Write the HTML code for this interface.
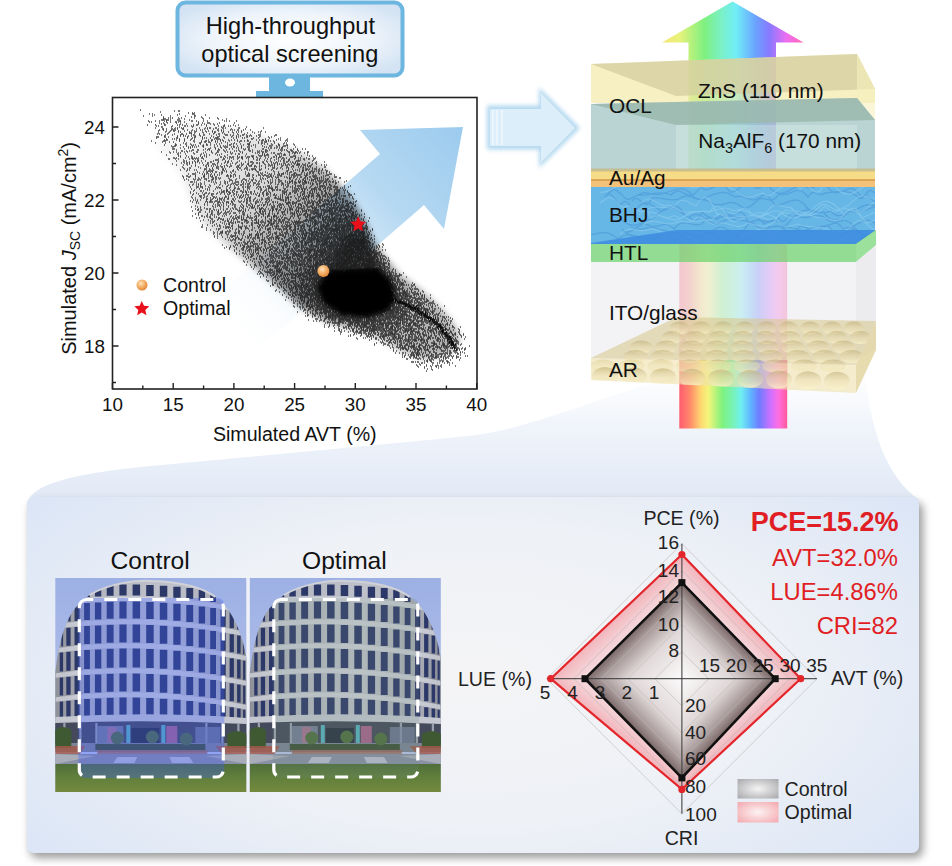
<!DOCTYPE html>
<html><head><meta charset="utf-8"><style>
html,body{margin:0;padding:0;background:#fff;width:952px;height:866px;overflow:hidden}
svg{position:absolute;left:0;top:0;font-family:"Liberation Sans",sans-serif}
</style></head><body>
<svg width="952" height="866" viewBox="0 0 952 866">

<defs>
 <linearGradient id="spot" gradientUnits="userSpaceOnUse" x1="0" y1="380" x2="0" y2="500">
  <stop offset="0" stop-color="#f6f8fc" stop-opacity="0.3"/>
  <stop offset="0.35" stop-color="#f1f5fb"/>
  <stop offset="1" stop-color="#e1e9f6"/>
 </linearGradient>
 <radialGradient id="panelg" cx="0.5" cy="0.5" r="0.62" gradientTransform="translate(0.5 0.5) scale(1 1.25) translate(-0.5 -0.5)">
  <stop offset="0" stop-color="#f4f4f6"/>
  <stop offset="0.55" stop-color="#eef1f6"/>
  <stop offset="1" stop-color="#dce6f6"/>
 </radialGradient>
 <filter id="pshadow" x="-5%" y="-5%" width="110%" height="115%">
  <feGaussianBlur stdDeviation="4"/>
 </filter>
</defs>

<path d="M27 503C33 484 70 474 150 466C260 456 400 443 476 435C520 430 590 402 640 387C680 376 715 368 740 362L864 362C870 430 885 475 919 500Z" fill="url(#spot)"/>
<rect x="30" y="502" width="893" height="356" rx="8" fill="#7a7a7a" opacity="0.75" filter="url(#pshadow)"/>
<rect x="27" y="497" width="892" height="356" rx="7" fill="url(#panelg)"/>
<defs>
 <radialGradient id="monfill" cx="50%" cy="50%" r="60%">
  <stop offset="0" stop-color="#ffffff"/>
  <stop offset="0.6" stop-color="#eef4fb"/>
  <stop offset="1" stop-color="#d3e3f3"/>
 </radialGradient>
</defs>
<rect x="177.5" y="2.5" width="225" height="73" rx="8" ry="8" fill="url(#monfill)" stroke="#6cb6e0" stroke-width="4"/>
<rect x="269" y="76" width="41" height="16" fill="#6cb6e0"/>
<rect x="256" y="91" width="67" height="6" fill="#6cb6e0"/>
<ellipse cx="290" cy="82.5" rx="5" ry="4" fill="#ffffff"/>
<text x="290.4" y="33.6" font-size="23.6" text-anchor="middle" fill="#111">High-throughput</text>
<text x="289.8" y="62" font-size="23.6" text-anchor="middle" fill="#111">optical screening</text>

<rect x="112.5" y="97.5" width="364.5" height="291.5" fill="none" stroke="#222" stroke-width="1.6"/>
<text x="112.5" y="411" font-size="18.8" text-anchor="middle" fill="#111">10</text>
<text x="173.2" y="411" font-size="18.8" text-anchor="middle" fill="#111">15</text>
<text x="233.9" y="411" font-size="18.8" text-anchor="middle" fill="#111">20</text>
<text x="294.6" y="411" font-size="18.8" text-anchor="middle" fill="#111">25</text>
<text x="355.3" y="411" font-size="18.8" text-anchor="middle" fill="#111">30</text>
<text x="416.0" y="411" font-size="18.8" text-anchor="middle" fill="#111">35</text>
<text x="476.7" y="411" font-size="18.8" text-anchor="middle" fill="#111">40</text>
<text x="105" y="352.6" font-size="18.8" text-anchor="end" fill="#111">18</text>
<text x="105" y="279.6" font-size="18.8" text-anchor="end" fill="#111">20</text>
<text x="105" y="206.6" font-size="18.8" text-anchor="end" fill="#111">22</text>
<text x="105" y="133.6" font-size="18.8" text-anchor="end" fill="#111">24</text>
<path d="M112.5 389v-6 M173.2 389v-6 M233.9 389v-6 M294.6 389v-6 M355.3 389v-6 M416.0 389v-6 M476.7 389v-6 M142.8 389v-3.5 M203.6 389v-3.5 M264.2 389v-3.5 M325.0 389v-3.5 M385.7 389v-3.5 M446.4 389v-3.5 M112.5 346.0h6 M112.5 273.0h6 M112.5 200.0h6 M112.5 127.0h6 M112.5 382.5h3.5 M112.5 309.5h3.5 M112.5 236.5h3.5 M112.5 163.5h3.5" stroke="#222" stroke-width="1.4" fill="none"/>
<text x="294.8" y="441" font-size="19.6" text-anchor="middle" fill="#111">Simulated AVT (%)</text>
<text transform="translate(75.6 248.4) rotate(-90)" font-size="20" text-anchor="middle" fill="#111">Simulated <tspan font-style="italic">J</tspan><tspan font-size="14" dy="4.5">SC</tspan><tspan dy="-4.5"> (mA/cm</tspan><tspan font-size="14" dy="-8">2</tspan><tspan dy="8">)</tspan></text>
<defs>
 <linearGradient id="barrow" gradientUnits="userSpaceOnUse" x1="463" y1="127" x2="175" y2="378">
  <stop offset="0" stop-color="#9ccbee"/>
  <stop offset="0.28" stop-color="#b6d9f2"/>
  <stop offset="0.5" stop-color="#e8f1fa"/>
  <stop offset="0.85" stop-color="#ffffff" stop-opacity="0"/>
 </linearGradient>
 <clipPath id="plotclip"><rect x="113" y="98" width="363" height="290"/></clipPath>
</defs>
<g clip-path="url(#plotclip)">
<path d="M463 127 L444 229 L424 205 L197 402 L153 351 L380 154 L360 130 Z" fill="url(#barrow)"/>
</g>
<defs><filter id="blurcore" x="-50%" y="-50%" width="200%" height="200%"><feGaussianBlur stdDeviation="2.6"/></filter><filter id="blurbase" x="-20%" y="-20%" width="140%" height="140%"><feGaussianBlur stdDeviation="3"/></filter><linearGradient id="cloudg" gradientUnits="userSpaceOnUse" x1="150" y1="115" x2="400" y2="320"><stop offset="0" stop-color="#000" stop-opacity="0"/><stop offset="0.4" stop-color="#000" stop-opacity="0.15"/><stop offset="0.72" stop-color="#000" stop-opacity="0.55"/><stop offset="1" stop-color="#000" stop-opacity="0.3"/></linearGradient></defs>
<polygon points="147.6,121.3 193.2,119.5 234.0,128.7 272.0,139.7 300.5,152.6 325.2,169.2 343.2,187.6 356.6,206.0 367.0,225.3 374.6,242.8 387.9,260.2 400.2,275.0 420.2,288.8 441.1,308.1 454.4,324.6 460.1,337.5 457.2,347.6 444.9,355.9 423.1,359.6 403.1,352.2 377.4,337.5 349.9,328.3 327.1,321.9 300.5,307.2 286.2,294.3 260.6,272.2 241.6,257.5 219.8,239.1 204.6,225.3 192.2,203.2 182.7,175.6 158.0,148.0" fill="url(#cloudg)" filter="url(#blurbase)"/>
<path d="M140 110h1m33 1h1m3 0h1m0 0h1m-20 1h1m27 1h1m3 0h1m1 0h1m-46 1h1m2 0h1m26 0h1m12 0h1m0 0h1m-40 1h1m6 0h1m15 0h1m16 0h1m10 0h1m-63 1h1m8 0h1m17 0h1m14 0h1m8 0h1m0 0h1m-33 1h1m27 0h1m9 0h1m-39 1h1m4 0h1m1 0h1m1 0h1m5 0h1m2 0h1m12 0h1m7 0h1m6 0h1m7 0h1m-55 1h1m0 0h1m0 0h1m13 0h1m4 0h1m18 0h1m14 0h1m7 0h1m-66 1h1m0 0h1m0 0h1m2 0h1m0 0h1m0 0h1m1 0h1m6 0h1m0 0h1m10 0h1m32 0h1m-75 1h1m6 0h1m3 0h1m4 0h1m1 0h1m12 0h1m0 0h1m10 0h1m0 0h1m3 0h1m6 0h1m3 0h1m16 0h1m1 0h1m2 0h1m6 0h1m-88 1h1m1 0h1m14 0h1m3 0h1m4 0h1m0 0h1m1 0h1m1 0h1m3 0h1m13 0h1m-40 1h1m3 0h1m3 0h1m8 0h1m21 0h1m3 0h1m4 0h1m0 0h1m0 0h1m9 0h1m14 0h1m-74 1h1m2 0h1m15 0h1m5 0h1m11 0h1m5 0h1m5 0h1m2 0h1m3 0h1m-71 1h1m7 0h1m8 0h1m0 0h1m11 0h1m1 0h1m2 0h1m10 0h1m2 0h1m0 0h1m3 0h1m4 0h1m7 0h1m9 0h1m8 0h1m4 0h1m-83 1h1m1 0h1m13 0h1m11 0h1m0 0h1m1 0h1m3 0h1m1 0h1m12 0h1m11 0h1m4 0h1m0 0h1m3 0h1m1 0h1m4 0h1m-75 1h1m0 0h1m8 0h1m7 0h1m12 0h1m28 0h1m1 0h1m22 0h1m-92 1h1m19 0h1m1 0h1m3 0h1m1 0h1m15 0h1m5 0h1m1 0h1m1 0h1m0 0h1m4 0h1m0 0h1m5 0h1m2 0h1m12 0h1m0 0h1m23 0h1m-102 1h1m0 0h1m2 0h1m4 0h1m0 0h1m1 0h1m2 0h1m4 0h1m0 0h1m12 0h1m7 0h1m2 0h1m5 0h1m4 0h1m4 0h1m7 0h1m13 0h1m-87 1h1m3 0h1m7 0h1m1 0h1m1 0h1m11 0h1m4 0h1m7 0h1m1 0h1m14 0h1m3 0h1m8 0h1m1 0h1m1 0h1m2 0h1m0 0h1m4 0h1m6 0h1m-93 1h1m7 0h1m3 0h1m2 0h1m0 0h1m3 0h1m5 0h1m6 0h1m2 0h1m1 0h1m8 0h1m2 0h1m3 0h1m5 0h1m2 0h1m1 0h1m17 0h1m19 0h1m-97 1h1m3 0h1m8 0h1m1 0h1m8 0h1m5 0h1m6 0h1m3 0h1m5 0h1m1 0h1m0 0h1m7 0h1m4 0h1m3 0h1m3 0h1m1 0h1m2 0h1m10 0h1m5 0h1m1 0h1m4 0h1m-108 1h1m9 0h1m20 0h1m0 0h1m0 0h1m2 0h1m8 0h1m10 0h1m7 0h1m10 0h1m13 0h1m6 0h1m-98 1h1m1 0h1m7 0h1m6 0h1m6 0h1m0 0h1m3 0h1m4 0h1m7 0h1m9 0h1m3 0h1m4 0h1m0 0h1m4 0h1m12 0h1m6 0h1m15 0h1m-100 1h1m3 0h1m6 0h1m7 0h1m2 0h1m9 0h1m0 0h1m4 0h1m3 0h1m0 0h1m11 0h1m8 0h1m0 0h1m0 0h1m2 0h1m2 0h1m4 0h1m3 0h1m0 0h1m2 0h1m3 0h1m7 0h1m0 0h1m15 0h1m0 0h1m-113 1h1m12 0h1m2 0h1m2 0h1m1 0h1m2 0h1m2 0h1m3 0h1m4 0h1m10 0h1m7 0h1m12 0h1m3 0h1m3 0h1m6 0h1m1 0h1m1 0h1m4 0h1m3 0h1m13 0h1m-119 1h1m0 0h1m0 0h1m5 0h1m0 0h1m2 0h1m8 0h1m9 0h1m6 0h1m0 0h1m6 0h1m10 0h1m3 0h1m0 0h1m4 0h1m7 0h1m4 0h1m1 0h1m7 0h1m0 0h1m11 0h1m8 0h1m2 0h1m-116 1h1m19 0h1m0 0h1m9 0h1m4 0h1m1 0h1m7 0h1m1 0h1m1 0h1m3 0h1m4 0h1m0 0h1m0 0h1m6 0h1m8 0h1m2 0h1m5 0h1m1 0h1m8 0h1m4 0h1m10 0h1m10 0h1m-115 1h1m5 0h1m1 0h1m4 0h1m4 0h1m6 0h1m10 0h1m11 0h1m1 0h1m1 0h1m0 0h1m31 0h1m0 0h1m12 0h1m12 0h1m8 0h1m-124 1h1m1 0h1m0 0h1m8 0h1m2 0h1m4 0h1m5 0h1m3 0h1m13 0h1m2 0h1m0 0h1m4 0h1m2 0h1m1 0h1m5 0h1m2 0h1m2 0h1m2 0h1m9 0h1m8 0h1m2 0h1m2 0h1m0 0h1m1 0h1m2 0h1m7 0h1m3 0h1m5 0h1m-136 1h1m11 0h1m0 0h1m0 0h1m13 0h1m4 0h1m8 0h1m7 0h1m3 0h1m0 0h1m4 0h1m3 0h1m4 0h1m2 0h1m5 0h1m7 0h1m2 0h1m0 0h1m2 0h1m2 0h1m0 0h1m12 0h1m0 0h1m3 0h1m1 0h1m1 0h1m2 0h1m11 0h1m1 0h1m-126 1h1m6 0h1m3 0h1m20 0h1m6 0h1m2 0h1m0 0h1m2 0h1m0 0h1m5 0h1m1 0h1m7 0h1m13 0h1m10 0h1m7 0h1m5 0h1m0 0h1m0 0h1m7 0h1m-120 1h1m9 0h1m17 0h1m2 0h1m12 0h1m0 0h1m9 0h1m10 0h1m5 0h1m6 0h1m14 0h1m8 0h1m2 0h1m0 0h1m11 0h1m9 0h1m1 0h1m-112 1h1m9 0h1m4 0h1m9 0h1m5 0h1m9 0h1m2 0h1m11 0h1m1 0h1m2 0h1m3 0h1m6 0h1m0 0h1m0 0h1m11 0h1m2 0h1m2 0h1m3 0h1m6 0h1m4 0h1m9 0h1m-130 1h1m10 0h1m0 0h1m3 0h1m5 0h1m4 0h1m1 0h1m1 0h1m7 0h1m2 0h1m0 0h1m2 0h1m3 0h1m12 0h1m1 0h1m0 0h1m12 0h1m4 0h1m0 0h1m3 0h1m1 0h1m16 0h1m5 0h1m0 0h1m6 0h1m0 0h1m6 0h1m-124 1h1m2 0h1m0 0h1m10 0h1m5 0h1m5 0h1m3 0h1m0 0h1m13 0h1m2 0h1m2 0h1m1 0h1m7 0h1m3 0h1m3 0h1m9 0h1m10 0h1m6 0h1m0 0h1m0 0h1m4 0h1m2 0h1m3 0h1m0 0h1m0 0h1m1 0h1m-116 1h1m0 0h1m9 0h1m4 0h1m1 0h1m1 0h1m1 0h1m1 0h1m6 0h1m10 0h1m5 0h1m3 0h1m1 0h1m0 0h1m3 0h1m1 0h1m0 0h1m6 0h1m5 0h1m0 0h1m0 0h1m5 0h1m8 0h1m1 0h1m10 0h1m4 0h1m12 0h1m-116 1h1m7 0h1m1 0h1m19 0h1m4 0h1m5 0h1m3 0h1m10 0h1m1 0h1m2 0h1m26 0h1m1 0h1m0 0h1m2 0h1m1 0h1m2 0h1m1 0h1m0 0h1m4 0h1m-116 1h1m0 0h1m0 0h1m9 0h1m20 0h1m2 0h1m0 0h1m5 0h1m2 0h1m10 0h1m2 0h1m10 0h1m1 0h1m2 0h1m0 0h1m12 0h1m0 0h1m17 0h1m11 0h1m3 0h1m4 0h1m2 0h1m-130 1h1m15 0h1m0 0h1m3 0h1m0 0h1m4 0h1m3 0h1m1 0h1m8 0h1m0 0h1m3 0h1m2 0h1m11 0h1m5 0h1m3 0h1m3 0h1m12 0h1m0 0h1m2 0h1m8 0h1m1 0h1m1 0h1m1 0h1m1 0h1m3 0h1m0 0h1m5 0h1m-117 1h1m0 0h1m3 0h1m2 0h1m1 0h1m19 0h1m5 0h1m6 0h1m9 0h1m1 0h1m2 0h1m9 0h1m0 0h1m6 0h1m1 0h1m1 0h1m3 0h1m1 0h1m13 0h1m5 0h1m3 0h1m0 0h1m5 0h1m-138 1h1m7 0h1m3 0h1m2 0h1m7 0h1m2 0h1m8 0h1m0 0h1m7 0h1m5 0h1m5 0h1m0 0h1m6 0h1m1 0h1m2 0h1m9 0h1m1 0h1m9 0h1m5 0h1m3 0h1m0 0h1m1 0h1m0 0h1m21 0h1m0 0h1m3 0h1m1 0h1m0 0h1m3 0h1m6 0h1m0 0h1m-139 1h1m7 0h1m1 0h1m12 0h1m9 0h1m8 0h1m3 0h1m13 0h1m1 0h1m9 0h1m12 0h1m1 0h1m1 0h1m2 0h1m8 0h1m1 0h1m0 0h1m5 0h1m8 0h1m2 0h1m1 0h1m0 0h1m1 0h1m1 0h1m4 0h1m2 0h1m-131 1h1m7 0h1m8 0h1m6 0h1m4 0h1m8 0h1m5 0h1m9 0h1m3 0h1m2 0h1m0 0h1m6 0h1m15 0h1m1 0h1m2 0h1m9 0h1m0 0h1m0 0h1m1 0h1m2 0h1m9 0h1m-129 1h1m11 0h1m21 0h1m3 0h1m4 0h1m7 0h1m1 0h1m7 0h1m30 0h1m3 0h1m1 0h1m1 0h1m0 0h1m0 0h1m6 0h1m7 0h1m0 0h1m0 0h1m3 0h1m17 0h1m-130 1h1m1 0h1m5 0h1m4 0h1m8 0h1m3 0h1m1 0h1m17 0h1m12 0h1m7 0h1m5 0h1m0 0h1m0 0h1m5 0h1m0 0h1m0 0h1m2 0h1m0 0h1m10 0h1m2 0h1m1 0h1m11 0h1m0 0h1m0 0h1m5 0h1m7 0h1m2 0h1m-133 1h1m7 0h1m3 0h1m9 0h1m3 0h1m13 0h1m0 0h1m3 0h1m3 0h1m0 0h1m1 0h1m0 0h1m3 0h1m1 0h1m1 0h1m0 0h1m4 0h1m0 0h1m0 0h1m2 0h1m3 0h1m11 0h1m4 0h1m0 0h1m1 0h1m2 0h1m0 0h1m9 0h1m0 0h1m0 0h1m2 0h1m-123 1h1m0 0h1m1 0h1m8 0h1m5 0h1m0 0h1m1 0h1m1 0h1m1 0h1m2 0h1m0 0h1m20 0h1m3 0h1m3 0h1m6 0h1m2 0h1m0 0h1m3 0h1m6 0h1m3 0h1m2 0h1m4 0h1m5 0h1m6 0h1m3 0h1m0 0h1m2 0h1m8 0h1m2 0h1m1 0h1m5 0h1m6 0h1m1 0h1m-148 1h1m0 0h1m5 0h1m2 0h1m10 0h1m2 0h1m0 0h1m1 0h1m1 0h1m5 0h1m14 0h1m4 0h1m0 0h1m4 0h1m3 0h1m3 0h1m4 0h1m5 0h1m4 0h1m5 0h1m7 0h1m2 0h1m5 0h1m1 0h1m2 0h1m2 0h1m4 0h1m4 0h1m8 0h1m0 0h1m3 0h1m0 0h1m4 0h1m-132 1h1m14 0h1m16 0h1m0 0h1m0 0h1m4 0h1m33 0h1m0 0h1m1 0h1m4 0h1m9 0h1m8 0h1m4 0h1m0 0h1m8 0h1m1 0h1m3 0h1m8 0h1m-138 1h1m7 0h1m1 0h1m7 0h1m2 0h1m0 0h1m2 0h1m3 0h1m7 0h1m4 0h1m6 0h1m2 0h1m2 0h1m7 0h1m8 0h1m17 0h1m3 0h1m7 0h1m1 0h1m2 0h1m0 0h1m3 0h1m7 0h1m0 0h1m0 0h1m0 0h1m12 0h1m-130 1h1m2 0h1m2 0h1m2 0h1m2 0h1m1 0h1m12 0h1m0 0h1m6 0h1m6 0h1m1 0h1m0 0h1m8 0h1m7 0h1m4 0h1m0 0h1m0 0h1m9 0h1m0 0h1m3 0h1m3 0h1m4 0h1m9 0h1m0 0h1m2 0h1m1 0h1m2 0h1m20 0h1m7 0h1m-144 1h1m2 0h1m2 0h1m1 0h1m2 0h1m2 0h1m3 0h1m2 0h1m4 0h1m0 0h1m8 0h1m6 0h1m2 0h1m4 0h1m3 0h1m4 0h1m6 0h1m4 0h1m2 0h1m0 0h1m1 0h1m3 0h1m7 0h1m1 0h1m1 0h1m1 0h1m5 0h1m0 0h1m8 0h1m1 0h1m1 0h1m10 0h1m0 0h1m5 0h1m-144 1h1m13 0h1m2 0h1m17 0h1m4 0h1m0 0h1m0 0h1m2 0h1m3 0h1m8 0h1m4 0h1m5 0h1m1 0h1m3 0h1m0 0h1m3 0h1m6 0h1m4 0h1m3 0h1m5 0h1m2 0h1m1 0h1m1 0h1m3 0h1m2 0h1m2 0h1m2 0h1m2 0h1m0 0h1m0 0h1m2 0h1m2 0h1m6 0h1m3 0h1m-141 1h1m6 0h1m3 0h1m7 0h1m7 0h1m2 0h1m1 0h1m6 0h1m10 0h1m12 0h1m2 0h1m5 0h1m2 0h1m13 0h1m3 0h1m1 0h1m0 0h1m1 0h1m2 0h1m3 0h1m1 0h1m1 0h1m1 0h1m1 0h1m6 0h1m0 0h1m0 0h1m0 0h1m3 0h1m0 0h1m2 0h1m3 0h1m9 0h1m2 0h1m1 0h1m-136 1h1m3 0h1m9 0h1m2 0h1m2 0h1m1 0h1m3 0h1m2 0h1m3 0h1m2 0h1m2 0h1m0 0h1m5 0h1m0 0h1m2 0h1m4 0h1m2 0h1m0 0h1m0 0h1m2 0h1m0 0h1m3 0h1m1 0h1m6 0h1m1 0h1m3 0h1m7 0h1m3 0h1m5 0h1m0 0h1m7 0h1m3 0h1m1 0h1m1 0h1m0 0h1m-129 1h1m15 0h1m7 0h1m9 0h1m1 0h1m2 0h1m0 0h1m1 0h1m4 0h1m6 0h1m1 0h1m7 0h1m7 0h1m1 0h1m2 0h1m5 0h1m6 0h1m1 0h1m6 0h1m5 0h1m3 0h1m1 0h1m4 0h1m1 0h1m2 0h1m4 0h1m1 0h1m5 0h1m7 0h1m0 0h1m-143 1h1m5 0h1m0 0h1m9 0h1m5 0h1m5 0h1m3 0h1m0 0h1m19 0h1m1 0h1m0 0h1m4 0h1m1 0h1m17 0h1m7 0h1m0 0h1m2 0h1m2 0h1m5 0h1m1 0h1m13 0h1m0 0h1m1 0h1m6 0h1m-129 1h1m2 0h1m16 0h1m0 0h1m3 0h1m2 0h1m5 0h1m3 0h1m0 0h1m1 0h1m11 0h1m6 0h1m1 0h1m4 0h1m0 0h1m0 0h1m0 0h1m0 0h1m3 0h1m1 0h1m6 0h1m3 0h1m3 0h1m5 0h1m5 0h1m3 0h1m6 0h1m6 0h1m0 0h1m1 0h1m2 0h1m1 0h1m0 0h1m0 0h1m2 0h1m2 0h1m-143 1h1m6 0h1m1 0h1m4 0h1m1 0h1m7 0h1m1 0h1m3 0h1m2 0h1m8 0h1m0 0h1m9 0h1m4 0h1m2 0h1m5 0h1m1 0h1m2 0h1m2 0h1m3 0h1m0 0h1m10 0h1m16 0h1m6 0h1m1 0h1m4 0h1m0 0h1m1 0h1m0 0h1m1 0h1m9 0h1m3 0h1m2 0h1m-140 1h1m21 0h1m0 0h1m1 0h1m0 0h1m11 0h1m1 0h1m5 0h1m0 0h1m22 0h1m16 0h1m12 0h1m0 0h1m5 0h1m5 0h1m2 0h1m0 0h1m7 0h1m0 0h1m1 0h1m1 0h1m2 0h1m1 0h1m4 0h1m0 0h1m-131 1h1m5 0h1m2 0h1m0 0h1m2 0h1m1 0h1m2 0h1m0 0h1m4 0h1m0 0h1m3 0h1m3 0h1m4 0h1m9 0h1m11 0h1m0 0h1m6 0h1m8 0h1m3 0h1m8 0h1m2 0h1m0 0h1m10 0h1m6 0h1m0 0h1m2 0h1m4 0h1m7 0h1m2 0h1m-135 1h1m3 0h1m7 0h1m11 0h1m2 0h1m8 0h1m16 0h1m11 0h1m1 0h1m4 0h1m10 0h1m4 0h1m1 0h1m3 0h1m4 0h1m0 0h1m5 0h1m2 0h1m2 0h1m2 0h1m1 0h1m0 0h1m4 0h1m2 0h1m1 0h1m2 0h1m-139 1h1m3 0h1m0 0h1m0 0h1m7 0h1m1 0h1m1 0h1m1 0h1m2 0h1m2 0h1m6 0h1m12 0h1m10 0h1m2 0h1m0 0h1m8 0h1m2 0h1m7 0h1m1 0h1m2 0h1m4 0h1m1 0h1m0 0h1m0 0h1m3 0h1m5 0h1m0 0h1m1 0h1m4 0h1m4 0h1m2 0h1m9 0h1m9 0h1m0 0h1m0 0h1m-137 1h1m8 0h1m5 0h1m3 0h1m2 0h1m1 0h1m7 0h1m2 0h1m2 0h1m1 0h1m11 0h1m1 0h1m2 0h1m0 0h1m4 0h1m0 0h1m2 0h1m1 0h1m0 0h1m2 0h1m1 0h1m6 0h1m0 0h1m0 0h1m1 0h1m7 0h1m1 0h1m0 0h1m1 0h1m1 0h1m0 0h1m0 0h1m0 0h1m0 0h1m3 0h1m1 0h1m0 0h1m5 0h1m1 0h1m10 0h1m0 0h1m0 0h1m5 0h1m-153 1h1m3 0h1m0 0h1m2 0h1m4 0h1m7 0h1m0 0h1m3 0h1m1 0h1m1 0h1m13 0h1m0 0h1m0 0h1m1 0h1m0 0h1m3 0h1m3 0h1m6 0h1m0 0h1m0 0h1m0 0h1m6 0h1m3 0h1m2 0h1m2 0h1m0 0h1m2 0h1m0 0h1m1 0h1m6 0h1m0 0h1m11 0h1m1 0h1m9 0h1m0 0h1m5 0h1m1 0h1m1 0h1m6 0h1m1 0h1m-143 1h1m4 0h1m0 0h1m5 0h1m7 0h1m0 0h1m6 0h1m0 0h1m2 0h1m0 0h1m13 0h1m2 0h1m18 0h1m15 0h1m0 0h1m1 0h1m3 0h1m1 0h1m0 0h1m5 0h1m1 0h1m2 0h1m1 0h1m2 0h1m2 0h1m2 0h1m0 0h1m3 0h1m3 0h1m0 0h1m2 0h1m0 0h1m0 0h1m5 0h1m7 0h1m4 0h1m0 0h1m0 0h1m-154 1h1m14 0h1m2 0h1m6 0h1m4 0h1m1 0h1m2 0h1m1 0h1m7 0h1m10 0h1m13 0h1m6 0h1m1 0h1m4 0h1m4 0h1m3 0h1m10 0h1m1 0h1m0 0h1m2 0h1m10 0h1m0 0h1m1 0h1m8 0h1m0 0h1m1 0h1m1 0h1m1 0h1m15 0h1m0 0h1m-155 1h1m6 0h1m1 0h1m3 0h1m4 0h1m0 0h1m0 0h1m5 0h1m0 0h1m2 0h1m2 0h1m9 0h1m6 0h1m6 0h1m0 0h1m4 0h1m3 0h1m6 0h1m2 0h1m1 0h1m12 0h1m10 0h1m0 0h1m5 0h1m2 0h1m3 0h1m3 0h1m3 0h1m2 0h1m0 0h1m1 0h1m1 0h1m5 0h1m1 0h1m0 0h1m3 0h1m-149 1h1m3 0h1m5 0h1m2 0h1m0 0h1m1 0h1m5 0h1m4 0h1m0 0h1m2 0h1m14 0h1m0 0h1m3 0h1m6 0h1m2 0h1m0 0h1m4 0h1m0 0h1m2 0h1m5 0h1m8 0h1m1 0h1m2 0h1m2 0h1m0 0h1m12 0h1m2 0h1m6 0h1m0 0h1m1 0h1m3 0h1m1 0h1m0 0h1m0 0h1m1 0h1m1 0h1m3 0h1m1 0h1m2 0h1m0 0h1m-120 1h1m0 0h1m14 0h1m4 0h1m2 0h1m8 0h1m6 0h1m3 0h1m3 0h1m2 0h1m7 0h1m12 0h1m0 0h1m3 0h1m3 0h1m1 0h1m0 0h1m5 0h1m1 0h1m3 0h1m0 0h1m5 0h1m1 0h1m4 0h1m0 0h1m0 0h1m1 0h1m2 0h1m3 0h1m3 0h1m1 0h1m10 0h1m-157 1h1m0 0h1m0 0h1m1 0h1m1 0h1m7 0h1m6 0h1m1 0h1m1 0h1m4 0h1m4 0h1m1 0h1m7 0h1m0 0h1m0 0h1m0 0h1m2 0h1m1 0h1m2 0h1m3 0h1m7 0h1m2 0h1m6 0h1m1 0h1m1 0h1m2 0h1m2 0h1m0 0h1m5 0h1m1 0h1m1 0h1m0 0h1m1 0h1m1 0h1m0 0h1m2 0h1m0 0h1m0 0h1m1 0h1m1 0h1m0 0h1m0 0h1m1 0h1m6 0h1m0 0h1m4 0h1m2 0h1m0 0h1m0 0h1m1 0h1m1 0h1m1 0h1m0 0h1m4 0h1m5 0h1m-145 1h1m15 0h1m7 0h1m2 0h1m4 0h1m1 0h1m8 0h1m5 0h1m3 0h1m0 0h1m0 0h1m8 0h1m3 0h1m2 0h1m9 0h1m0 0h1m4 0h1m1 0h1m2 0h1m2 0h1m0 0h1m2 0h1m3 0h1m1 0h1m0 0h1m1 0h1m1 0h1m1 0h1m6 0h1m0 0h1m2 0h1m11 0h1m0 0h1m-144 1h1m2 0h1m1 0h1m2 0h1m2 0h1m9 0h1m5 0h1m4 0h1m5 0h1m1 0h1m1 0h1m2 0h1m3 0h1m2 0h1m1 0h1m0 0h1m0 0h1m7 0h1m0 0h1m0 0h1m10 0h1m4 0h1m2 0h1m3 0h1m0 0h1m4 0h1m5 0h1m7 0h1m1 0h1m5 0h1m1 0h1m0 0h1m2 0h1m0 0h1m1 0h1m3 0h1m2 0h1m2 0h1m5 0h1m-147 1h1m2 0h1m5 0h1m1 0h1m8 0h1m9 0h1m8 0h1m1 0h1m5 0h1m0 0h1m2 0h1m0 0h1m1 0h1m9 0h1m2 0h1m20 0h1m3 0h1m3 0h1m1 0h1m7 0h1m4 0h1m2 0h1m8 0h1m4 0h1m8 0h1m2 0h1m0 0h1m-135 1h1m3 0h1m4 0h1m4 0h1m11 0h1m4 0h1m6 0h1m12 0h1m0 0h1m1 0h1m7 0h1m8 0h1m0 0h1m0 0h1m1 0h1m11 0h1m4 0h1m3 0h1m2 0h1m1 0h1m0 0h1m0 0h1m1 0h1m9 0h1m7 0h1m0 0h1m0 0h1m0 0h1m0 0h1m0 0h1m6 0h1m2 0h1m9 0h1m5 0h1m-161 1h1m6 0h1m0 0h1m1 0h1m0 0h1m0 0h1m5 0h1m7 0h1m1 0h1m7 0h1m3 0h1m7 0h1m3 0h1m0 0h1m1 0h1m1 0h1m1 0h1m7 0h1m1 0h1m0 0h1m2 0h1m1 0h1m3 0h1m5 0h1m0 0h1m0 0h1m8 0h1m0 0h1m2 0h1m1 0h1m2 0h1m4 0h1m2 0h1m2 0h1m3 0h1m4 0h1m1 0h1m2 0h1m1 0h1m2 0h1m2 0h1m1 0h1m2 0h1m0 0h1m0 0h1m0 0h1m0 0h1m10 0h1m-153 1h1m5 0h1m6 0h1m7 0h1m1 0h1m0 0h1m8 0h1m4 0h1m0 0h1m11 0h1m0 0h1m7 0h1m3 0h1m7 0h1m0 0h1m0 0h1m0 0h1m0 0h1m2 0h1m7 0h1m8 0h1m1 0h1m3 0h1m2 0h1m1 0h1m2 0h1m2 0h1m4 0h1m1 0h1m2 0h1m4 0h1m0 0h1m1 0h1m1 0h1m7 0h1m2 0h1m1 0h1m1 0h1m-154 1h1m7 0h1m5 0h1m1 0h1m7 0h1m10 0h1m7 0h1m2 0h1m0 0h1m0 0h1m3 0h1m5 0h1m8 0h1m2 0h1m4 0h1m1 0h1m2 0h1m0 0h1m4 0h1m6 0h1m0 0h1m9 0h1m0 0h1m0 0h1m1 0h1m1 0h1m0 0h1m1 0h1m0 0h1m5 0h1m0 0h1m0 0h1m0 0h1m0 0h1m2 0h1m1 0h1m2 0h1m3 0h1m2 0h1m0 0h1m3 0h1m0 0h1m-143 1h1m12 0h1m1 0h1m11 0h1m4 0h1m0 0h1m2 0h1m2 0h1m9 0h1m3 0h1m12 0h1m0 0h1m3 0h1m6 0h1m0 0h1m0 0h1m1 0h1m0 0h1m1 0h1m0 0h1m3 0h1m2 0h1m4 0h1m1 0h1m2 0h1m4 0h1m1 0h1m2 0h1m3 0h1m2 0h1m1 0h1m2 0h1m0 0h1m4 0h1m3 0h1m4 0h1m2 0h1m0 0h1m0 0h1m3 0h1m1 0h1m-153 1h1m6 0h1m0 0h1m1 0h1m9 0h1m9 0h1m0 0h1m1 0h1m0 0h1m4 0h1m1 0h1m5 0h1m0 0h1m3 0h1m8 0h1m9 0h1m1 0h1m1 0h1m3 0h1m9 0h1m0 0h1m2 0h1m6 0h1m1 0h1m0 0h1m1 0h1m3 0h1m1 0h1m5 0h1m1 0h1m1 0h1m1 0h1m4 0h1m2 0h1m0 0h1m3 0h1m4 0h1m1 0h1m0 0h1m1 0h1m4 0h1m2 0h1m-158 1h1m28 0h1m1 0h1m0 0h1m0 0h1m2 0h1m1 0h1m0 0h1m2 0h1m3 0h1m0 0h1m4 0h1m0 0h1m1 0h1m0 0h1m1 0h1m1 0h1m0 0h1m2 0h1m5 0h1m2 0h1m5 0h1m12 0h1m1 0h1m0 0h1m0 0h1m5 0h1m1 0h1m1 0h1m4 0h1m1 0h1m0 0h1m4 0h1m2 0h1m1 0h1m6 0h1m0 0h1m2 0h1m12 0h1m8 0h1m-158 1h1m5 0h1m5 0h1m2 0h1m0 0h1m2 0h1m7 0h1m3 0h1m2 0h1m4 0h1m0 0h1m2 0h1m8 0h1m3 0h1m3 0h1m6 0h1m4 0h1m0 0h1m2 0h1m0 0h1m2 0h1m12 0h1m0 0h1m4 0h1m0 0h1m3 0h1m0 0h1m4 0h1m3 0h1m2 0h1m1 0h1m0 0h1m1 0h1m3 0h1m1 0h1m6 0h1m0 0h1m1 0h1m5 0h1m0 0h1m0 0h1m0 0h1m1 0h1m4 0h1m3 0h1m-156 1h1m4 0h1m5 0h1m3 0h1m2 0h1m0 0h1m0 0h1m2 0h1m3 0h1m3 0h1m2 0h1m1 0h1m4 0h1m1 0h1m9 0h1m4 0h1m1 0h1m1 0h1m3 0h1m2 0h1m3 0h1m1 0h1m1 0h1m3 0h1m7 0h1m1 0h1m1 0h1m2 0h1m0 0h1m6 0h1m4 0h1m0 0h1m0 0h1m6 0h1m1 0h1m3 0h1m3 0h1m0 0h1m2 0h1m0 0h1m2 0h1m0 0h1m5 0h1m12 0h1m4 0h1m-163 1h1m10 0h1m0 0h1m6 0h1m16 0h1m4 0h1m2 0h1m1 0h1m2 0h1m1 0h1m1 0h1m1 0h1m0 0h1m7 0h1m2 0h1m3 0h1m2 0h1m0 0h1m5 0h1m0 0h1m1 0h1m3 0h1m1 0h1m3 0h1m1 0h1m8 0h1m2 0h1m1 0h1m5 0h1m0 0h1m2 0h1m4 0h1m0 0h1m0 0h1m4 0h1m2 0h1m1 0h1m1 0h1m2 0h1m0 0h1m0 0h1m0 0h1m1 0h1m8 0h1m0 0h1m0 0h1m0 0h1m-153 1h1m0 0h1m0 0h1m5 0h1m4 0h1m12 0h1m5 0h1m8 0h1m2 0h1m14 0h1m0 0h1m3 0h1m6 0h1m4 0h1m6 0h1m11 0h1m5 0h1m3 0h1m1 0h1m1 0h1m0 0h1m1 0h1m0 0h1m0 0h1m2 0h1m1 0h1m0 0h1m2 0h1m0 0h1m0 0h1m0 0h1m1 0h1m2 0h1m2 0h1m0 0h1m6 0h1m1 0h1m0 0h1m0 0h1m-155 1h1m8 0h1m3 0h1m1 0h1m6 0h1m0 0h1m1 0h1m8 0h1m0 0h1m1 0h1m5 0h1m2 0h1m1 0h1m0 0h1m1 0h1m2 0h1m2 0h1m1 0h1m17 0h1m6 0h1m2 0h1m1 0h1m1 0h1m2 0h1m1 0h1m0 0h1m1 0h1m0 0h1m6 0h1m0 0h1m3 0h1m1 0h1m1 0h1m0 0h1m2 0h1m5 0h1m1 0h1m0 0h1m4 0h1m2 0h1m2 0h1m0 0h1m3 0h1m2 0h1m9 0h1m2 0h1m-161 1h1m2 0h1m5 0h1m1 0h1m6 0h1m2 0h1m1 0h1m3 0h1m2 0h1m1 0h1m3 0h1m10 0h1m1 0h1m5 0h1m1 0h1m0 0h1m4 0h1m5 0h1m5 0h1m1 0h1m4 0h1m0 0h1m0 0h1m3 0h1m1 0h1m3 0h1m0 0h1m0 0h1m6 0h1m5 0h1m1 0h1m1 0h1m2 0h1m4 0h1m6 0h1m1 0h1m4 0h1m1 0h1m1 0h1m6 0h1m13 0h1m-147 1h1m0 0h1m4 0h1m4 0h1m1 0h1m0 0h1m0 0h1m2 0h1m2 0h1m0 0h1m3 0h1m0 0h1m1 0h1m8 0h1m1 0h1m2 0h1m4 0h1m7 0h1m2 0h1m0 0h1m1 0h1m8 0h1m0 0h1m0 0h1m0 0h1m4 0h1m2 0h1m7 0h1m1 0h1m3 0h1m0 0h1m0 0h1m1 0h1m9 0h1m2 0h1m2 0h1m12 0h1m0 0h1m2 0h1m0 0h1m1 0h1m0 0h1m9 0h1m-161 1h1m1 0h1m1 0h1m2 0h1m5 0h1m3 0h1m0 0h1m5 0h1m3 0h1m1 0h1m9 0h1m12 0h1m0 0h1m2 0h1m2 0h1m3 0h1m1 0h1m1 0h1m5 0h1m1 0h1m1 0h1m8 0h1m0 0h1m0 0h1m0 0h1m1 0h1m0 0h1m1 0h1m1 0h1m9 0h1m5 0h1m1 0h1m2 0h1m7 0h1m0 0h1m0 0h1m2 0h1m0 0h1m0 0h1m0 0h1m0 0h1m2 0h1m0 0h1m2 0h1m0 0h1m5 0h1m-153 1h1m6 0h1m8 0h1m3 0h1m4 0h1m0 0h1m2 0h1m4 0h1m6 0h1m2 0h1m3 0h1m2 0h1m2 0h1m2 0h1m1 0h1m0 0h1m2 0h1m2 0h1m9 0h1m2 0h1m13 0h1m1 0h1m11 0h1m0 0h1m0 0h1m4 0h1m4 0h1m2 0h1m1 0h1m3 0h1m0 0h1m2 0h1m1 0h1m2 0h1m0 0h1m1 0h1m1 0h1m0 0h1m1 0h1m0 0h1m0 0h1m5 0h1m1 0h1m0 0h1m0 0h1m8 0h1m-165 1h1m3 0h1m8 0h1m1 0h1m1 0h1m0 0h1m0 0h1m0 0h1m1 0h1m2 0h1m0 0h1m0 0h1m2 0h1m3 0h1m0 0h1m0 0h1m2 0h1m0 0h1m6 0h1m0 0h1m2 0h1m2 0h1m8 0h1m1 0h1m0 0h1m1 0h1m4 0h1m0 0h1m1 0h1m3 0h1m0 0h1m1 0h1m1 0h1m7 0h1m2 0h1m0 0h1m2 0h1m0 0h1m2 0h1m8 0h1m1 0h1m0 0h1m2 0h1m1 0h1m1 0h1m1 0h1m1 0h1m0 0h1m2 0h1m1 0h1m2 0h1m0 0h1m2 0h1m2 0h1m4 0h1m1 0h1m0 0h1m1 0h1m4 0h1m2 0h1m1 0h1m-160 1h1m1 0h1m8 0h1m10 0h1m1 0h1m2 0h1m2 0h1m1 0h1m3 0h1m13 0h1m0 0h1m2 0h1m4 0h1m0 0h1m5 0h1m4 0h1m5 0h1m3 0h1m8 0h1m0 0h1m0 0h1m0 0h1m0 0h1m1 0h1m1 0h1m0 0h1m0 0h1m5 0h1m1 0h1m3 0h1m0 0h1m0 0h1m1 0h1m0 0h1m2 0h1m0 0h1m1 0h1m0 0h1m8 0h1m1 0h1m3 0h1m0 0h1m0 0h1m0 0h1m3 0h1m4 0h1m1 0h1m0 0h1m0 0h1m-148 1h1m8 0h1m3 0h1m5 0h1m6 0h1m2 0h1m7 0h1m4 0h1m4 0h1m3 0h1m9 0h1m1 0h1m2 0h1m8 0h1m0 0h1m1 0h1m3 0h1m0 0h1m4 0h1m0 0h1m4 0h1m0 0h1m0 0h1m4 0h1m1 0h1m4 0h1m0 0h1m4 0h1m4 0h1m0 0h1m0 0h1m0 0h1m0 0h1m0 0h1m2 0h1m1 0h1m0 0h1m1 0h1m2 0h1m2 0h1m3 0h1m1 0h1m3 0h1m0 0h1m-150 1h1m2 0h1m7 0h1m2 0h1m0 0h1m1 0h1m4 0h1m5 0h1m1 0h1m0 0h1m6 0h1m5 0h1m0 0h1m2 0h1m6 0h1m1 0h1m1 0h1m0 0h1m2 0h1m1 0h1m3 0h1m4 0h1m1 0h1m0 0h1m1 0h1m4 0h1m1 0h1m4 0h1m2 0h1m1 0h1m0 0h1m4 0h1m0 0h1m4 0h1m0 0h1m2 0h1m0 0h1m0 0h1m3 0h1m0 0h1m0 0h1m1 0h1m0 0h1m1 0h1m0 0h1m0 0h1m1 0h1m0 0h1m1 0h1m2 0h1m1 0h1m1 0h1m2 0h1m0 0h1m0 0h1m6 0h1m-161 1h1m16 0h1m4 0h1m1 0h1m3 0h1m4 0h1m11 0h1m2 0h1m2 0h1m3 0h1m1 0h1m1 0h1m2 0h1m0 0h1m4 0h1m7 0h1m2 0h1m2 0h1m1 0h1m8 0h1m2 0h1m3 0h1m2 0h1m2 0h1m1 0h1m2 0h1m3 0h1m0 0h1m7 0h1m0 0h1m0 0h1m0 0h1m0 0h1m0 0h1m6 0h1m2 0h1m0 0h1m2 0h1m1 0h1m1 0h1m2 0h1m0 0h1m0 0h1m3 0h1m2 0h1m0 0h1m-165 1h1m5 0h1m2 0h1m12 0h1m1 0h1m4 0h1m2 0h1m4 0h1m5 0h1m0 0h1m5 0h1m1 0h1m3 0h1m3 0h1m0 0h1m1 0h1m11 0h1m5 0h1m0 0h1m0 0h1m2 0h1m1 0h1m1 0h1m2 0h1m4 0h1m1 0h1m1 0h1m3 0h1m3 0h1m2 0h1m2 0h1m0 0h1m0 0h1m1 0h1m0 0h1m1 0h1m1 0h1m1 0h1m1 0h1m3 0h1m2 0h1m0 0h1m2 0h1m1 0h1m3 0h1m0 0h1m2 0h1m0 0h1m0 0h1m0 0h1m2 0h1m0 0h1m0 0h1m2 0h1m-153 1h1m3 0h1m27 0h1m6 0h1m2 0h1m6 0h1m1 0h1m0 0h1m0 0h1m3 0h1m1 0h1m1 0h1m0 0h1m8 0h1m0 0h1m7 0h1m0 0h1m7 0h1m0 0h1m5 0h1m1 0h1m0 0h1m0 0h1m2 0h1m8 0h1m0 0h1m1 0h1m0 0h1m3 0h1m5 0h1m2 0h1m0 0h1m1 0h1m0 0h1m0 0h1m0 0h1m0 0h1m0 0h1m1 0h1m0 0h1m0 0h1m0 0h1m1 0h1m6 0h1m0 0h1m-158 1h1m2 0h1m7 0h1m0 0h1m1 0h1m0 0h1m2 0h1m6 0h1m2 0h1m2 0h1m0 0h1m2 0h1m2 0h1m1 0h1m0 0h1m6 0h1m1 0h1m9 0h1m3 0h1m0 0h1m0 0h1m1 0h1m1 0h1m2 0h1m3 0h1m0 0h1m1 0h1m0 0h1m0 0h1m5 0h1m1 0h1m1 0h1m2 0h1m0 0h1m0 0h1m3 0h1m1 0h1m2 0h1m0 0h1m1 0h1m2 0h1m4 0h1m1 0h1m0 0h1m4 0h1m2 0h1m3 0h1m1 0h1m0 0h1m0 0h1m0 0h1m1 0h1m1 0h1m2 0h1m0 0h1m4 0h1m0 0h1m0 0h1m0 0h1m1 0h1m0 0h1m1 0h1m-157 1h1m0 0h1m1 0h1m0 0h1m12 0h1m1 0h1m1 0h1m4 0h1m13 0h1m1 0h1m1 0h1m3 0h1m2 0h1m6 0h1m4 0h1m3 0h1m5 0h1m1 0h1m0 0h1m2 0h1m2 0h1m0 0h1m4 0h1m3 0h1m0 0h1m1 0h1m2 0h1m2 0h1m3 0h1m3 0h1m1 0h1m0 0h1m0 0h1m3 0h1m0 0h1m0 0h1m0 0h1m0 0h1m2 0h1m0 0h1m0 0h1m0 0h1m0 0h1m0 0h1m1 0h1m0 0h1m1 0h1m3 0h1m0 0h1m0 0h1m1 0h1m0 0h1m0 0h1m3 0h1m0 0h1m0 0h1m0 0h1m1 0h1m10 0h1m-170 1h1m16 0h1m1 0h1m0 0h1m5 0h1m6 0h1m3 0h1m1 0h1m6 0h1m0 0h1m0 0h1m2 0h1m1 0h1m13 0h1m0 0h1m1 0h1m1 0h1m0 0h1m3 0h1m2 0h1m3 0h1m1 0h1m5 0h1m2 0h1m8 0h1m0 0h1m0 0h1m3 0h1m0 0h1m0 0h1m0 0h1m0 0h1m1 0h1m2 0h1m0 0h1m0 0h1m0 0h1m2 0h1m3 0h1m1 0h1m1 0h1m1 0h1m0 0h1m0 0h1m0 0h1m0 0h1m0 0h1m1 0h1m0 0h1m2 0h1m0 0h1m1 0h1m0 0h1m0 0h1m0 0h1m0 0h1m0 0h1m0 0h1m1 0h1m0 0h1m0 0h1m4 0h1m4 0h1m-163 1h1m0 0h1m4 0h1m3 0h1m7 0h1m0 0h1m2 0h1m3 0h1m1 0h1m0 0h1m13 0h1m0 0h1m12 0h1m2 0h1m0 0h1m1 0h1m0 0h1m5 0h1m2 0h1m8 0h1m0 0h1m0 0h1m0 0h1m2 0h1m2 0h1m3 0h1m1 0h1m1 0h1m1 0h1m1 0h1m3 0h1m3 0h1m2 0h1m1 0h1m0 0h1m1 0h1m2 0h1m2 0h1m0 0h1m0 0h1m0 0h1m1 0h1m0 0h1m1 0h1m1 0h1m0 0h1m4 0h1m0 0h1m0 0h1m1 0h1m1 0h1m1 0h1m0 0h1m2 0h1m0 0h1m1 0h1m-158 1h1m12 0h1m0 0h1m5 0h1m1 0h1m3 0h1m1 0h1m3 0h1m2 0h1m0 0h1m0 0h1m3 0h1m4 0h1m5 0h1m4 0h1m1 0h1m2 0h1m4 0h1m3 0h1m7 0h1m0 0h1m3 0h1m4 0h1m3 0h1m0 0h1m1 0h1m1 0h1m8 0h1m0 0h1m4 0h1m0 0h1m1 0h1m0 0h1m0 0h1m0 0h1m3 0h1m1 0h1m0 0h1m4 0h1m1 0h1m0 0h1m0 0h1m2 0h1m0 0h1m0 0h1m5 0h1m2 0h1m2 0h1m1 0h1m0 0h1m-159 1h1m2 0h1m8 0h1m3 0h1m5 0h1m1 0h1m3 0h1m1 0h1m3 0h1m12 0h1m0 0h1m10 0h1m3 0h1m2 0h1m0 0h1m0 0h1m1 0h1m2 0h1m0 0h1m2 0h1m1 0h1m2 0h1m4 0h1m1 0h1m5 0h1m1 0h1m0 0h1m0 0h1m2 0h1m1 0h1m1 0h1m2 0h1m0 0h1m1 0h1m2 0h1m2 0h1m0 0h1m1 0h1m0 0h1m0 0h1m0 0h1m0 0h1m0 0h1m2 0h1m4 0h1m0 0h1m0 0h1m0 0h1m0 0h1m0 0h1m0 0h1m4 0h1m1 0h1m1 0h1m0 0h1m5 0h1m0 0h1m0 0h1m1 0h1m1 0h1m6 0h1m-167 1h1m8 0h1m2 0h1m1 0h1m1 0h1m3 0h1m7 0h1m9 0h1m6 0h1m0 0h1m2 0h1m11 0h1m3 0h1m4 0h1m5 0h1m8 0h1m1 0h1m8 0h1m2 0h1m1 0h1m0 0h1m2 0h1m0 0h1m2 0h1m0 0h1m0 0h1m0 0h1m7 0h1m1 0h1m0 0h1m1 0h1m3 0h1m3 0h1m0 0h1m3 0h1m0 0h1m0 0h1m0 0h1m0 0h1m1 0h1m0 0h1m0 0h1m0 0h1m2 0h1m2 0h1m0 0h1m0 0h1m2 0h1m2 0h1m1 0h1m-170 1h1m8 0h1m0 0h1m3 0h1m15 0h1m1 0h1m6 0h1m3 0h1m3 0h1m1 0h1m5 0h1m2 0h1m4 0h1m0 0h1m1 0h1m4 0h1m3 0h1m0 0h1m0 0h1m3 0h1m0 0h1m0 0h1m0 0h1m3 0h1m10 0h1m0 0h1m1 0h1m2 0h1m0 0h1m6 0h1m1 0h1m7 0h1m0 0h1m0 0h1m0 0h1m0 0h1m0 0h1m1 0h1m3 0h1m2 0h1m1 0h1m0 0h1m2 0h1m0 0h1m1 0h1m1 0h1m0 0h1m1 0h1m1 0h1m0 0h1m1 0h1m0 0h1m1 0h1m0 0h1m0 0h1m0 0h1m0 0h1m0 0h1m2 0h1m-156 1h1m2 0h1m1 0h1m0 0h1m3 0h1m1 0h1m13 0h1m2 0h1m3 0h1m0 0h1m2 0h1m1 0h1m3 0h1m0 0h1m5 0h1m1 0h1m4 0h1m3 0h1m1 0h1m3 0h1m1 0h1m0 0h1m1 0h1m1 0h1m3 0h1m7 0h1m7 0h1m6 0h1m0 0h1m0 0h1m1 0h1m0 0h1m1 0h1m0 0h1m0 0h1m0 0h1m2 0h1m0 0h1m0 0h1m1 0h1m1 0h1m0 0h1m0 0h1m0 0h1m0 0h1m0 0h1m4 0h1m2 0h1m2 0h1m0 0h1m3 0h1m0 0h1m0 0h1m1 0h1m0 0h1m0 0h1m3 0h1m8 0h1m-169 1h1m2 0h1m10 0h1m7 0h1m0 0h1m12 0h1m2 0h1m0 0h1m1 0h1m0 0h1m1 0h1m1 0h1m2 0h1m2 0h1m0 0h1m0 0h1m0 0h1m3 0h1m8 0h1m5 0h1m5 0h1m3 0h1m2 0h1m0 0h1m0 0h1m3 0h1m2 0h1m4 0h1m1 0h1m9 0h1m0 0h1m0 0h1m0 0h1m0 0h1m2 0h1m2 0h1m1 0h1m0 0h1m2 0h1m1 0h1m0 0h1m1 0h1m0 0h1m0 0h1m0 0h1m0 0h1m0 0h1m2 0h1m0 0h1m3 0h1m0 0h1m0 0h1m1 0h1m2 0h1m0 0h1m0 0h1m0 0h1m1 0h1m0 0h1m0 0h1m10 0h1m-159 1h1m0 0h1m5 0h1m1 0h1m0 0h1m1 0h1m3 0h1m1 0h1m3 0h1m0 0h1m1 0h1m4 0h1m1 0h1m11 0h1m0 0h1m8 0h1m3 0h1m1 0h1m1 0h1m2 0h1m2 0h1m4 0h1m2 0h1m1 0h1m9 0h1m6 0h1m2 0h1m1 0h1m0 0h1m0 0h1m4 0h1m3 0h1m0 0h1m1 0h1m0 0h1m3 0h1m1 0h1m0 0h1m0 0h1m2 0h1m0 0h1m0 0h1m0 0h1m0 0h1m0 0h1m0 0h1m0 0h1m0 0h1m0 0h1m0 0h1m2 0h1m0 0h1m1 0h1m0 0h1m3 0h1m2 0h1m1 0h1m-161 1h1m4 0h1m8 0h1m4 0h1m0 0h1m3 0h1m3 0h1m5 0h1m3 0h1m0 0h1m1 0h1m0 0h1m0 0h1m4 0h1m2 0h1m0 0h1m2 0h1m3 0h1m7 0h1m0 0h1m2 0h1m3 0h1m0 0h1m0 0h1m1 0h1m0 0h1m0 0h1m3 0h1m0 0h1m9 0h1m5 0h1m0 0h1m0 0h1m1 0h1m0 0h1m3 0h1m0 0h1m6 0h1m0 0h1m0 0h1m0 0h1m1 0h1m0 0h1m0 0h1m0 0h1m0 0h1m0 0h1m0 0h1m0 0h1m0 0h1m0 0h1m2 0h1m0 0h1m1 0h1m3 0h1m0 0h1m1 0h1m1 0h1m2 0h1m8 0h1m-164 1h1m9 0h1m1 0h1m1 0h1m10 0h1m1 0h1m0 0h1m2 0h1m1 0h1m11 0h1m0 0h1m0 0h1m4 0h1m3 0h1m1 0h1m2 0h1m3 0h1m1 0h1m0 0h1m1 0h1m0 0h1m2 0h1m0 0h1m0 0h1m2 0h1m2 0h1m8 0h1m2 0h1m1 0h1m1 0h1m4 0h1m0 0h1m0 0h1m0 0h1m1 0h1m1 0h1m0 0h1m0 0h1m1 0h1m0 0h1m0 0h1m1 0h1m4 0h1m3 0h1m1 0h1m1 0h1m0 0h1m1 0h1m0 0h1m2 0h1m0 0h1m0 0h1m0 0h1m0 0h1m1 0h1m0 0h1m1 0h1m0 0h1m0 0h1m1 0h1m0 0h1m3 0h1m1 0h1m9 0h1m-156 1h1m6 0h1m3 0h1m3 0h1m1 0h1m4 0h1m1 0h1m0 0h1m0 0h1m4 0h1m3 0h1m7 0h1m1 0h1m1 0h1m1 0h1m0 0h1m4 0h1m0 0h1m3 0h1m4 0h1m1 0h1m0 0h1m1 0h1m1 0h1m0 0h1m0 0h1m0 0h1m3 0h1m1 0h1m0 0h1m0 0h1m0 0h1m0 0h1m0 0h1m0 0h1m0 0h1m0 0h1m5 0h1m4 0h1m1 0h1m1 0h1m1 0h1m0 0h1m0 0h1m1 0h1m0 0h1m0 0h1m2 0h1m1 0h1m0 0h1m0 0h1m0 0h1m2 0h1m0 0h1m0 0h1m0 0h1m0 0h1m1 0h1m1 0h1m1 0h1m1 0h1m1 0h1m1 0h1m0 0h1m0 0h1m0 0h1m0 0h1m2 0h1m4 0h1m-155 1h1m1 0h1m9 0h1m6 0h1m1 0h1m0 0h1m0 0h1m1 0h1m5 0h1m0 0h1m3 0h1m0 0h1m3 0h1m0 0h1m1 0h1m0 0h1m0 0h1m0 0h1m0 0h1m2 0h1m2 0h1m0 0h1m3 0h1m0 0h1m0 0h1m1 0h1m0 0h1m1 0h1m1 0h1m2 0h1m1 0h1m5 0h1m3 0h1m1 0h1m1 0h1m0 0h1m0 0h1m0 0h1m2 0h1m6 0h1m1 0h1m1 0h1m0 0h1m0 0h1m1 0h1m6 0h1m0 0h1m0 0h1m0 0h1m1 0h1m4 0h1m0 0h1m1 0h1m0 0h1m1 0h1m1 0h1m0 0h1m1 0h1m0 0h1m0 0h1m0 0h1m0 0h1m0 0h1m1 0h1m0 0h1m0 0h1m0 0h1m2 0h1m6 0h1m-151 1h1m7 0h1m1 0h1m1 0h1m0 0h1m12 0h1m8 0h1m6 0h1m9 0h1m2 0h1m0 0h1m0 0h1m3 0h1m7 0h1m1 0h1m3 0h1m1 0h1m1 0h1m0 0h1m0 0h1m6 0h1m1 0h1m5 0h1m1 0h1m0 0h1m0 0h1m0 0h1m2 0h1m0 0h1m1 0h1m3 0h1m0 0h1m1 0h1m1 0h1m0 0h1m1 0h1m0 0h1m1 0h1m2 0h1m4 0h1m0 0h1m0 0h1m0 0h1m1 0h1m0 0h1m1 0h1m0 0h1m1 0h1m0 0h1m0 0h1m2 0h1m0 0h1m-162 1h1m4 0h1m6 0h1m4 0h1m9 0h1m2 0h1m5 0h1m12 0h1m0 0h1m6 0h1m0 0h1m1 0h1m1 0h1m2 0h1m0 0h1m1 0h1m0 0h1m4 0h1m5 0h1m3 0h1m2 0h1m0 0h1m3 0h1m3 0h1m0 0h1m2 0h1m0 0h1m3 0h1m2 0h1m3 0h1m0 0h1m1 0h1m4 0h1m0 0h1m0 0h1m1 0h1m0 0h1m0 0h1m0 0h1m4 0h1m0 0h1m0 0h1m0 0h1m1 0h1m0 0h1m0 0h1m0 0h1m0 0h1m0 0h1m0 0h1m1 0h1m0 0h1m0 0h1m0 0h1m1 0h1m0 0h1m0 0h1m0 0h1m0 0h1m1 0h1m3 0h1m3 0h1m-155 1h1m4 0h1m1 0h1m0 0h1m4 0h1m5 0h1m0 0h1m5 0h1m3 0h1m1 0h1m1 0h1m2 0h1m2 0h1m4 0h1m1 0h1m3 0h1m2 0h1m0 0h1m4 0h1m1 0h1m1 0h1m0 0h1m0 0h1m2 0h1m2 0h1m1 0h1m0 0h1m0 0h1m0 0h1m4 0h1m0 0h1m1 0h1m0 0h1m1 0h1m0 0h1m0 0h1m1 0h1m2 0h1m0 0h1m0 0h1m0 0h1m2 0h1m0 0h1m5 0h1m0 0h1m0 0h1m0 0h1m1 0h1m0 0h1m0 0h1m0 0h1m0 0h1m1 0h1m0 0h1m0 0h1m0 0h1m0 0h1m0 0h1m0 0h1m0 0h1m0 0h1m2 0h1m0 0h1m0 0h1m0 0h1m0 0h1m0 0h1m0 0h1m0 0h1m0 0h1m0 0h1m0 0h1m0 0h1m0 0h1m0 0h1m0 0h1m0 0h1m0 0h1m0 0h1m1 0h1m3 0h1m0 0h1m-166 1h1m0 0h1m20 0h1m2 0h1m0 0h1m0 0h1m0 0h1m8 0h1m0 0h1m0 0h1m0 0h1m3 0h1m12 0h1m0 0h1m1 0h1m3 0h1m6 0h1m2 0h1m0 0h1m1 0h1m3 0h1m0 0h1m1 0h1m1 0h1m2 0h1m0 0h1m2 0h1m0 0h1m5 0h1m1 0h1m0 0h1m4 0h1m2 0h1m5 0h1m1 0h1m0 0h1m1 0h1m0 0h1m0 0h1m0 0h1m0 0h1m7 0h1m0 0h1m1 0h1m0 0h1m0 0h1m0 0h1m0 0h1m0 0h1m0 0h1m0 0h1m1 0h1m0 0h1m1 0h1m1 0h1m1 0h1m1 0h1m2 0h1m0 0h1m1 0h1m4 0h1m-162 1h1m13 0h1m4 0h1m0 0h1m1 0h1m1 0h1m1 0h1m7 0h1m0 0h1m3 0h1m0 0h1m0 0h1m4 0h1m1 0h1m3 0h1m3 0h1m2 0h1m3 0h1m0 0h1m5 0h1m9 0h1m2 0h1m0 0h1m4 0h1m2 0h1m1 0h1m0 0h1m1 0h1m5 0h1m1 0h1m2 0h1m0 0h1m0 0h1m1 0h1m2 0h1m0 0h1m1 0h1m0 0h1m0 0h1m1 0h1m0 0h1m0 0h1m0 0h1m0 0h1m2 0h1m0 0h1m0 0h1m0 0h1m0 0h1m1 0h1m0 0h1m0 0h1m0 0h1m1 0h1m0 0h1m1 0h1m0 0h1m2 0h1m2 0h1m0 0h1m0 0h1m0 0h1m2 0h1m0 0h1m0 0h1m0 0h1m0 0h1m-151 1h1m1 0h1m0 0h1m12 0h1m3 0h1m1 0h1m2 0h1m3 0h1m2 0h1m11 0h1m4 0h1m1 0h1m0 0h1m0 0h1m3 0h1m1 0h1m1 0h1m0 0h1m0 0h1m0 0h1m2 0h1m0 0h1m0 0h1m0 0h1m2 0h1m0 0h1m3 0h1m0 0h1m1 0h1m0 0h1m3 0h1m1 0h1m4 0h1m0 0h1m3 0h1m0 0h1m1 0h1m0 0h1m1 0h1m0 0h1m0 0h1m2 0h1m0 0h1m0 0h1m1 0h1m0 0h1m0 0h1m0 0h1m0 0h1m0 0h1m0 0h1m0 0h1m0 0h1m0 0h1m0 0h1m1 0h1m0 0h1m0 0h1m0 0h1m1 0h1m0 0h1m0 0h1m0 0h1m0 0h1m1 0h1m0 0h1m0 0h1m0 0h1m0 0h1m0 0h1m0 0h1m0 0h1m0 0h1m0 0h1m0 0h1m1 0h1m1 0h1m0 0h1m4 0h1m-167 1h1m3 0h1m7 0h1m10 0h1m5 0h1m15 0h1m0 0h1m6 0h1m0 0h1m6 0h1m0 0h1m1 0h1m8 0h1m1 0h1m1 0h1m3 0h1m3 0h1m1 0h1m0 0h1m0 0h1m4 0h1m0 0h1m0 0h1m1 0h1m0 0h1m2 0h1m0 0h1m1 0h1m2 0h1m2 0h1m0 0h1m0 0h1m0 0h1m0 0h1m1 0h1m1 0h1m0 0h1m0 0h1m0 0h1m0 0h1m1 0h1m0 0h1m0 0h1m0 0h1m0 0h1m0 0h1m0 0h1m0 0h1m0 0h1m1 0h1m0 0h1m0 0h1m0 0h1m0 0h1m0 0h1m1 0h1m0 0h1m0 0h1m1 0h1m0 0h1m1 0h1m0 0h1m0 0h1m0 0h1m2 0h1m0 0h1m0 0h1m2 0h1m5 0h1m-151 1h1m4 0h1m2 0h1m7 0h1m0 0h1m4 0h1m4 0h1m5 0h1m30 0h1m3 0h1m1 0h1m2 0h1m3 0h1m0 0h1m2 0h1m1 0h1m3 0h1m0 0h1m0 0h1m2 0h1m1 0h1m2 0h1m2 0h1m0 0h1m2 0h1m1 0h1m1 0h1m0 0h1m0 0h1m0 0h1m0 0h1m0 0h1m0 0h1m0 0h1m1 0h1m0 0h1m1 0h1m0 0h1m0 0h1m1 0h1m0 0h1m0 0h1m4 0h1m1 0h1m0 0h1m0 0h1m0 0h1m0 0h1m2 0h1m0 0h1m6 0h1m-158 1h1m3 0h1m2 0h1m0 0h1m0 0h1m2 0h1m0 0h1m1 0h1m0 0h1m5 0h1m2 0h1m0 0h1m3 0h1m13 0h1m1 0h1m3 0h1m0 0h1m3 0h1m0 0h1m0 0h1m5 0h1m4 0h1m0 0h1m3 0h1m0 0h1m4 0h1m1 0h1m2 0h1m3 0h1m0 0h1m0 0h1m2 0h1m4 0h1m0 0h1m0 0h1m0 0h1m0 0h1m0 0h1m0 0h1m1 0h1m1 0h1m0 0h1m0 0h1m0 0h1m0 0h1m1 0h1m2 0h1m0 0h1m1 0h1m0 0h1m1 0h1m0 0h1m1 0h1m0 0h1m0 0h1m1 0h1m0 0h1m0 0h1m0 0h1m1 0h1m1 0h1m0 0h1m0 0h1m1 0h1m0 0h1m0 0h1m0 0h1m0 0h1m1 0h1m0 0h1m0 0h1m1 0h1m1 0h1m1 0h1m-155 1h1m5 0h1m0 0h1m0 0h1m2 0h1m8 0h1m1 0h1m1 0h1m5 0h1m12 0h1m4 0h1m5 0h1m5 0h1m0 0h1m0 0h1m2 0h1m4 0h1m0 0h1m1 0h1m5 0h1m0 0h1m0 0h1m7 0h1m1 0h1m0 0h1m0 0h1m0 0h1m0 0h1m1 0h1m0 0h1m0 0h1m2 0h1m0 0h1m0 0h1m1 0h1m0 0h1m0 0h1m2 0h1m0 0h1m0 0h1m1 0h1m0 0h1m0 0h1m2 0h1m1 0h1m0 0h1m0 0h1m0 0h1m1 0h1m0 0h1m0 0h1m0 0h1m2 0h1m2 0h1m0 0h1m0 0h1m1 0h1m1 0h1m2 0h1m0 0h1m0 0h1m0 0h1m0 0h1m0 0h1m4 0h1m-157 1h1m3 0h1m1 0h1m6 0h1m1 0h1m6 0h1m3 0h1m1 0h1m1 0h1m5 0h1m1 0h1m4 0h1m1 0h1m1 0h1m0 0h1m0 0h1m3 0h1m3 0h1m1 0h1m2 0h1m4 0h1m1 0h1m2 0h1m0 0h1m1 0h1m3 0h1m0 0h1m1 0h1m2 0h1m0 0h1m1 0h1m0 0h1m0 0h1m0 0h1m1 0h1m2 0h1m0 0h1m0 0h1m0 0h1m1 0h1m0 0h1m0 0h1m1 0h1m0 0h1m0 0h1m0 0h1m0 0h1m1 0h1m3 0h1m1 0h1m1 0h1m0 0h1m0 0h1m0 0h1m1 0h1m1 0h1m0 0h1m1 0h1m1 0h1m0 0h1m0 0h1m1 0h1m0 0h1m0 0h1m0 0h1m0 0h1m1 0h1m0 0h1m2 0h1m0 0h1m1 0h1m0 0h1m0 0h1m3 0h1m1 0h1m-149 1h1m5 0h1m3 0h1m3 0h1m7 0h1m5 0h1m0 0h1m0 0h1m3 0h1m0 0h1m0 0h1m0 0h1m1 0h1m8 0h1m2 0h1m3 0h1m2 0h1m0 0h1m0 0h1m1 0h1m6 0h1m2 0h1m0 0h1m1 0h1m5 0h1m1 0h1m0 0h1m0 0h1m2 0h1m1 0h1m0 0h1m0 0h1m1 0h1m0 0h1m0 0h1m3 0h1m0 0h1m0 0h1m0 0h1m0 0h1m0 0h1m0 0h1m0 0h1m0 0h1m1 0h1m2 0h1m0 0h1m0 0h1m1 0h1m0 0h1m0 0h1m0 0h1m0 0h1m0 0h1m0 0h1m1 0h1m1 0h1m0 0h1m0 0h1m0 0h1m0 0h1m0 0h1m0 0h1m0 0h1m0 0h1m1 0h1m0 0h1m0 0h1m1 0h1m0 0h1m0 0h1m3 0h1m2 0h1m-158 1h1m2 0h1m12 0h1m1 0h1m0 0h1m0 0h1m0 0h1m1 0h1m4 0h1m4 0h1m1 0h1m5 0h1m2 0h1m3 0h1m4 0h1m0 0h1m8 0h1m0 0h1m3 0h1m0 0h1m1 0h1m2 0h1m2 0h1m0 0h1m4 0h1m2 0h1m1 0h1m1 0h1m0 0h1m0 0h1m1 0h1m2 0h1m0 0h1m0 0h1m0 0h1m1 0h1m0 0h1m0 0h1m1 0h1m2 0h1m1 0h1m1 0h1m0 0h1m4 0h1m1 0h1m0 0h1m0 0h1m1 0h1m1 0h1m0 0h1m1 0h1m0 0h1m0 0h1m0 0h1m0 0h1m0 0h1m0 0h1m0 0h1m0 0h1m0 0h1m0 0h1m0 0h1m0 0h1m0 0h1m0 0h1m0 0h1m0 0h1m2 0h1m0 0h1m2 0h1m0 0h1m5 0h1m-161 1h1m7 0h1m4 0h1m3 0h1m0 0h1m4 0h1m7 0h1m2 0h1m2 0h1m3 0h1m1 0h1m0 0h1m3 0h1m3 0h1m4 0h1m0 0h1m2 0h1m0 0h1m0 0h1m6 0h1m0 0h1m7 0h1m1 0h1m2 0h1m3 0h1m2 0h1m2 0h1m0 0h1m1 0h1m2 0h1m0 0h1m1 0h1m0 0h1m0 0h1m0 0h1m0 0h1m1 0h1m0 0h1m1 0h1m0 0h1m0 0h1m0 0h1m0 0h1m0 0h1m0 0h1m0 0h1m0 0h1m0 0h1m0 0h1m0 0h1m1 0h1m0 0h1m0 0h1m0 0h1m0 0h1m0 0h1m0 0h1m0 0h1m0 0h1m0 0h1m0 0h1m0 0h1m1 0h1m0 0h1m2 0h1m1 0h1m2 0h1m0 0h1m0 0h1m1 0h1m0 0h1m-150 1h1m11 0h1m5 0h1m0 0h1m1 0h1m3 0h1m4 0h1m0 0h1m1 0h1m2 0h1m0 0h1m2 0h1m0 0h1m0 0h1m4 0h1m2 0h1m1 0h1m0 0h1m2 0h1m2 0h1m0 0h1m0 0h1m0 0h1m4 0h1m4 0h1m0 0h1m0 0h1m1 0h1m0 0h1m0 0h1m0 0h1m2 0h1m1 0h1m0 0h1m0 0h1m0 0h1m0 0h1m1 0h1m1 0h1m0 0h1m0 0h1m0 0h1m0 0h1m0 0h1m0 0h1m1 0h1m2 0h1m0 0h1m0 0h1m0 0h1m1 0h1m0 0h1m0 0h1m0 0h1m0 0h1m0 0h1m0 0h1m1 0h1m2 0h1m0 0h1m0 0h1m0 0h1m0 0h1m0 0h1m0 0h1m1 0h1m0 0h1m0 0h1m0 0h1m1 0h1m0 0h1m0 0h1m1 0h1m1 0h1m0 0h1m1 0h1m4 0h1m0 0h1m2 0h1m0 0h1m2 0h1m-147 1h1m7 0h1m1 0h1m2 0h1m0 0h1m1 0h1m10 0h1m2 0h1m6 0h1m1 0h1m3 0h1m2 0h1m1 0h1m1 0h1m2 0h1m2 0h1m0 0h1m5 0h1m2 0h1m1 0h1m2 0h1m0 0h1m5 0h1m0 0h1m0 0h1m2 0h1m0 0h1m1 0h1m0 0h1m0 0h1m0 0h1m0 0h1m0 0h1m0 0h1m0 0h1m0 0h1m2 0h1m0 0h1m0 0h1m0 0h1m0 0h1m0 0h1m0 0h1m1 0h1m1 0h1m1 0h1m0 0h1m1 0h1m0 0h1m0 0h1m0 0h1m0 0h1m0 0h1m0 0h1m0 0h1m0 0h1m0 0h1m0 0h1m0 0h1m0 0h1m0 0h1m1 0h1m0 0h1m0 0h1m0 0h1m0 0h1m0 0h1m0 0h1m1 0h1m0 0h1m0 0h1m0 0h1m0 0h1m0 0h1m4 0h1m3 0h1m-147 1h1m1 0h1m1 0h1m1 0h1m0 0h1m4 0h1m0 0h1m2 0h1m4 0h1m3 0h1m5 0h1m1 0h1m0 0h1m0 0h1m4 0h1m0 0h1m6 0h1m1 0h1m7 0h1m0 0h1m1 0h1m1 0h1m2 0h1m0 0h1m3 0h1m2 0h1m0 0h1m3 0h1m0 0h1m0 0h1m0 0h1m0 0h1m1 0h1m0 0h1m1 0h1m0 0h1m0 0h1m1 0h1m0 0h1m0 0h1m1 0h1m0 0h1m0 0h1m0 0h1m1 0h1m3 0h1m0 0h1m2 0h1m0 0h1m0 0h1m0 0h1m0 0h1m0 0h1m0 0h1m0 0h1m0 0h1m1 0h1m0 0h1m0 0h1m0 0h1m0 0h1m0 0h1m0 0h1m0 0h1m0 0h1m0 0h1m0 0h1m0 0h1m0 0h1m0 0h1m0 0h1m0 0h1m0 0h1m0 0h1m0 0h1m0 0h1m5 0h1m-142 1h1m17 0h1m3 0h1m5 0h1m4 0h1m0 0h1m13 0h1m2 0h1m0 0h1m4 0h1m0 0h1m0 0h1m1 0h1m3 0h1m2 0h1m1 0h1m0 0h1m1 0h1m1 0h1m3 0h1m0 0h1m0 0h1m3 0h1m0 0h1m0 0h1m0 0h1m1 0h1m0 0h1m0 0h1m0 0h1m0 0h1m0 0h1m2 0h1m1 0h1m1 0h1m0 0h1m0 0h1m3 0h1m0 0h1m0 0h1m0 0h1m0 0h1m2 0h1m0 0h1m1 0h1m2 0h1m0 0h1m0 0h1m2 0h1m0 0h1m0 0h1m0 0h1m0 0h1m0 0h1m0 0h1m0 0h1m1 0h1m0 0h1m0 0h1m-134 1h1m7 0h1m0 0h1m2 0h1m0 0h1m2 0h1m0 0h1m1 0h1m7 0h1m1 0h1m0 0h1m3 0h1m0 0h1m1 0h1m2 0h1m1 0h1m2 0h1m2 0h1m0 0h1m0 0h1m0 0h1m2 0h1m4 0h1m0 0h1m4 0h1m0 0h1m0 0h1m2 0h1m1 0h1m0 0h1m0 0h1m0 0h1m0 0h1m2 0h1m1 0h1m0 0h1m0 0h1m0 0h1m0 0h1m1 0h1m1 0h1m0 0h1m0 0h1m0 0h1m0 0h1m0 0h1m1 0h1m0 0h1m1 0h1m0 0h1m0 0h1m0 0h1m0 0h1m2 0h1m0 0h1m0 0h1m1 0h1m1 0h1m0 0h1m0 0h1m0 0h1m0 0h1m0 0h1m0 0h1m0 0h1m0 0h1m0 0h1m1 0h1m0 0h1m0 0h1m0 0h1m0 0h1m0 0h1m0 0h1m0 0h1m0 0h1m1 0h1m0 0h1m4 0h1m-141 1h1m3 0h1m0 0h1m1 0h1m3 0h1m1 0h1m2 0h1m1 0h1m8 0h1m0 0h1m3 0h1m1 0h1m7 0h1m2 0h1m0 0h1m0 0h1m0 0h1m1 0h1m10 0h1m0 0h1m0 0h1m0 0h1m2 0h1m0 0h1m1 0h1m0 0h1m0 0h1m0 0h1m0 0h1m3 0h1m4 0h1m4 0h1m0 0h1m0 0h1m0 0h1m0 0h1m0 0h1m1 0h1m0 0h1m0 0h1m0 0h1m0 0h1m1 0h1m0 0h1m0 0h1m0 0h1m1 0h1m0 0h1m0 0h1m2 0h1m0 0h1m1 0h1m0 0h1m0 0h1m0 0h1m0 0h1m0 0h1m0 0h1m0 0h1m0 0h1m0 0h1m0 0h1m0 0h1m0 0h1m0 0h1m0 0h1m0 0h1m0 0h1m0 0h1m0 0h1m0 0h1m1 0h1m0 0h1m-135 1h1m7 0h1m0 0h1m0 0h1m0 0h1m2 0h1m2 0h1m0 0h1m0 0h1m0 0h1m0 0h1m1 0h1m1 0h1m2 0h1m3 0h1m5 0h1m0 0h1m2 0h1m0 0h1m4 0h1m1 0h1m0 0h1m2 0h1m2 0h1m0 0h1m2 0h1m0 0h1m2 0h1m3 0h1m0 0h1m4 0h1m0 0h1m3 0h1m1 0h1m0 0h1m1 0h1m0 0h1m0 0h1m0 0h1m0 0h1m0 0h1m0 0h1m2 0h1m0 0h1m0 0h1m1 0h1m0 0h1m1 0h1m0 0h1m0 0h1m0 0h1m1 0h1m0 0h1m0 0h1m0 0h1m0 0h1m1 0h1m0 0h1m0 0h1m0 0h1m1 0h1m0 0h1m0 0h1m0 0h1m2 0h1m0 0h1m0 0h1m0 0h1m0 0h1m0 0h1m2 0h1m4 0h1m0 0h1m8 0h1m-161 1h1m12 0h1m1 0h1m2 0h1m1 0h1m10 0h1m11 0h1m3 0h1m1 0h1m0 0h1m3 0h1m2 0h1m4 0h1m0 0h1m0 0h1m5 0h1m3 0h1m2 0h1m1 0h1m0 0h1m1 0h1m0 0h1m0 0h1m1 0h1m1 0h1m0 0h1m0 0h1m3 0h1m0 0h1m0 0h1m1 0h1m0 0h1m0 0h1m0 0h1m0 0h1m0 0h1m0 0h1m1 0h1m0 0h1m0 0h1m0 0h1m0 0h1m0 0h1m0 0h1m0 0h1m0 0h1m0 0h1m0 0h1m1 0h1m0 0h1m0 0h1m0 0h1m0 0h1m1 0h1m1 0h1m0 0h1m0 0h1m0 0h1m0 0h1m0 0h1m3 0h1m0 0h1m0 0h1m0 0h1m0 0h1m0 0h1m0 0h1m2 0h1m2 0h1m8 0h1m4 0h1m-154 1h1m2 0h1m6 0h1m2 0h1m0 0h1m2 0h1m0 0h1m1 0h1m0 0h1m0 0h1m2 0h1m1 0h1m0 0h1m5 0h1m6 0h1m9 0h1m1 0h1m1 0h1m1 0h1m1 0h1m3 0h1m1 0h1m0 0h1m0 0h1m0 0h1m2 0h1m0 0h1m0 0h1m5 0h1m1 0h1m1 0h1m0 0h1m0 0h1m0 0h1m3 0h1m1 0h1m0 0h1m2 0h1m0 0h1m0 0h1m0 0h1m0 0h1m0 0h1m0 0h1m0 0h1m0 0h1m0 0h1m0 0h1m0 0h1m0 0h1m0 0h1m0 0h1m0 0h1m1 0h1m0 0h1m0 0h1m0 0h1m0 0h1m0 0h1m0 0h1m1 0h1m0 0h1m0 0h1m0 0h1m0 0h1m0 0h1m0 0h1m0 0h1m1 0h1m1 0h1m0 0h1m0 0h1m0 0h1m0 0h1m0 0h1m0 0h1m1 0h1m1 0h1m3 0h1m2 0h1m-154 1h1m3 0h1m3 0h1m8 0h1m0 0h1m1 0h1m1 0h1m0 0h1m0 0h1m2 0h1m1 0h1m2 0h1m2 0h1m3 0h1m3 0h1m0 0h1m1 0h1m0 0h1m3 0h1m4 0h1m0 0h1m1 0h1m0 0h1m6 0h1m2 0h1m1 0h1m0 0h1m1 0h1m1 0h1m1 0h1m3 0h1m0 0h1m0 0h1m0 0h1m0 0h1m1 0h1m0 0h1m0 0h1m0 0h1m1 0h1m0 0h1m0 0h1m1 0h1m1 0h1m0 0h1m0 0h1m0 0h1m0 0h1m0 0h1m0 0h1m0 0h1m2 0h1m0 0h1m1 0h1m1 0h1m0 0h1m1 0h1m0 0h1m0 0h1m0 0h1m0 0h1m0 0h1m0 0h1m2 0h1m0 0h1m0 0h1m0 0h1m0 0h1m0 0h1m0 0h1m1 0h1m0 0h1m0 0h1m0 0h1m7 0h1m1 0h1m2 0h1m1 0h1m2 0h1m-159 1h1m4 0h1m6 0h1m5 0h1m0 0h1m3 0h1m8 0h1m0 0h1m1 0h1m0 0h1m4 0h1m1 0h1m0 0h1m5 0h1m0 0h1m2 0h1m3 0h1m0 0h1m5 0h1m4 0h1m0 0h1m1 0h1m3 0h1m0 0h1m1 0h1m1 0h1m0 0h1m10 0h1m1 0h1m3 0h1m0 0h1m1 0h1m1 0h1m0 0h1m0 0h1m1 0h1m0 0h1m0 0h1m0 0h1m0 0h1m1 0h1m0 0h1m1 0h1m0 0h1m0 0h1m1 0h1m0 0h1m2 0h1m0 0h1m1 0h1m1 0h1m0 0h1m0 0h1m0 0h1m0 0h1m1 0h1m0 0h1m0 0h1m0 0h1m0 0h1m0 0h1m0 0h1m0 0h1m0 0h1m1 0h1m4 0h1m-148 1h1m6 0h1m4 0h1m1 0h1m2 0h1m2 0h1m0 0h1m4 0h1m1 0h1m0 0h1m1 0h1m2 0h1m2 0h1m3 0h1m0 0h1m0 0h1m3 0h1m0 0h1m5 0h1m3 0h1m0 0h1m0 0h1m1 0h1m0 0h1m1 0h1m1 0h1m4 0h1m2 0h1m1 0h1m0 0h1m0 0h1m0 0h1m0 0h1m0 0h1m0 0h1m0 0h1m0 0h1m0 0h1m1 0h1m0 0h1m1 0h1m0 0h1m0 0h1m0 0h1m0 0h1m0 0h1m1 0h1m0 0h1m0 0h1m0 0h1m0 0h1m0 0h1m0 0h1m1 0h1m0 0h1m0 0h1m0 0h1m0 0h1m0 0h1m0 0h1m1 0h1m0 0h1m0 0h1m0 0h1m2 0h1m0 0h1m0 0h1m0 0h1m0 0h1m1 0h1m0 0h1m0 0h1m0 0h1m0 0h1m0 0h1m0 0h1m0 0h1m1 0h1m0 0h1m1 0h1m1 0h1m0 0h1m3 0h1m3 0h1m-145 1h1m7 0h1m0 0h1m4 0h1m0 0h1m1 0h1m1 0h1m1 0h1m0 0h1m0 0h1m2 0h1m2 0h1m0 0h1m1 0h1m2 0h1m0 0h1m4 0h1m0 0h1m2 0h1m1 0h1m1 0h1m4 0h1m3 0h1m2 0h1m2 0h1m0 0h1m2 0h1m2 0h1m0 0h1m2 0h1m0 0h1m0 0h1m0 0h1m1 0h1m2 0h1m1 0h1m0 0h1m1 0h1m0 0h1m0 0h1m0 0h1m2 0h1m0 0h1m0 0h1m0 0h1m1 0h1m0 0h1m0 0h1m0 0h1m0 0h1m1 0h1m0 0h1m0 0h1m0 0h1m1 0h1m0 0h1m0 0h1m0 0h1m0 0h1m0 0h1m0 0h1m0 0h1m0 0h1m0 0h1m1 0h1m0 0h1m0 0h1m0 0h1m0 0h1m0 0h1m0 0h1m0 0h1m1 0h1m1 0h1m0 0h1m1 0h1m0 0h1m2 0h1m0 0h1m7 0h1m2 0h1m-152 1h1m4 0h1m5 0h1m1 0h1m1 0h1m5 0h1m2 0h1m2 0h1m4 0h1m2 0h1m3 0h1m0 0h1m0 0h1m0 0h1m2 0h1m2 0h1m3 0h1m0 0h1m0 0h1m1 0h1m0 0h1m0 0h1m0 0h1m2 0h1m0 0h1m0 0h1m0 0h1m0 0h1m0 0h1m0 0h1m0 0h1m0 0h1m0 0h1m1 0h1m0 0h1m0 0h1m0 0h1m0 0h1m1 0h1m0 0h1m0 0h1m0 0h1m0 0h1m0 0h1m0 0h1m0 0h1m0 0h1m0 0h1m1 0h1m0 0h1m0 0h1m0 0h1m2 0h1m0 0h1m1 0h1m0 0h1m0 0h1m0 0h1m0 0h1m0 0h1m0 0h1m0 0h1m1 0h1m0 0h1m0 0h1m1 0h1m0 0h1m0 0h1m0 0h1m0 0h1m0 0h1m0 0h1m0 0h1m0 0h1m2 0h1m0 0h1m0 0h1m0 0h1m0 0h1m0 0h1m0 0h1m1 0h1m0 0h1m2 0h1m0 0h1m0 0h1m1 0h1m1 0h1m0 0h1m-128 1h1m1 0h1m1 0h1m1 0h1m7 0h1m7 0h1m5 0h1m2 0h1m1 0h1m3 0h1m0 0h1m0 0h1m4 0h1m0 0h1m5 0h1m3 0h1m0 0h1m2 0h1m0 0h1m0 0h1m3 0h1m1 0h1m1 0h1m0 0h1m0 0h1m0 0h1m0 0h1m0 0h1m0 0h1m0 0h1m0 0h1m1 0h1m0 0h1m1 0h1m1 0h1m0 0h1m0 0h1m0 0h1m0 0h1m0 0h1m0 0h1m0 0h1m0 0h1m0 0h1m0 0h1m0 0h1m0 0h1m0 0h1m0 0h1m0 0h1m0 0h1m1 0h1m0 0h1m0 0h1m0 0h1m1 0h1m3 0h1m1 0h1m0 0h1m2 0h1m0 0h1m0 0h1m1 0h1m0 0h1m0 0h1m0 0h1m0 0h1m4 0h1m0 0h1m-145 1h1m5 0h1m0 0h1m1 0h1m7 0h1m3 0h1m0 0h1m4 0h1m1 0h1m3 0h1m2 0h1m1 0h1m3 0h1m0 0h1m1 0h1m1 0h1m7 0h1m2 0h1m0 0h1m2 0h1m1 0h1m3 0h1m1 0h1m0 0h1m0 0h1m0 0h1m0 0h1m3 0h1m0 0h1m0 0h1m0 0h1m2 0h1m0 0h1m0 0h1m0 0h1m0 0h1m0 0h1m1 0h1m0 0h1m0 0h1m0 0h1m1 0h1m1 0h1m0 0h1m0 0h1m0 0h1m0 0h1m0 0h1m1 0h1m0 0h1m0 0h1m0 0h1m0 0h1m0 0h1m0 0h1m0 0h1m1 0h1m0 0h1m0 0h1m0 0h1m0 0h1m0 0h1m0 0h1m0 0h1m0 0h1m0 0h1m0 0h1m0 0h1m1 0h1m0 0h1m0 0h1m0 0h1m0 0h1m0 0h1m0 0h1m2 0h1m0 0h1m1 0h1m0 0h1m0 0h1m0 0h1m0 0h1m-144 1h1m2 0h1m4 0h1m5 0h1m1 0h1m3 0h1m1 0h1m10 0h1m1 0h1m1 0h1m1 0h1m0 0h1m6 0h1m2 0h1m0 0h1m2 0h1m1 0h1m0 0h1m0 0h1m0 0h1m0 0h1m1 0h1m0 0h1m1 0h1m1 0h1m1 0h1m3 0h1m3 0h1m0 0h1m1 0h1m0 0h1m2 0h1m0 0h1m0 0h1m0 0h1m1 0h1m0 0h1m0 0h1m1 0h1m0 0h1m0 0h1m0 0h1m0 0h1m0 0h1m0 0h1m0 0h1m0 0h1m0 0h1m0 0h1m0 0h1m0 0h1m1 0h1m0 0h1m0 0h1m0 0h1m0 0h1m1 0h1m0 0h1m0 0h1m0 0h1m0 0h1m1 0h1m2 0h1m0 0h1m0 0h1m0 0h1m0 0h1m0 0h1m0 0h1m1 0h1m0 0h1m0 0h1m0 0h1m0 0h1m0 0h1m2 0h1m0 0h1m0 0h1m0 0h1m1 0h1m1 0h1m-135 1h1m3 0h1m1 0h1m13 0h1m2 0h1m5 0h1m3 0h1m3 0h1m0 0h1m0 0h1m1 0h1m4 0h1m1 0h1m0 0h1m0 0h1m0 0h1m1 0h1m0 0h1m0 0h1m4 0h1m0 0h1m0 0h1m1 0h1m1 0h1m0 0h1m0 0h1m0 0h1m1 0h1m0 0h1m0 0h1m0 0h1m0 0h1m0 0h1m1 0h1m0 0h1m1 0h1m0 0h1m0 0h1m0 0h1m1 0h1m0 0h1m0 0h1m0 0h1m0 0h1m0 0h1m0 0h1m0 0h1m1 0h1m1 0h1m0 0h1m0 0h1m1 0h1m0 0h1m0 0h1m0 0h1m3 0h1m0 0h1m0 0h1m2 0h1m1 0h1m3 0h1m0 0h1m0 0h1m0 0h1m0 0h1m0 0h1m2 0h1m0 0h1m0 0h1m1 0h1m2 0h1m-139 1h1m7 0h1m0 0h1m4 0h1m1 0h1m0 0h1m4 0h1m3 0h1m0 0h1m0 0h1m0 0h1m0 0h1m1 0h1m1 0h1m0 0h1m0 0h1m1 0h1m1 0h1m3 0h1m4 0h1m0 0h1m0 0h1m1 0h1m1 0h1m0 0h1m1 0h1m6 0h1m1 0h1m0 0h1m0 0h1m0 0h1m1 0h1m0 0h1m0 0h1m1 0h1m0 0h1m0 0h1m0 0h1m1 0h1m2 0h1m0 0h1m0 0h1m1 0h1m0 0h1m1 0h1m0 0h1m0 0h1m0 0h1m0 0h1m0 0h1m0 0h1m2 0h1m0 0h1m0 0h1m0 0h1m0 0h1m1 0h1m0 0h1m0 0h1m1 0h1m0 0h1m0 0h1m1 0h1m0 0h1m1 0h1m0 0h1m1 0h1m0 0h1m0 0h1m1 0h1m0 0h1m0 0h1m0 0h1m2 0h1m0 0h1m1 0h1m2 0h1m0 0h1m1 0h1m0 0h1m0 0h1m-140 1h1m2 0h1m1 0h1m0 0h1m7 0h1m1 0h1m0 0h1m10 0h1m2 0h1m4 0h1m4 0h1m0 0h1m1 0h1m0 0h1m1 0h1m4 0h1m1 0h1m0 0h1m0 0h1m0 0h1m2 0h1m0 0h1m0 0h1m1 0h1m0 0h1m1 0h1m2 0h1m0 0h1m0 0h1m1 0h1m1 0h1m0 0h1m0 0h1m0 0h1m1 0h1m0 0h1m0 0h1m0 0h1m0 0h1m0 0h1m1 0h1m0 0h1m0 0h1m0 0h1m0 0h1m0 0h1m0 0h1m1 0h1m0 0h1m3 0h1m0 0h1m0 0h1m0 0h1m0 0h1m0 0h1m0 0h1m0 0h1m0 0h1m0 0h1m0 0h1m0 0h1m0 0h1m0 0h1m0 0h1m0 0h1m0 0h1m0 0h1m2 0h1m2 0h1m0 0h1m0 0h1m0 0h1m0 0h1m0 0h1m0 0h1m0 0h1m0 0h1m2 0h1m4 0h1m-138 1h1m7 0h1m4 0h1m8 0h1m0 0h1m0 0h1m1 0h1m3 0h1m0 0h1m2 0h1m0 0h1m0 0h1m1 0h1m0 0h1m0 0h1m0 0h1m0 0h1m1 0h1m4 0h1m3 0h1m0 0h1m1 0h1m0 0h1m0 0h1m2 0h1m0 0h1m0 0h1m1 0h1m0 0h1m0 0h1m2 0h1m0 0h1m0 0h1m4 0h1m0 0h1m0 0h1m0 0h1m0 0h1m0 0h1m0 0h1m0 0h1m0 0h1m1 0h1m1 0h1m1 0h1m0 0h1m0 0h1m0 0h1m0 0h1m0 0h1m1 0h1m0 0h1m0 0h1m0 0h1m0 0h1m0 0h1m0 0h1m3 0h1m0 0h1m0 0h1m0 0h1m0 0h1m0 0h1m1 0h1m1 0h1m0 0h1m1 0h1m0 0h1m1 0h1m0 0h1m0 0h1m0 0h1m2 0h1m2 0h1m1 0h1m3 0h1m1 0h1m-143 1h1m6 0h1m0 0h1m1 0h1m2 0h1m2 0h1m0 0h1m3 0h1m0 0h1m6 0h1m5 0h1m0 0h1m0 0h1m1 0h1m2 0h1m4 0h1m0 0h1m0 0h1m1 0h1m0 0h1m0 0h1m4 0h1m2 0h1m0 0h1m0 0h1m3 0h1m0 0h1m0 0h1m0 0h1m0 0h1m4 0h1m0 0h1m0 0h1m0 0h1m0 0h1m0 0h1m1 0h1m1 0h1m0 0h1m0 0h1m0 0h1m1 0h1m0 0h1m0 0h1m1 0h1m0 0h1m1 0h1m0 0h1m1 0h1m0 0h1m0 0h1m0 0h1m1 0h1m0 0h1m1 0h1m0 0h1m1 0h1m0 0h1m0 0h1m0 0h1m0 0h1m0 0h1m0 0h1m0 0h1m0 0h1m0 0h1m0 0h1m0 0h1m0 0h1m0 0h1m0 0h1m0 0h1m0 0h1m0 0h1m0 0h1m1 0h1m0 0h1m1 0h1m0 0h1m1 0h1m0 0h1m-135 1h1m9 0h1m5 0h1m3 0h1m1 0h1m0 0h1m13 0h1m1 0h1m0 0h1m7 0h1m0 0h1m1 0h1m0 0h1m0 0h1m0 0h1m2 0h1m0 0h1m0 0h1m0 0h1m0 0h1m2 0h1m3 0h1m0 0h1m0 0h1m1 0h1m0 0h1m0 0h1m0 0h1m0 0h1m0 0h1m0 0h1m0 0h1m0 0h1m0 0h1m0 0h1m0 0h1m0 0h1m0 0h1m0 0h1m0 0h1m0 0h1m0 0h1m1 0h1m0 0h1m0 0h1m0 0h1m0 0h1m0 0h1m1 0h1m0 0h1m0 0h1m0 0h1m0 0h1m2 0h1m1 0h1m0 0h1m0 0h1m0 0h1m0 0h1m0 0h1m0 0h1m0 0h1m1 0h1m0 0h1m0 0h1m0 0h1m0 0h1m0 0h1m0 0h1m0 0h1m2 0h1m0 0h1m2 0h1m2 0h1m1 0h1m2 0h1m-146 1h1m8 0h1m7 0h1m3 0h1m0 0h1m5 0h1m0 0h1m2 0h1m1 0h1m1 0h1m4 0h1m0 0h1m2 0h1m2 0h1m1 0h1m1 0h1m0 0h1m3 0h1m4 0h1m1 0h1m1 0h1m0 0h1m0 0h1m1 0h1m1 0h1m0 0h1m0 0h1m1 0h1m0 0h1m0 0h1m0 0h1m0 0h1m0 0h1m1 0h1m0 0h1m0 0h1m0 0h1m0 0h1m0 0h1m1 0h1m1 0h1m0 0h1m0 0h1m0 0h1m0 0h1m1 0h1m0 0h1m1 0h1m0 0h1m0 0h1m0 0h1m0 0h1m0 0h1m1 0h1m0 0h1m0 0h1m0 0h1m0 0h1m0 0h1m0 0h1m0 0h1m0 0h1m0 0h1m2 0h1m0 0h1m0 0h1m0 0h1m0 0h1m0 0h1m0 0h1m0 0h1m0 0h1m0 0h1m1 0h1m1 0h1m0 0h1m0 0h1m2 0h1m5 0h1m1 0h1m-146 1h1m2 0h1m6 0h1m3 0h1m1 0h1m0 0h1m3 0h1m0 0h1m2 0h1m0 0h1m0 0h1m1 0h1m0 0h1m1 0h1m0 0h1m1 0h1m0 0h1m0 0h1m0 0h1m3 0h1m0 0h1m2 0h1m0 0h1m0 0h1m0 0h1m0 0h1m1 0h1m0 0h1m1 0h1m1 0h1m0 0h1m0 0h1m0 0h1m3 0h1m1 0h1m2 0h1m2 0h1m0 0h1m1 0h1m0 0h1m0 0h1m1 0h1m0 0h1m2 0h1m0 0h1m0 0h1m3 0h1m0 0h1m1 0h1m2 0h1m0 0h1m0 0h1m1 0h1m0 0h1m0 0h1m0 0h1m1 0h1m0 0h1m0 0h1m1 0h1m0 0h1m1 0h1m0 0h1m0 0h1m1 0h1m2 0h1m0 0h1m0 0h1m1 0h1m0 0h1m0 0h1m0 0h1m0 0h1m0 0h1m0 0h1m0 0h1m0 0h1m0 0h1m0 0h1m0 0h1m1 0h1m0 0h1m2 0h1m-125 1h1m6 0h1m0 0h1m2 0h1m1 0h1m0 0h1m4 0h1m0 0h1m2 0h1m1 0h1m2 0h1m2 0h1m0 0h1m3 0h1m3 0h1m6 0h1m0 0h1m1 0h1m3 0h1m1 0h1m0 0h1m0 0h1m0 0h1m1 0h1m1 0h1m1 0h1m0 0h1m0 0h1m0 0h1m0 0h1m2 0h1m0 0h1m0 0h1m1 0h1m0 0h1m0 0h1m0 0h1m0 0h1m0 0h1m1 0h1m0 0h1m0 0h1m0 0h1m0 0h1m0 0h1m0 0h1m0 0h1m0 0h1m0 0h1m2 0h1m0 0h1m0 0h1m3 0h1m1 0h1m0 0h1m0 0h1m1 0h1m1 0h1m0 0h1m0 0h1m0 0h1m0 0h1m0 0h1m0 0h1m1 0h1m1 0h1m0 0h1m0 0h1m0 0h1m1 0h1m0 0h1m0 0h1m0 0h1m1 0h1m-134 1h1m3 0h1m1 0h1m5 0h1m8 0h1m0 0h1m0 0h1m0 0h1m0 0h1m0 0h1m2 0h1m0 0h1m2 0h1m3 0h1m0 0h1m1 0h1m0 0h1m0 0h1m1 0h1m0 0h1m0 0h1m0 0h1m0 0h1m0 0h1m1 0h1m0 0h1m2 0h1m0 0h1m1 0h1m1 0h1m0 0h1m0 0h1m0 0h1m0 0h1m0 0h1m0 0h1m0 0h1m1 0h1m0 0h1m0 0h1m0 0h1m0 0h1m0 0h1m0 0h1m0 0h1m0 0h1m0 0h1m0 0h1m0 0h1m0 0h1m0 0h1m0 0h1m0 0h1m1 0h1m0 0h1m0 0h1m0 0h1m0 0h1m0 0h1m0 0h1m0 0h1m1 0h1m2 0h1m0 0h1m0 0h1m0 0h1m1 0h1m0 0h1m1 0h1m0 0h1m0 0h1m0 0h1m0 0h1m0 0h1m0 0h1m0 0h1m0 0h1m0 0h1m1 0h1m0 0h1m0 0h1m0 0h1m1 0h1m3 0h1m0 0h1m0 0h1m0 0h1m3 0h1m0 0h1m-144 1h1m3 0h1m3 0h1m0 0h1m3 0h1m2 0h1m3 0h1m2 0h1m3 0h1m3 0h1m7 0h1m1 0h1m1 0h1m1 0h1m1 0h1m4 0h1m0 0h1m0 0h1m0 0h1m2 0h1m0 0h1m2 0h1m4 0h1m0 0h1m0 0h1m0 0h1m0 0h1m1 0h1m0 0h1m0 0h1m0 0h1m0 0h1m1 0h1m1 0h1m0 0h1m0 0h1m0 0h1m0 0h1m0 0h1m0 0h1m1 0h1m0 0h1m0 0h1m0 0h1m1 0h1m0 0h1m0 0h1m0 0h1m0 0h1m1 0h1m0 0h1m2 0h1m0 0h1m0 0h1m0 0h1m0 0h1m0 0h1m0 0h1m0 0h1m0 0h1m0 0h1m1 0h1m0 0h1m0 0h1m0 0h1m0 0h1m0 0h1m0 0h1m0 0h1m0 0h1m1 0h1m0 0h1m0 0h1m0 0h1m1 0h1m1 0h1m0 0h1m0 0h1m2 0h1m0 0h1m3 0h1m-133 1h1m3 0h1m2 0h1m4 0h1m1 0h1m1 0h1m0 0h1m0 0h1m0 0h1m0 0h1m0 0h1m0 0h1m1 0h1m2 0h1m0 0h1m0 0h1m5 0h1m0 0h1m1 0h1m0 0h1m0 0h1m3 0h1m1 0h1m1 0h1m0 0h1m1 0h1m0 0h1m0 0h1m0 0h1m0 0h1m0 0h1m1 0h1m0 0h1m0 0h1m1 0h1m1 0h1m0 0h1m0 0h1m2 0h1m2 0h1m1 0h1m0 0h1m1 0h1m0 0h1m0 0h1m0 0h1m0 0h1m0 0h1m0 0h1m0 0h1m1 0h1m2 0h1m1 0h1m0 0h1m1 0h1m0 0h1m0 0h1m0 0h1m0 0h1m0 0h1m0 0h1m1 0h1m2 0h1m0 0h1m1 0h1m0 0h1m0 0h1m0 0h1m0 0h1m0 0h1m0 0h1m0 0h1m0 0h1m0 0h1m1 0h1m1 0h1m1 0h1m0 0h1m1 0h1m0 0h1m0 0h1m4 0h1m-139 1h1m2 0h1m10 0h1m1 0h1m0 0h1m6 0h1m0 0h1m0 0h1m4 0h1m3 0h1m0 0h1m3 0h1m5 0h1m5 0h1m2 0h1m1 0h1m0 0h1m0 0h1m0 0h1m0 0h1m0 0h1m1 0h1m0 0h1m0 0h1m1 0h1m0 0h1m2 0h1m0 0h1m0 0h1m0 0h1m0 0h1m0 0h1m0 0h1m0 0h1m0 0h1m0 0h1m0 0h1m0 0h1m1 0h1m0 0h1m1 0h1m0 0h1m0 0h1m0 0h1m0 0h1m0 0h1m0 0h1m0 0h1m2 0h1m0 0h1m0 0h1m1 0h1m0 0h1m0 0h1m1 0h1m1 0h1m0 0h1m3 0h1m0 0h1m0 0h1m0 0h1m0 0h1m0 0h1m0 0h1m0 0h1m1 0h1m5 0h1m0 0h1m0 0h1m2 0h1m0 0h1m0 0h1m0 0h1m-125 1h1m2 0h1m7 0h1m0 0h1m1 0h1m1 0h1m3 0h1m0 0h1m0 0h1m0 0h1m0 0h1m4 0h1m1 0h1m2 0h1m2 0h1m0 0h1m2 0h1m5 0h1m1 0h1m0 0h1m1 0h1m0 0h1m0 0h1m0 0h1m0 0h1m0 0h1m0 0h1m1 0h1m1 0h1m0 0h1m1 0h1m1 0h1m0 0h1m0 0h1m3 0h1m0 0h1m1 0h1m0 0h1m0 0h1m1 0h1m0 0h1m1 0h1m0 0h1m0 0h1m0 0h1m0 0h1m0 0h1m0 0h1m1 0h1m1 0h1m0 0h1m0 0h1m0 0h1m0 0h1m2 0h1m1 0h1m0 0h1m0 0h1m0 0h1m0 0h1m0 0h1m1 0h1m0 0h1m0 0h1m1 0h1m0 0h1m0 0h1m1 0h1m1 0h1m0 0h1m0 0h1m3 0h1m0 0h1m-137 1h1m6 0h1m9 0h1m5 0h1m1 0h1m0 0h1m1 0h1m3 0h1m3 0h1m6 0h1m0 0h1m1 0h1m0 0h1m2 0h1m1 0h1m0 0h1m2 0h1m0 0h1m1 0h1m0 0h1m1 0h1m0 0h1m1 0h1m2 0h1m0 0h1m0 0h1m0 0h1m0 0h1m0 0h1m1 0h1m0 0h1m0 0h1m1 0h1m0 0h1m0 0h1m0 0h1m0 0h1m0 0h1m0 0h1m0 0h1m0 0h1m1 0h1m0 0h1m0 0h1m0 0h1m0 0h1m0 0h1m0 0h1m0 0h1m0 0h1m0 0h1m0 0h1m1 0h1m0 0h1m0 0h1m2 0h1m0 0h1m0 0h1m0 0h1m0 0h1m0 0h1m0 0h1m0 0h1m0 0h1m1 0h1m2 0h1m0 0h1m1 0h1m0 0h1m0 0h1m1 0h1m0 0h1m0 0h1m2 0h1m0 0h1m1 0h1m5 0h1m-132 1h1m4 0h1m1 0h1m0 0h1m0 0h1m0 0h1m3 0h1m0 0h1m1 0h1m0 0h1m0 0h1m4 0h1m0 0h1m1 0h1m4 0h1m1 0h1m0 0h1m2 0h1m0 0h1m2 0h1m0 0h1m1 0h1m0 0h1m0 0h1m1 0h1m0 0h1m0 0h1m0 0h1m1 0h1m0 0h1m0 0h1m1 0h1m2 0h1m0 0h1m0 0h1m0 0h1m0 0h1m1 0h1m0 0h1m0 0h1m0 0h1m0 0h1m0 0h1m0 0h1m0 0h1m0 0h1m0 0h1m2 0h1m1 0h1m1 0h1m0 0h1m0 0h1m0 0h1m0 0h1m0 0h1m0 0h1m0 0h1m0 0h1m0 0h1m0 0h1m1 0h1m0 0h1m0 0h1m0 0h1m0 0h1m0 0h1m0 0h1m0 0h1m0 0h1m0 0h1m0 0h1m0 0h1m0 0h1m0 0h1m0 0h1m0 0h1m0 0h1m0 0h1m1 0h1m0 0h1m0 0h1m0 0h1m0 0h1m0 0h1m0 0h1m1 0h1m1 0h1m1 0h1m3 0h1m2 0h1m-137 1h1m4 0h1m5 0h1m3 0h1m1 0h1m0 0h1m0 0h1m0 0h1m0 0h1m7 0h1m2 0h1m0 0h1m1 0h1m0 0h1m0 0h1m0 0h1m1 0h1m5 0h1m1 0h1m0 0h1m0 0h1m2 0h1m0 0h1m0 0h1m0 0h1m0 0h1m0 0h1m0 0h1m0 0h1m0 0h1m1 0h1m1 0h1m0 0h1m1 0h1m1 0h1m0 0h1m0 0h1m0 0h1m0 0h1m1 0h1m0 0h1m1 0h1m0 0h1m0 0h1m0 0h1m0 0h1m3 0h1m0 0h1m0 0h1m0 0h1m0 0h1m0 0h1m0 0h1m0 0h1m0 0h1m0 0h1m0 0h1m0 0h1m0 0h1m0 0h1m1 0h1m1 0h1m1 0h1m0 0h1m1 0h1m1 0h1m0 0h1m1 0h1m0 0h1m0 0h1m0 0h1m0 0h1m0 0h1m1 0h1m0 0h1m0 0h1m0 0h1m0 0h1m0 0h1m3 0h1m-132 1h1m1 0h1m4 0h1m0 0h1m0 0h1m0 0h1m0 0h1m2 0h1m0 0h1m2 0h1m0 0h1m0 0h1m0 0h1m0 0h1m1 0h1m6 0h1m2 0h1m8 0h1m2 0h1m0 0h1m0 0h1m1 0h1m1 0h1m0 0h1m0 0h1m0 0h1m0 0h1m1 0h1m1 0h1m0 0h1m0 0h1m0 0h1m0 0h1m0 0h1m0 0h1m0 0h1m0 0h1m0 0h1m0 0h1m0 0h1m0 0h1m1 0h1m0 0h1m0 0h1m0 0h1m0 0h1m0 0h1m0 0h1m0 0h1m0 0h1m0 0h1m0 0h1m1 0h1m0 0h1m0 0h1m0 0h1m0 0h1m0 0h1m0 0h1m0 0h1m0 0h1m1 0h1m0 0h1m0 0h1m0 0h1m0 0h1m0 0h1m0 0h1m0 0h1m0 0h1m1 0h1m0 0h1m0 0h1m0 0h1m0 0h1m0 0h1m0 0h1m0 0h1m1 0h1m0 0h1m0 0h1m0 0h1m0 0h1m1 0h1m1 0h1m1 0h1m0 0h1m0 0h1m1 0h1m0 0h1m0 0h1m1 0h1m0 0h1m2 0h1m-136 1h1m0 0h1m5 0h1m1 0h1m0 0h1m0 0h1m2 0h1m4 0h1m1 0h1m0 0h1m1 0h1m5 0h1m1 0h1m4 0h1m0 0h1m1 0h1m0 0h1m1 0h1m1 0h1m0 0h1m0 0h1m0 0h1m0 0h1m0 0h1m1 0h1m0 0h1m0 0h1m0 0h1m1 0h1m0 0h1m0 0h1m0 0h1m1 0h1m0 0h1m0 0h1m1 0h1m1 0h1m2 0h1m1 0h1m0 0h1m0 0h1m0 0h1m1 0h1m0 0h1m0 0h1m0 0h1m0 0h1m0 0h1m0 0h1m0 0h1m0 0h1m0 0h1m0 0h1m0 0h1m0 0h1m0 0h1m1 0h1m0 0h1m1 0h1m0 0h1m0 0h1m0 0h1m0 0h1m0 0h1m2 0h1m0 0h1m0 0h1m2 0h1m0 0h1m0 0h1m0 0h1m1 0h1m0 0h1m0 0h1m0 0h1m0 0h1m0 0h1m0 0h1m0 0h1m0 0h1m0 0h1m0 0h1m1 0h1m0 0h1m1 0h1m0 0h1m2 0h1m9 0h1m-147 1h1m1 0h1m2 0h1m10 0h1m0 0h1m1 0h1m0 0h1m4 0h1m1 0h1m1 0h1m0 0h1m0 0h1m1 0h1m0 0h1m1 0h1m1 0h1m0 0h1m0 0h1m1 0h1m0 0h1m1 0h1m0 0h1m0 0h1m1 0h1m1 0h1m0 0h1m0 0h1m1 0h1m0 0h1m0 0h1m0 0h1m0 0h1m0 0h1m2 0h1m0 0h1m0 0h1m0 0h1m0 0h1m0 0h1m1 0h1m0 0h1m0 0h1m1 0h1m0 0h1m0 0h1m0 0h1m3 0h1m0 0h1m0 0h1m0 0h1m0 0h1m0 0h1m0 0h1m2 0h1m0 0h1m0 0h1m0 0h1m1 0h1m2 0h1m0 0h1m1 0h1m0 0h1m0 0h1m0 0h1m0 0h1m1 0h1m2 0h1m0 0h1m1 0h1m0 0h1m1 0h1m0 0h1m1 0h1m0 0h1m1 0h1m0 0h1m0 0h1m2 0h1m0 0h1m1 0h1m1 0h1m0 0h1m0 0h1m3 0h1m0 0h1m2 0h1m-137 1h1m3 0h1m2 0h1m1 0h1m0 0h1m2 0h1m3 0h1m0 0h1m2 0h1m0 0h1m1 0h1m1 0h1m1 0h1m0 0h1m0 0h1m0 0h1m0 0h1m2 0h1m0 0h1m0 0h1m0 0h1m0 0h1m4 0h1m1 0h1m0 0h1m0 0h1m0 0h1m0 0h1m1 0h1m1 0h1m0 0h1m1 0h1m2 0h1m0 0h1m0 0h1m0 0h1m0 0h1m0 0h1m0 0h1m0 0h1m0 0h1m0 0h1m0 0h1m0 0h1m0 0h1m0 0h1m0 0h1m0 0h1m0 0h1m0 0h1m0 0h1m0 0h1m0 0h1m1 0h1m0 0h1m0 0h1m1 0h1m0 0h1m0 0h1m0 0h1m1 0h1m0 0h1m1 0h1m0 0h1m0 0h1m1 0h1m0 0h1m0 0h1m1 0h1m0 0h1m0 0h1m0 0h1m0 0h1m0 0h1m0 0h1m0 0h1m0 0h1m0 0h1m0 0h1m2 0h1m0 0h1m0 0h1m0 0h1m0 0h1m0 0h1m0 0h1m0 0h1m1 0h1m1 0h1m0 0h1m0 0h1m1 0h1m5 0h1m0 0h1m0 0h1m-139 1h1m7 0h1m3 0h1m2 0h1m1 0h1m0 0h1m1 0h1m1 0h1m1 0h1m7 0h1m0 0h1m1 0h1m0 0h1m0 0h1m1 0h1m0 0h1m0 0h1m0 0h1m0 0h1m2 0h1m0 0h1m0 0h1m2 0h1m1 0h1m0 0h1m0 0h1m0 0h1m0 0h1m0 0h1m0 0h1m1 0h1m0 0h1m0 0h1m0 0h1m0 0h1m0 0h1m0 0h1m0 0h1m0 0h1m0 0h1m0 0h1m1 0h1m0 0h1m1 0h1m0 0h1m0 0h1m0 0h1m0 0h1m1 0h1m0 0h1m1 0h1m1 0h1m0 0h1m0 0h1m2 0h1m0 0h1m0 0h1m1 0h1m0 0h1m1 0h1m0 0h1m0 0h1m1 0h1m1 0h1m0 0h1m0 0h1m0 0h1m0 0h1m0 0h1m0 0h1m1 0h1m1 0h1m1 0h1m1 0h1m1 0h1m0 0h1m0 0h1m0 0h1m0 0h1m0 0h1m0 0h1m1 0h1m1 0h1m0 0h1m0 0h1m0 0h1m0 0h1m0 0h1m-140 1h1m5 0h1m7 0h1m0 0h1m1 0h1m1 0h1m11 0h1m0 0h1m2 0h1m1 0h1m0 0h1m4 0h1m0 0h1m0 0h1m0 0h1m0 0h1m2 0h1m0 0h1m1 0h1m1 0h1m0 0h1m1 0h1m0 0h1m0 0h1m0 0h1m1 0h1m1 0h1m0 0h1m0 0h1m1 0h1m0 0h1m0 0h1m0 0h1m0 0h1m0 0h1m0 0h1m0 0h1m0 0h1m0 0h1m0 0h1m0 0h1m0 0h1m0 0h1m0 0h1m0 0h1m0 0h1m0 0h1m0 0h1m0 0h1m0 0h1m0 0h1m0 0h1m0 0h1m0 0h1m0 0h1m0 0h1m0 0h1m0 0h1m0 0h1m0 0h1m1 0h1m0 0h1m0 0h1m0 0h1m0 0h1m0 0h1m0 0h1m1 0h1m0 0h1m0 0h1m1 0h1m0 0h1m0 0h1m0 0h1m0 0h1m1 0h1m0 0h1m0 0h1m0 0h1m0 0h1m1 0h1m1 0h1m0 0h1m0 0h1m0 0h1m0 0h1m0 0h1m2 0h1m1 0h1m8 0h1m-134 1h1m1 0h1m1 0h1m5 0h1m0 0h1m1 0h1m1 0h1m2 0h1m0 0h1m0 0h1m0 0h1m0 0h1m3 0h1m0 0h1m0 0h1m5 0h1m0 0h1m0 0h1m1 0h1m0 0h1m0 0h1m0 0h1m0 0h1m0 0h1m0 0h1m0 0h1m0 0h1m1 0h1m0 0h1m1 0h1m0 0h1m0 0h1m0 0h1m0 0h1m0 0h1m1 0h1m0 0h1m0 0h1m0 0h1m0 0h1m0 0h1m0 0h1m0 0h1m0 0h1m0 0h1m0 0h1m0 0h1m0 0h1m0 0h1m0 0h1m0 0h1m0 0h1m0 0h1m1 0h1m0 0h1m1 0h1m0 0h1m0 0h1m0 0h1m0 0h1m0 0h1m0 0h1m3 0h1m0 0h1m0 0h1m0 0h1m1 0h1m0 0h1m0 0h1m1 0h1m0 0h1m0 0h1m0 0h1m2 0h1m1 0h1m0 0h1m0 0h1m0 0h1m0 0h1m1 0h1m0 0h1m0 0h1m2 0h1m1 0h1m0 0h1m3 0h1m-127 1h1m4 0h1m0 0h1m2 0h1m0 0h1m1 0h1m2 0h1m7 0h1m3 0h1m1 0h1m0 0h1m0 0h1m1 0h1m0 0h1m0 0h1m1 0h1m0 0h1m0 0h1m0 0h1m0 0h1m0 0h1m0 0h1m0 0h1m0 0h1m0 0h1m1 0h1m0 0h1m0 0h1m0 0h1m0 0h1m2 0h1m0 0h1m1 0h1m0 0h1m0 0h1m1 0h1m1 0h1m0 0h1m0 0h1m0 0h1m3 0h1m0 0h1m0 0h1m0 0h1m0 0h1m2 0h1m0 0h1m1 0h1m1 0h1m1 0h1m0 0h1m1 0h1m0 0h1m1 0h1m0 0h1m0 0h1m0 0h1m0 0h1m0 0h1m0 0h1m0 0h1m0 0h1m0 0h1m0 0h1m0 0h1m0 0h1m0 0h1m1 0h1m0 0h1m0 0h1m0 0h1m0 0h1m1 0h1m1 0h1m0 0h1m0 0h1m0 0h1m0 0h1m0 0h1m0 0h1m1 0h1m0 0h1m1 0h1m0 0h1m-133 1h1m8 0h1m9 0h1m1 0h1m0 0h1m0 0h1m5 0h1m3 0h1m1 0h1m0 0h1m0 0h1m0 0h1m1 0h1m0 0h1m0 0h1m0 0h1m0 0h1m1 0h1m0 0h1m0 0h1m0 0h1m0 0h1m1 0h1m0 0h1m0 0h1m0 0h1m1 0h1m0 0h1m1 0h1m0 0h1m0 0h1m0 0h1m1 0h1m0 0h1m1 0h1m1 0h1m2 0h1m0 0h1m0 0h1m1 0h1m0 0h1m0 0h1m0 0h1m0 0h1m0 0h1m0 0h1m1 0h1m2 0h1m1 0h1m3 0h1m0 0h1m1 0h1m2 0h1m0 0h1m0 0h1m1 0h1m0 0h1m1 0h1m0 0h1m0 0h1m0 0h1m0 0h1m0 0h1m1 0h1m1 0h1m0 0h1m0 0h1m1 0h1m0 0h1m1 0h1m0 0h1m0 0h1m0 0h1m0 0h1m1 0h1m1 0h1m0 0h1m0 0h1m2 0h1m-136 1h1m0 0h1m3 0h1m3 0h1m6 0h1m0 0h1m3 0h1m2 0h1m0 0h1m0 0h1m0 0h1m0 0h1m4 0h1m1 0h1m0 0h1m5 0h1m0 0h1m1 0h1m1 0h1m0 0h1m0 0h1m1 0h1m0 0h1m0 0h1m0 0h1m0 0h1m0 0h1m1 0h1m1 0h1m0 0h1m0 0h1m0 0h1m0 0h1m0 0h1m1 0h1m0 0h1m0 0h1m0 0h1m0 0h1m1 0h1m0 0h1m0 0h1m0 0h1m0 0h1m0 0h1m0 0h1m1 0h1m0 0h1m1 0h1m0 0h1m2 0h1m0 0h1m0 0h1m0 0h1m0 0h1m0 0h1m0 0h1m0 0h1m0 0h1m0 0h1m1 0h1m0 0h1m3 0h1m1 0h1m0 0h1m0 0h1m0 0h1m0 0h1m0 0h1m0 0h1m3 0h1m0 0h1m0 0h1m0 0h1m0 0h1m0 0h1m1 0h1m1 0h1m1 0h1m0 0h1m1 0h1m6 0h1m-125 1h1m1 0h1m1 0h1m2 0h1m2 0h1m0 0h1m0 0h1m2 0h1m2 0h1m3 0h1m1 0h1m1 0h1m2 0h1m1 0h1m1 0h1m0 0h1m0 0h1m0 0h1m0 0h1m0 0h1m0 0h1m0 0h1m0 0h1m1 0h1m0 0h1m1 0h1m0 0h1m0 0h1m0 0h1m0 0h1m1 0h1m0 0h1m0 0h1m0 0h1m0 0h1m0 0h1m0 0h1m1 0h1m0 0h1m0 0h1m1 0h1m1 0h1m1 0h1m0 0h1m0 0h1m1 0h1m1 0h1m0 0h1m0 0h1m0 0h1m0 0h1m1 0h1m0 0h1m0 0h1m0 0h1m2 0h1m0 0h1m0 0h1m0 0h1m0 0h1m0 0h1m0 0h1m0 0h1m0 0h1m1 0h1m0 0h1m1 0h1m0 0h1m0 0h1m0 0h1m0 0h1m0 0h1m0 0h1m0 0h1m0 0h1m0 0h1m0 0h1m0 0h1m1 0h1m3 0h1m1 0h1m0 0h1m0 0h1m4 0h1m-134 1h1m1 0h1m0 0h1m3 0h1m4 0h1m1 0h1m2 0h1m3 0h1m1 0h1m0 0h1m3 0h1m0 0h1m0 0h1m0 0h1m4 0h1m0 0h1m1 0h1m0 0h1m0 0h1m0 0h1m1 0h1m0 0h1m0 0h1m0 0h1m1 0h1m0 0h1m3 0h1m0 0h1m1 0h1m0 0h1m0 0h1m0 0h1m1 0h1m0 0h1m2 0h1m0 0h1m0 0h1m2 0h1m0 0h1m0 0h1m1 0h1m0 0h1m0 0h1m0 0h1m0 0h1m0 0h1m0 0h1m0 0h1m0 0h1m1 0h1m0 0h1m0 0h1m1 0h1m0 0h1m1 0h1m0 0h1m0 0h1m1 0h1m0 0h1m0 0h1m1 0h1m1 0h1m0 0h1m2 0h1m2 0h1m0 0h1m0 0h1m3 0h1m0 0h1m0 0h1m0 0h1m1 0h1m0 0h1m2 0h1m0 0h1m3 0h1m0 0h1m0 0h1m8 0h1m-141 1h1m4 0h1m1 0h1m1 0h1m1 0h1m1 0h1m2 0h1m4 0h1m0 0h1m2 0h1m3 0h1m0 0h1m2 0h1m0 0h1m0 0h1m4 0h1m0 0h1m0 0h1m1 0h1m1 0h1m0 0h1m1 0h1m1 0h1m0 0h1m0 0h1m0 0h1m1 0h1m0 0h1m0 0h1m0 0h1m0 0h1m0 0h1m0 0h1m0 0h1m0 0h1m0 0h1m0 0h1m0 0h1m0 0h1m0 0h1m2 0h1m0 0h1m0 0h1m0 0h1m0 0h1m0 0h1m0 0h1m1 0h1m0 0h1m0 0h1m0 0h1m0 0h1m0 0h1m0 0h1m1 0h1m0 0h1m0 0h1m0 0h1m0 0h1m0 0h1m1 0h1m1 0h1m0 0h1m0 0h1m0 0h1m0 0h1m0 0h1m1 0h1m1 0h1m0 0h1m0 0h1m0 0h1m1 0h1m0 0h1m0 0h1m0 0h1m0 0h1m2 0h1m0 0h1m0 0h1m0 0h1m0 0h1m0 0h1m1 0h1m1 0h1m0 0h1m0 0h1m0 0h1m11 0h1m-143 1h1m0 0h1m6 0h1m5 0h1m2 0h1m0 0h1m4 0h1m0 0h1m1 0h1m0 0h1m1 0h1m0 0h1m0 0h1m0 0h1m1 0h1m0 0h1m0 0h1m1 0h1m0 0h1m0 0h1m0 0h1m0 0h1m0 0h1m0 0h1m0 0h1m0 0h1m0 0h1m0 0h1m1 0h1m0 0h1m1 0h1m0 0h1m0 0h1m0 0h1m0 0h1m1 0h1m1 0h1m0 0h1m0 0h1m0 0h1m0 0h1m0 0h1m1 0h1m0 0h1m0 0h1m0 0h1m0 0h1m0 0h1m0 0h1m0 0h1m0 0h1m1 0h1m1 0h1m0 0h1m0 0h1m0 0h1m0 0h1m0 0h1m0 0h1m0 0h1m0 0h1m0 0h1m0 0h1m0 0h1m0 0h1m0 0h1m1 0h1m0 0h1m0 0h1m0 0h1m0 0h1m1 0h1m1 0h1m0 0h1m0 0h1m0 0h1m0 0h1m0 0h1m1 0h1m0 0h1m0 0h1m0 0h1m0 0h1m1 0h1m0 0h1m0 0h1m0 0h1m0 0h1m1 0h1m0 0h1m1 0h1m1 0h1m1 0h1m0 0h1m0 0h1m0 0h1m1 0h1m1 0h1m2 0h1m1 0h1m0 0h1m-145 1h1m6 0h1m3 0h1m6 0h1m2 0h1m2 0h1m0 0h1m1 0h1m0 0h1m1 0h1m0 0h1m1 0h1m1 0h1m0 0h1m0 0h1m1 0h1m0 0h1m0 0h1m2 0h1m0 0h1m0 0h1m1 0h1m0 0h1m0 0h1m0 0h1m0 0h1m0 0h1m0 0h1m0 0h1m0 0h1m0 0h1m1 0h1m0 0h1m0 0h1m1 0h1m0 0h1m0 0h1m0 0h1m1 0h1m0 0h1m0 0h1m0 0h1m0 0h1m0 0h1m0 0h1m1 0h1m0 0h1m0 0h1m1 0h1m0 0h1m0 0h1m1 0h1m1 0h1m1 0h1m0 0h1m0 0h1m0 0h1m0 0h1m0 0h1m0 0h1m0 0h1m1 0h1m0 0h1m0 0h1m0 0h1m0 0h1m0 0h1m1 0h1m0 0h1m0 0h1m0 0h1m0 0h1m0 0h1m1 0h1m2 0h1m0 0h1m1 0h1m0 0h1m1 0h1m0 0h1m0 0h1m0 0h1m0 0h1m0 0h1m0 0h1m3 0h1m11 0h1m-135 1h1m2 0h1m1 0h1m2 0h1m1 0h1m2 0h1m1 0h1m1 0h1m0 0h1m1 0h1m0 0h1m0 0h1m0 0h1m1 0h1m0 0h1m0 0h1m0 0h1m0 0h1m0 0h1m3 0h1m0 0h1m0 0h1m0 0h1m0 0h1m0 0h1m0 0h1m0 0h1m0 0h1m0 0h1m2 0h1m0 0h1m0 0h1m0 0h1m0 0h1m0 0h1m2 0h1m0 0h1m0 0h1m0 0h1m0 0h1m0 0h1m0 0h1m0 0h1m0 0h1m1 0h1m0 0h1m0 0h1m0 0h1m0 0h1m0 0h1m0 0h1m1 0h1m0 0h1m0 0h1m2 0h1m0 0h1m0 0h1m0 0h1m0 0h1m0 0h1m0 0h1m0 0h1m4 0h1m0 0h1m1 0h1m0 0h1m1 0h1m3 0h1m0 0h1m0 0h1m0 0h1m0 0h1m0 0h1m0 0h1m0 0h1m0 0h1m0 0h1m2 0h1m0 0h1m0 0h1m0 0h1m0 0h1m0 0h1m0 0h1m0 0h1m1 0h1m0 0h1m2 0h1m8 0h1m3 0h1m-137 1h1m3 0h1m5 0h1m1 0h1m0 0h1m0 0h1m1 0h1m0 0h1m3 0h1m0 0h1m0 0h1m1 0h1m1 0h1m2 0h1m1 0h1m0 0h1m1 0h1m0 0h1m1 0h1m0 0h1m0 0h1m0 0h1m0 0h1m1 0h1m0 0h1m0 0h1m0 0h1m0 0h1m0 0h1m0 0h1m0 0h1m0 0h1m0 0h1m0 0h1m0 0h1m0 0h1m0 0h1m0 0h1m0 0h1m0 0h1m0 0h1m0 0h1m0 0h1m0 0h1m0 0h1m0 0h1m0 0h1m0 0h1m0 0h1m0 0h1m0 0h1m0 0h1m0 0h1m0 0h1m0 0h1m0 0h1m0 0h1m0 0h1m0 0h1m0 0h1m0 0h1m1 0h1m0 0h1m0 0h1m1 0h1m1 0h1m0 0h1m0 0h1m1 0h1m0 0h1m0 0h1m1 0h1m0 0h1m0 0h1m0 0h1m1 0h1m1 0h1m0 0h1m0 0h1m0 0h1m0 0h1m1 0h1m0 0h1m0 0h1m0 0h1m0 0h1m0 0h1m0 0h1m0 0h1m1 0h1m0 0h1m2 0h1m0 0h1m5 0h1m-126 1h1m4 0h1m0 0h1m4 0h1m1 0h1m1 0h1m1 0h1m2 0h1m0 0h1m0 0h1m1 0h1m0 0h1m0 0h1m0 0h1m0 0h1m1 0h1m0 0h1m0 0h1m0 0h1m0 0h1m0 0h1m0 0h1m0 0h1m0 0h1m0 0h1m0 0h1m0 0h1m0 0h1m1 0h1m0 0h1m0 0h1m0 0h1m0 0h1m0 0h1m0 0h1m0 0h1m0 0h1m0 0h1m1 0h1m0 0h1m0 0h1m0 0h1m0 0h1m0 0h1m1 0h1m0 0h1m1 0h1m0 0h1m0 0h1m0 0h1m1 0h1m0 0h1m0 0h1m0 0h1m1 0h1m0 0h1m0 0h1m0 0h1m0 0h1m0 0h1m0 0h1m0 0h1m0 0h1m0 0h1m0 0h1m0 0h1m1 0h1m0 0h1m1 0h1m0 0h1m0 0h1m0 0h1m0 0h1m1 0h1m0 0h1m0 0h1m0 0h1m0 0h1m0 0h1m0 0h1m0 0h1m0 0h1m0 0h1m1 0h1m0 0h1m0 0h1m0 0h1m0 0h1m0 0h1m0 0h1m0 0h1m0 0h1m0 0h1m0 0h1m4 0h1m2 0h1m1 0h1m1 0h1m0 0h1m0 0h1m0 0h1m-142 1h1m7 0h1m0 0h1m5 0h1m0 0h1m3 0h1m0 0h1m2 0h1m0 0h1m0 0h1m2 0h1m1 0h1m0 0h1m0 0h1m0 0h1m0 0h1m0 0h1m2 0h1m0 0h1m1 0h1m0 0h1m0 0h1m2 0h1m0 0h1m0 0h1m2 0h1m1 0h1m1 0h1m1 0h1m0 0h1m0 0h1m0 0h1m2 0h1m0 0h1m0 0h1m1 0h1m0 0h1m1 0h1m0 0h1m0 0h1m0 0h1m0 0h1m1 0h1m0 0h1m0 0h1m1 0h1m0 0h1m0 0h1m1 0h1m0 0h1m0 0h1m0 0h1m0 0h1m0 0h1m0 0h1m1 0h1m0 0h1m0 0h1m0 0h1m0 0h1m0 0h1m0 0h1m0 0h1m1 0h1m0 0h1m0 0h1m0 0h1m0 0h1m0 0h1m0 0h1m0 0h1m1 0h1m0 0h1m0 0h1m0 0h1m2 0h1m0 0h1m0 0h1m1 0h1m0 0h1m0 0h1m2 0h1m1 0h1m6 0h1m6 0h1m-144 1h1m7 0h1m2 0h1m3 0h1m5 0h1m5 0h1m1 0h1m2 0h1m0 0h1m0 0h1m0 0h1m1 0h1m0 0h1m1 0h1m0 0h1m0 0h1m0 0h1m0 0h1m0 0h1m0 0h1m0 0h1m0 0h1m2 0h1m0 0h1m0 0h1m1 0h1m0 0h1m1 0h1m0 0h1m0 0h1m0 0h1m1 0h1m1 0h1m0 0h1m0 0h1m0 0h1m0 0h1m0 0h1m0 0h1m0 0h1m0 0h1m0 0h1m0 0h1m1 0h1m0 0h1m0 0h1m1 0h1m0 0h1m0 0h1m0 0h1m0 0h1m0 0h1m3 0h1m0 0h1m0 0h1m0 0h1m0 0h1m0 0h1m0 0h1m0 0h1m0 0h1m0 0h1m0 0h1m0 0h1m0 0h1m0 0h1m0 0h1m3 0h1m0 0h1m0 0h1m0 0h1m1 0h1m0 0h1m0 0h1m3 0h1m0 0h1m0 0h1m2 0h1m2 0h1m0 0h1m0 0h1m1 0h1m0 0h1m3 0h1m6 0h1m3 0h1m-144 1h1m10 0h1m1 0h1m2 0h1m0 0h1m0 0h1m1 0h1m1 0h1m0 0h1m0 0h1m0 0h1m1 0h1m1 0h1m0 0h1m3 0h1m0 0h1m0 0h1m0 0h1m0 0h1m0 0h1m0 0h1m0 0h1m1 0h1m1 0h1m0 0h1m0 0h1m1 0h1m0 0h1m0 0h1m1 0h1m0 0h1m0 0h1m0 0h1m0 0h1m0 0h1m0 0h1m0 0h1m0 0h1m0 0h1m2 0h1m0 0h1m1 0h1m0 0h1m0 0h1m0 0h1m0 0h1m1 0h1m0 0h1m1 0h1m0 0h1m0 0h1m1 0h1m0 0h1m0 0h1m2 0h1m0 0h1m0 0h1m0 0h1m0 0h1m0 0h1m0 0h1m2 0h1m0 0h1m0 0h1m1 0h1m1 0h1m0 0h1m0 0h1m0 0h1m0 0h1m0 0h1m0 0h1m0 0h1m0 0h1m0 0h1m0 0h1m0 0h1m0 0h1m0 0h1m1 0h1m3 0h1m3 0h1m0 0h1m0 0h1m3 0h1m1 0h1m2 0h1m0 0h1m7 0h1m-140 1h1m3 0h1m4 0h1m0 0h1m5 0h1m1 0h1m1 0h1m0 0h1m0 0h1m0 0h1m1 0h1m1 0h1m0 0h1m0 0h1m0 0h1m0 0h1m0 0h1m1 0h1m0 0h1m0 0h1m1 0h1m0 0h1m0 0h1m0 0h1m0 0h1m0 0h1m0 0h1m0 0h1m2 0h1m0 0h1m0 0h1m0 0h1m0 0h1m0 0h1m0 0h1m0 0h1m0 0h1m0 0h1m1 0h1m0 0h1m0 0h1m1 0h1m0 0h1m0 0h1m0 0h1m0 0h1m0 0h1m0 0h1m0 0h1m0 0h1m0 0h1m0 0h1m2 0h1m1 0h1m0 0h1m0 0h1m0 0h1m0 0h1m0 0h1m0 0h1m0 0h1m0 0h1m0 0h1m1 0h1m0 0h1m0 0h1m0 0h1m1 0h1m0 0h1m0 0h1m0 0h1m0 0h1m1 0h1m0 0h1m0 0h1m0 0h1m0 0h1m1 0h1m0 0h1m0 0h1m2 0h1m0 0h1m0 0h1m1 0h1m0 0h1m0 0h1m0 0h1m0 0h1m0 0h1m0 0h1m0 0h1m0 0h1m4 0h1m0 0h1m3 0h1m2 0h1m-133 1h1m3 0h1m2 0h1m1 0h1m1 0h1m1 0h1m1 0h1m1 0h1m0 0h1m0 0h1m0 0h1m0 0h1m0 0h1m0 0h1m0 0h1m0 0h1m0 0h1m0 0h1m0 0h1m0 0h1m2 0h1m0 0h1m0 0h1m0 0h1m0 0h1m0 0h1m0 0h1m0 0h1m0 0h1m2 0h1m0 0h1m2 0h1m0 0h1m0 0h1m0 0h1m1 0h1m1 0h1m0 0h1m1 0h1m0 0h1m0 0h1m0 0h1m0 0h1m0 0h1m0 0h1m1 0h1m0 0h1m0 0h1m0 0h1m0 0h1m0 0h1m1 0h1m0 0h1m0 0h1m0 0h1m0 0h1m0 0h1m0 0h1m0 0h1m0 0h1m0 0h1m0 0h1m0 0h1m0 0h1m0 0h1m0 0h1m0 0h1m0 0h1m0 0h1m0 0h1m0 0h1m0 0h1m0 0h1m1 0h1m0 0h1m0 0h1m0 0h1m0 0h1m1 0h1m0 0h1m1 0h1m3 0h1m0 0h1m0 0h1m0 0h1m0 0h1m1 0h1m0 0h1m0 0h1m0 0h1m0 0h1m1 0h1m0 0h1m4 0h1m0 0h1m0 0h1m0 0h1m0 0h1m1 0h1m-139 1h1m6 0h1m0 0h1m1 0h1m2 0h1m0 0h1m1 0h1m0 0h1m0 0h1m0 0h1m3 0h1m0 0h1m0 0h1m0 0h1m0 0h1m1 0h1m0 0h1m0 0h1m0 0h1m0 0h1m0 0h1m0 0h1m0 0h1m0 0h1m0 0h1m0 0h1m0 0h1m0 0h1m0 0h1m0 0h1m0 0h1m1 0h1m0 0h1m0 0h1m1 0h1m0 0h1m0 0h1m0 0h1m0 0h1m0 0h1m0 0h1m0 0h1m1 0h1m0 0h1m0 0h1m1 0h1m0 0h1m1 0h1m0 0h1m0 0h1m0 0h1m0 0h1m0 0h1m1 0h1m1 0h1m1 0h1m0 0h1m0 0h1m0 0h1m0 0h1m0 0h1m0 0h1m1 0h1m0 0h1m0 0h1m0 0h1m0 0h1m1 0h1m0 0h1m0 0h1m0 0h1m0 0h1m0 0h1m0 0h1m1 0h1m0 0h1m0 0h1m0 0h1m0 0h1m2 0h1m1 0h1m0 0h1m0 0h1m0 0h1m0 0h1m0 0h1m1 0h1m1 0h1m0 0h1m1 0h1m0 0h1m1 0h1m0 0h1m0 0h1m5 0h1m0 0h1m3 0h1m3 0h1m1 0h1m5 0h1m-139 1h1m0 0h1m6 0h1m0 0h1m0 0h1m1 0h1m0 0h1m1 0h1m2 0h1m0 0h1m0 0h1m2 0h1m0 0h1m0 0h1m0 0h1m0 0h1m1 0h1m1 0h1m0 0h1m1 0h1m1 0h1m0 0h1m0 0h1m1 0h1m0 0h1m0 0h1m0 0h1m0 0h1m0 0h1m0 0h1m0 0h1m0 0h1m0 0h1m0 0h1m1 0h1m1 0h1m0 0h1m0 0h1m0 0h1m0 0h1m0 0h1m0 0h1m0 0h1m0 0h1m0 0h1m0 0h1m1 0h1m3 0h1m0 0h1m0 0h1m0 0h1m1 0h1m0 0h1m0 0h1m0 0h1m1 0h1m0 0h1m0 0h1m0 0h1m2 0h1m0 0h1m0 0h1m0 0h1m0 0h1m0 0h1m1 0h1m1 0h1m0 0h1m0 0h1m1 0h1m1 0h1m0 0h1m0 0h1m0 0h1m0 0h1m0 0h1m0 0h1m0 0h1m0 0h1m1 0h1m0 0h1m0 0h1m0 0h1m0 0h1m0 0h1m0 0h1m0 0h1m0 0h1m4 0h1m4 0h1m0 0h1m1 0h1m-139 1h1m4 0h1m2 0h1m5 0h1m1 0h1m0 0h1m0 0h1m0 0h1m0 0h1m0 0h1m2 0h1m0 0h1m1 0h1m1 0h1m0 0h1m0 0h1m0 0h1m0 0h1m1 0h1m0 0h1m0 0h1m0 0h1m0 0h1m0 0h1m0 0h1m0 0h1m0 0h1m0 0h1m0 0h1m2 0h1m0 0h1m0 0h1m0 0h1m0 0h1m0 0h1m0 0h1m0 0h1m0 0h1m0 0h1m0 0h1m0 0h1m0 0h1m0 0h1m0 0h1m0 0h1m0 0h1m0 0h1m2 0h1m0 0h1m1 0h1m0 0h1m0 0h1m0 0h1m1 0h1m0 0h1m0 0h1m0 0h1m2 0h1m1 0h1m0 0h1m0 0h1m1 0h1m0 0h1m0 0h1m0 0h1m0 0h1m0 0h1m0 0h1m0 0h1m0 0h1m0 0h1m1 0h1m0 0h1m0 0h1m0 0h1m0 0h1m0 0h1m0 0h1m0 0h1m1 0h1m0 0h1m0 0h1m0 0h1m0 0h1m2 0h1m0 0h1m2 0h1m0 0h1m0 0h1m1 0h1m0 0h1m0 0h1m2 0h1m4 0h1m4 0h1m-137 1h1m9 0h1m1 0h1m0 0h1m0 0h1m1 0h1m2 0h1m0 0h1m1 0h1m2 0h1m0 0h1m0 0h1m0 0h1m0 0h1m0 0h1m0 0h1m0 0h1m0 0h1m0 0h1m0 0h1m0 0h1m0 0h1m2 0h1m0 0h1m0 0h1m1 0h1m0 0h1m0 0h1m0 0h1m0 0h1m0 0h1m0 0h1m0 0h1m0 0h1m0 0h1m0 0h1m0 0h1m0 0h1m0 0h1m0 0h1m0 0h1m2 0h1m0 0h1m0 0h1m0 0h1m1 0h1m0 0h1m0 0h1m0 0h1m0 0h1m1 0h1m0 0h1m0 0h1m1 0h1m0 0h1m0 0h1m1 0h1m1 0h1m0 0h1m1 0h1m2 0h1m0 0h1m0 0h1m1 0h1m0 0h1m0 0h1m0 0h1m0 0h1m0 0h1m0 0h1m0 0h1m1 0h1m0 0h1m0 0h1m1 0h1m0 0h1m0 0h1m0 0h1m0 0h1m0 0h1m1 0h1m0 0h1m0 0h1m0 0h1m0 0h1m4 0h1m1 0h1m0 0h1m0 0h1m0 0h1m2 0h1m2 0h1m0 0h1m1 0h1m5 0h1m-138 1h1m6 0h1m3 0h1m3 0h1m1 0h1m0 0h1m0 0h1m0 0h1m0 0h1m0 0h1m1 0h1m0 0h1m0 0h1m1 0h1m2 0h1m0 0h1m0 0h1m0 0h1m0 0h1m0 0h1m1 0h1m1 0h1m0 0h1m0 0h1m2 0h1m0 0h1m0 0h1m0 0h1m1 0h1m0 0h1m1 0h1m1 0h1m2 0h1m0 0h1m0 0h1m2 0h1m0 0h1m1 0h1m0 0h1m0 0h1m0 0h1m0 0h1m0 0h1m1 0h1m1 0h1m0 0h1m0 0h1m0 0h1m0 0h1m0 0h1m0 0h1m0 0h1m2 0h1m0 0h1m0 0h1m0 0h1m1 0h1m0 0h1m1 0h1m0 0h1m0 0h1m1 0h1m0 0h1m1 0h1m0 0h1m0 0h1m0 0h1m0 0h1m0 0h1m0 0h1m0 0h1m0 0h1m0 0h1m1 0h1m0 0h1m0 0h1m0 0h1m0 0h1m0 0h1m5 0h1m0 0h1m0 0h1m0 0h1m0 0h1m0 0h1m2 0h1m2 0h1m-142 1h1m5 0h1m9 0h1m0 0h1m1 0h1m3 0h1m0 0h1m0 0h1m0 0h1m0 0h1m2 0h1m0 0h1m0 0h1m0 0h1m0 0h1m1 0h1m0 0h1m0 0h1m0 0h1m0 0h1m0 0h1m0 0h1m0 0h1m0 0h1m0 0h1m1 0h1m0 0h1m0 0h1m0 0h1m2 0h1m1 0h1m0 0h1m0 0h1m0 0h1m0 0h1m0 0h1m0 0h1m0 0h1m0 0h1m0 0h1m0 0h1m0 0h1m0 0h1m0 0h1m0 0h1m0 0h1m1 0h1m0 0h1m0 0h1m1 0h1m0 0h1m2 0h1m0 0h1m1 0h1m0 0h1m0 0h1m0 0h1m0 0h1m0 0h1m1 0h1m1 0h1m0 0h1m0 0h1m0 0h1m0 0h1m0 0h1m0 0h1m0 0h1m0 0h1m0 0h1m0 0h1m0 0h1m0 0h1m0 0h1m0 0h1m0 0h1m3 0h1m0 0h1m0 0h1m0 0h1m0 0h1m0 0h1m1 0h1m2 0h1m0 0h1m0 0h1m2 0h1m0 0h1m2 0h1m1 0h1m2 0h1m0 0h1m2 0h1m2 0h1m-135 1h1m1 0h1m1 0h1m3 0h1m1 0h1m0 0h1m2 0h1m0 0h1m1 0h1m1 0h1m0 0h1m0 0h1m1 0h1m0 0h1m0 0h1m0 0h1m0 0h1m0 0h1m0 0h1m1 0h1m0 0h1m0 0h1m2 0h1m0 0h1m1 0h1m0 0h1m0 0h1m1 0h1m0 0h1m0 0h1m1 0h1m0 0h1m0 0h1m0 0h1m1 0h1m0 0h1m0 0h1m0 0h1m0 0h1m0 0h1m0 0h1m1 0h1m0 0h1m1 0h1m0 0h1m0 0h1m0 0h1m0 0h1m0 0h1m0 0h1m1 0h1m0 0h1m1 0h1m0 0h1m0 0h1m0 0h1m2 0h1m0 0h1m0 0h1m0 0h1m0 0h1m0 0h1m0 0h1m0 0h1m0 0h1m0 0h1m3 0h1m2 0h1m0 0h1m1 0h1m0 0h1m1 0h1m0 0h1m0 0h1m0 0h1m1 0h1m0 0h1m1 0h1m0 0h1m1 0h1m1 0h1m0 0h1m0 0h1m0 0h1m2 0h1m1 0h1m0 0h1m8 0h1m0 0h1m0 0h1m4 0h1m-135 1h1m4 0h1m2 0h1m0 0h1m1 0h1m0 0h1m0 0h1m1 0h1m1 0h1m0 0h1m0 0h1m1 0h1m0 0h1m0 0h1m2 0h1m0 0h1m0 0h1m1 0h1m0 0h1m0 0h1m0 0h1m1 0h1m0 0h1m0 0h1m0 0h1m0 0h1m1 0h1m0 0h1m0 0h1m0 0h1m0 0h1m0 0h1m0 0h1m0 0h1m1 0h1m0 0h1m0 0h1m0 0h1m2 0h1m0 0h1m0 0h1m0 0h1m0 0h1m0 0h1m0 0h1m0 0h1m0 0h1m2 0h1m0 0h1m0 0h1m1 0h1m0 0h1m2 0h1m0 0h1m0 0h1m0 0h1m0 0h1m0 0h1m0 0h1m0 0h1m0 0h1m0 0h1m0 0h1m0 0h1m0 0h1m0 0h1m0 0h1m0 0h1m0 0h1m2 0h1m0 0h1m0 0h1m1 0h1m1 0h1m0 0h1m0 0h1m0 0h1m0 0h1m0 0h1m0 0h1m0 0h1m1 0h1m0 0h1m0 0h1m0 0h1m0 0h1m1 0h1m2 0h1m0 0h1m0 0h1m2 0h1m1 0h1m0 0h1m0 0h1m5 0h1m-140 1h1m0 0h1m4 0h1m3 0h1m2 0h1m0 0h1m0 0h1m1 0h1m3 0h1m0 0h1m1 0h1m0 0h1m0 0h1m0 0h1m1 0h1m1 0h1m1 0h1m0 0h1m0 0h1m0 0h1m0 0h1m0 0h1m1 0h1m0 0h1m1 0h1m0 0h1m1 0h1m0 0h1m0 0h1m1 0h1m0 0h1m0 0h1m0 0h1m0 0h1m4 0h1m0 0h1m0 0h1m0 0h1m0 0h1m0 0h1m1 0h1m0 0h1m0 0h1m0 0h1m0 0h1m0 0h1m0 0h1m2 0h1m0 0h1m0 0h1m0 0h1m0 0h1m0 0h1m0 0h1m0 0h1m0 0h1m0 0h1m0 0h1m1 0h1m1 0h1m0 0h1m0 0h1m0 0h1m0 0h1m0 0h1m0 0h1m0 0h1m0 0h1m0 0h1m1 0h1m0 0h1m0 0h1m0 0h1m0 0h1m0 0h1m1 0h1m1 0h1m0 0h1m0 0h1m0 0h1m0 0h1m1 0h1m0 0h1m0 0h1m3 0h1m0 0h1m0 0h1m1 0h1m0 0h1m0 0h1m0 0h1m1 0h1m5 0h1m0 0h1m0 0h1m1 0h1m-137 1h1m2 0h1m1 0h1m3 0h1m0 0h1m2 0h1m1 0h1m1 0h1m1 0h1m2 0h1m0 0h1m0 0h1m0 0h1m1 0h1m0 0h1m0 0h1m1 0h1m0 0h1m1 0h1m0 0h1m0 0h1m2 0h1m1 0h1m1 0h1m0 0h1m0 0h1m0 0h1m0 0h1m0 0h1m0 0h1m0 0h1m0 0h1m0 0h1m0 0h1m1 0h1m1 0h1m0 0h1m1 0h1m0 0h1m0 0h1m0 0h1m0 0h1m0 0h1m0 0h1m5 0h1m0 0h1m0 0h1m1 0h1m0 0h1m0 0h1m0 0h1m0 0h1m0 0h1m0 0h1m0 0h1m0 0h1m0 0h1m0 0h1m1 0h1m0 0h1m0 0h1m1 0h1m0 0h1m0 0h1m0 0h1m0 0h1m0 0h1m1 0h1m0 0h1m0 0h1m0 0h1m0 0h1m2 0h1m0 0h1m0 0h1m0 0h1m0 0h1m0 0h1m0 0h1m1 0h1m6 0h1m1 0h1m1 0h1m1 0h1m3 0h1m3 0h1m1 0h1m-128 1h1m1 0h1m1 0h1m3 0h1m0 0h1m0 0h1m0 0h1m0 0h1m0 0h1m1 0h1m0 0h1m1 0h1m0 0h1m1 0h1m0 0h1m0 0h1m0 0h1m0 0h1m0 0h1m0 0h1m0 0h1m0 0h1m0 0h1m1 0h1m0 0h1m0 0h1m1 0h1m2 0h1m0 0h1m0 0h1m0 0h1m0 0h1m0 0h1m0 0h1m0 0h1m1 0h1m0 0h1m0 0h1m1 0h1m0 0h1m0 0h1m0 0h1m0 0h1m0 0h1m0 0h1m0 0h1m0 0h1m0 0h1m0 0h1m1 0h1m0 0h1m1 0h1m0 0h1m0 0h1m0 0h1m0 0h1m0 0h1m1 0h1m0 0h1m0 0h1m0 0h1m0 0h1m0 0h1m0 0h1m0 0h1m0 0h1m2 0h1m0 0h1m0 0h1m1 0h1m1 0h1m0 0h1m6 0h1m0 0h1m1 0h1m0 0h1m0 0h1m0 0h1m0 0h1m0 0h1m2 0h1m0 0h1m0 0h1m0 0h1m0 0h1m4 0h1m3 0h1m6 0h1m-145 1h1m3 0h1m4 0h1m3 0h1m0 0h1m0 0h1m0 0h1m1 0h1m0 0h1m0 0h1m0 0h1m1 0h1m0 0h1m0 0h1m0 0h1m0 0h1m1 0h1m0 0h1m0 0h1m0 0h1m0 0h1m1 0h1m0 0h1m1 0h1m0 0h1m0 0h1m1 0h1m0 0h1m0 0h1m0 0h1m0 0h1m0 0h1m0 0h1m0 0h1m0 0h1m0 0h1m0 0h1m0 0h1m0 0h1m0 0h1m2 0h1m0 0h1m0 0h1m2 0h1m0 0h1m0 0h1m0 0h1m0 0h1m0 0h1m1 0h1m0 0h1m0 0h1m0 0h1m0 0h1m0 0h1m0 0h1m0 0h1m0 0h1m0 0h1m0 0h1m2 0h1m1 0h1m0 0h1m0 0h1m0 0h1m0 0h1m0 0h1m0 0h1m1 0h1m0 0h1m0 0h1m0 0h1m0 0h1m0 0h1m0 0h1m0 0h1m0 0h1m1 0h1m1 0h1m0 0h1m0 0h1m0 0h1m1 0h1m1 0h1m0 0h1m0 0h1m0 0h1m0 0h1m1 0h1m1 0h1m2 0h1m0 0h1m0 0h1m0 0h1m0 0h1m2 0h1m4 0h1m3 0h1m2 0h1m8 0h1m-151 1h1m4 0h1m0 0h1m2 0h1m2 0h1m2 0h1m0 0h1m0 0h1m0 0h1m4 0h1m0 0h1m0 0h1m1 0h1m0 0h1m0 0h1m0 0h1m1 0h1m0 0h1m0 0h1m1 0h1m0 0h1m0 0h1m1 0h1m2 0h1m0 0h1m0 0h1m0 0h1m0 0h1m1 0h1m0 0h1m0 0h1m0 0h1m1 0h1m0 0h1m0 0h1m1 0h1m1 0h1m0 0h1m0 0h1m0 0h1m0 0h1m0 0h1m0 0h1m0 0h1m0 0h1m0 0h1m1 0h1m0 0h1m0 0h1m0 0h1m0 0h1m0 0h1m1 0h1m0 0h1m0 0h1m0 0h1m0 0h1m0 0h1m1 0h1m1 0h1m0 0h1m0 0h1m0 0h1m0 0h1m0 0h1m2 0h1m0 0h1m1 0h1m0 0h1m0 0h1m0 0h1m0 0h1m0 0h1m0 0h1m0 0h1m0 0h1m1 0h1m0 0h1m1 0h1m1 0h1m0 0h1m0 0h1m0 0h1m0 0h1m2 0h1m1 0h1m4 0h1m1 0h1m7 0h1m0 0h1m-131 1h1m7 0h1m1 0h1m2 0h1m0 0h1m0 0h1m2 0h1m0 0h1m1 0h1m0 0h1m0 0h1m0 0h1m0 0h1m0 0h1m0 0h1m0 0h1m1 0h1m0 0h1m0 0h1m0 0h1m1 0h1m0 0h1m0 0h1m0 0h1m0 0h1m0 0h1m0 0h1m0 0h1m0 0h1m0 0h1m0 0h1m0 0h1m0 0h1m0 0h1m0 0h1m0 0h1m1 0h1m0 0h1m0 0h1m0 0h1m0 0h1m0 0h1m0 0h1m0 0h1m0 0h1m0 0h1m0 0h1m0 0h1m0 0h1m0 0h1m0 0h1m0 0h1m1 0h1m0 0h1m0 0h1m0 0h1m0 0h1m0 0h1m0 0h1m0 0h1m0 0h1m0 0h1m0 0h1m0 0h1m1 0h1m1 0h1m1 0h1m0 0h1m0 0h1m2 0h1m0 0h1m0 0h1m0 0h1m0 0h1m0 0h1m0 0h1m0 0h1m1 0h1m0 0h1m0 0h1m2 0h1m1 0h1m2 0h1m0 0h1m0 0h1m0 0h1m0 0h1m1 0h1m0 0h1m1 0h1m0 0h1m1 0h1m4 0h1m8 0h1m-139 1h1m3 0h1m3 0h1m0 0h1m0 0h1m2 0h1m3 0h1m0 0h1m0 0h1m0 0h1m0 0h1m0 0h1m0 0h1m0 0h1m0 0h1m0 0h1m2 0h1m1 0h1m0 0h1m0 0h1m0 0h1m0 0h1m0 0h1m0 0h1m1 0h1m0 0h1m0 0h1m0 0h1m0 0h1m0 0h1m2 0h1m1 0h1m1 0h1m1 0h1m0 0h1m0 0h1m0 0h1m1 0h1m0 0h1m0 0h1m0 0h1m0 0h1m1 0h1m0 0h1m0 0h1m0 0h1m1 0h1m1 0h1m0 0h1m1 0h1m0 0h1m0 0h1m0 0h1m0 0h1m0 0h1m0 0h1m0 0h1m0 0h1m0 0h1m3 0h1m0 0h1m0 0h1m0 0h1m1 0h1m0 0h1m0 0h1m0 0h1m0 0h1m0 0h1m0 0h1m1 0h1m0 0h1m0 0h1m1 0h1m0 0h1m0 0h1m1 0h1m1 0h1m0 0h1m2 0h1m0 0h1m1 0h1m1 0h1m0 0h1m0 0h1m1 0h1m0 0h1m0 0h1m0 0h1m0 0h1m1 0h1m2 0h1m1 0h1m0 0h1m4 0h1m-137 1h1m0 0h1m2 0h1m4 0h1m1 0h1m0 0h1m0 0h1m1 0h1m0 0h1m0 0h1m1 0h1m0 0h1m0 0h1m0 0h1m0 0h1m1 0h1m0 0h1m1 0h1m0 0h1m1 0h1m0 0h1m0 0h1m0 0h1m1 0h1m0 0h1m0 0h1m1 0h1m0 0h1m0 0h1m0 0h1m1 0h1m1 0h1m0 0h1m0 0h1m0 0h1m1 0h1m0 0h1m0 0h1m1 0h1m0 0h1m0 0h1m0 0h1m0 0h1m0 0h1m0 0h1m0 0h1m0 0h1m0 0h1m0 0h1m0 0h1m0 0h1m0 0h1m0 0h1m0 0h1m0 0h1m1 0h1m0 0h1m1 0h1m2 0h1m0 0h1m0 0h1m0 0h1m0 0h1m0 0h1m0 0h1m0 0h1m0 0h1m0 0h1m0 0h1m1 0h1m0 0h1m0 0h1m0 0h1m0 0h1m0 0h1m0 0h1m4 0h1m1 0h1m1 0h1m0 0h1m0 0h1m4 0h1m0 0h1m1 0h1m2 0h1m0 0h1m0 0h1m0 0h1m0 0h1m-126 1h1m3 0h1m4 0h1m2 0h1m0 0h1m6 0h1m0 0h1m0 0h1m0 0h1m0 0h1m0 0h1m0 0h1m0 0h1m2 0h1m1 0h1m0 0h1m2 0h1m0 0h1m0 0h1m0 0h1m0 0h1m0 0h1m1 0h1m2 0h1m0 0h1m3 0h1m1 0h1m1 0h1m0 0h1m0 0h1m0 0h1m0 0h1m0 0h1m0 0h1m2 0h1m0 0h1m0 0h1m0 0h1m0 0h1m0 0h1m1 0h1m0 0h1m0 0h1m0 0h1m2 0h1m0 0h1m0 0h1m0 0h1m0 0h1m0 0h1m2 0h1m0 0h1m0 0h1m0 0h1m0 0h1m0 0h1m0 0h1m0 0h1m0 0h1m0 0h1m0 0h1m1 0h1m0 0h1m0 0h1m0 0h1m0 0h1m0 0h1m0 0h1m2 0h1m2 0h1m0 0h1m0 0h1m1 0h1m1 0h1m1 0h1m2 0h1m1 0h1m1 0h1m2 0h1m1 0h1m0 0h1m0 0h1m5 0h1m1 0h1m-146 1h1m12 0h1m4 0h1m4 0h1m0 0h1m1 0h1m0 0h1m0 0h1m0 0h1m0 0h1m0 0h1m0 0h1m0 0h1m1 0h1m0 0h1m0 0h1m0 0h1m2 0h1m0 0h1m1 0h1m0 0h1m0 0h1m0 0h1m0 0h1m3 0h1m0 0h1m1 0h1m0 0h1m0 0h1m0 0h1m2 0h1m0 0h1m0 0h1m0 0h1m4 0h1m0 0h1m0 0h1m0 0h1m0 0h1m0 0h1m0 0h1m2 0h1m0 0h1m0 0h1m0 0h1m1 0h1m0 0h1m0 0h1m0 0h1m0 0h1m1 0h1m0 0h1m2 0h1m0 0h1m0 0h1m0 0h1m1 0h1m0 0h1m0 0h1m0 0h1m1 0h1m1 0h1m0 0h1m0 0h1m0 0h1m0 0h1m0 0h1m0 0h1m0 0h1m5 0h1m3 0h1m0 0h1m1 0h1m2 0h1m0 0h1m1 0h1m2 0h1m0 0h1m-128 1h1m1 0h1m2 0h1m1 0h1m3 0h1m0 0h1m1 0h1m0 0h1m0 0h1m0 0h1m1 0h1m0 0h1m0 0h1m1 0h1m0 0h1m1 0h1m0 0h1m1 0h1m0 0h1m0 0h1m1 0h1m0 0h1m0 0h1m0 0h1m0 0h1m0 0h1m0 0h1m0 0h1m0 0h1m0 0h1m1 0h1m0 0h1m0 0h1m0 0h1m1 0h1m0 0h1m0 0h1m0 0h1m0 0h1m0 0h1m1 0h1m0 0h1m0 0h1m0 0h1m0 0h1m1 0h1m1 0h1m0 0h1m0 0h1m0 0h1m0 0h1m0 0h1m0 0h1m1 0h1m0 0h1m0 0h1m0 0h1m0 0h1m2 0h1m1 0h1m1 0h1m0 0h1m0 0h1m0 0h1m0 0h1m0 0h1m0 0h1m0 0h1m0 0h1m0 0h1m0 0h1m0 0h1m0 0h1m1 0h1m1 0h1m0 0h1m3 0h1m0 0h1m4 0h1m0 0h1m1 0h1m0 0h1m1 0h1m4 0h1m0 0h1m1 0h1m2 0h1m0 0h1m5 0h1m4 0h1m-133 1h1m0 0h1m1 0h1m1 0h1m3 0h1m2 0h1m0 0h1m0 0h1m1 0h1m1 0h1m1 0h1m0 0h1m2 0h1m0 0h1m2 0h1m0 0h1m0 0h1m0 0h1m0 0h1m0 0h1m0 0h1m0 0h1m0 0h1m0 0h1m0 0h1m1 0h1m0 0h1m0 0h1m1 0h1m0 0h1m0 0h1m0 0h1m0 0h1m0 0h1m0 0h1m0 0h1m1 0h1m0 0h1m0 0h1m1 0h1m0 0h1m3 0h1m0 0h1m0 0h1m0 0h1m0 0h1m0 0h1m0 0h1m0 0h1m0 0h1m2 0h1m0 0h1m0 0h1m0 0h1m0 0h1m0 0h1m0 0h1m0 0h1m0 0h1m2 0h1m1 0h1m1 0h1m0 0h1m0 0h1m0 0h1m0 0h1m0 0h1m0 0h1m4 0h1m2 0h1m3 0h1m0 0h1m0 0h1m2 0h1m1 0h1m4 0h1m1 0h1m3 0h1m1 0h1m-132 1h1m0 0h1m5 0h1m4 0h1m8 0h1m0 0h1m0 0h1m0 0h1m0 0h1m0 0h1m0 0h1m0 0h1m0 0h1m0 0h1m0 0h1m0 0h1m0 0h1m0 0h1m0 0h1m0 0h1m0 0h1m0 0h1m0 0h1m2 0h1m1 0h1m0 0h1m0 0h1m1 0h1m0 0h1m0 0h1m0 0h1m0 0h1m0 0h1m1 0h1m0 0h1m0 0h1m0 0h1m0 0h1m0 0h1m0 0h1m0 0h1m0 0h1m0 0h1m0 0h1m0 0h1m0 0h1m1 0h1m0 0h1m2 0h1m0 0h1m0 0h1m0 0h1m1 0h1m0 0h1m2 0h1m0 0h1m1 0h1m0 0h1m0 0h1m0 0h1m0 0h1m0 0h1m0 0h1m2 0h1m0 0h1m0 0h1m0 0h1m0 0h1m0 0h1m0 0h1m1 0h1m2 0h1m1 0h1m0 0h1m0 0h1m0 0h1m1 0h1m0 0h1m0 0h1m2 0h1m0 0h1m1 0h1m1 0h1m4 0h1m0 0h1m1 0h1m0 0h1m-134 1h1m1 0h1m4 0h1m1 0h1m0 0h1m4 0h1m1 0h1m2 0h1m0 0h1m1 0h1m0 0h1m0 0h1m0 0h1m0 0h1m0 0h1m0 0h1m0 0h1m0 0h1m0 0h1m0 0h1m0 0h1m0 0h1m0 0h1m0 0h1m0 0h1m0 0h1m0 0h1m0 0h1m0 0h1m0 0h1m2 0h1m0 0h1m0 0h1m0 0h1m0 0h1m0 0h1m0 0h1m1 0h1m0 0h1m2 0h1m2 0h1m0 0h1m0 0h1m0 0h1m1 0h1m0 0h1m0 0h1m0 0h1m0 0h1m1 0h1m0 0h1m0 0h1m0 0h1m0 0h1m0 0h1m0 0h1m0 0h1m1 0h1m0 0h1m0 0h1m0 0h1m0 0h1m0 0h1m0 0h1m0 0h1m0 0h1m0 0h1m3 0h1m0 0h1m0 0h1m0 0h1m1 0h1m1 0h1m0 0h1m0 0h1m0 0h1m1 0h1m1 0h1m0 0h1m1 0h1m4 0h1m0 0h1m0 0h1m0 0h1m4 0h1m3 0h1m6 0h1m-129 1h1m5 0h1m1 0h1m5 0h1m0 0h1m0 0h1m0 0h1m0 0h1m1 0h1m1 0h1m0 0h1m1 0h1m0 0h1m0 0h1m2 0h1m1 0h1m0 0h1m1 0h1m0 0h1m0 0h1m0 0h1m0 0h1m0 0h1m0 0h1m0 0h1m0 0h1m1 0h1m0 0h1m0 0h1m0 0h1m0 0h1m0 0h1m0 0h1m0 0h1m0 0h1m0 0h1m0 0h1m0 0h1m0 0h1m0 0h1m1 0h1m0 0h1m0 0h1m2 0h1m1 0h1m0 0h1m2 0h1m1 0h1m0 0h1m0 0h1m0 0h1m0 0h1m0 0h1m0 0h1m0 0h1m0 0h1m0 0h1m0 0h1m0 0h1m0 0h1m0 0h1m0 0h1m0 0h1m0 0h1m0 0h1m0 0h1m2 0h1m2 0h1m0 0h1m0 0h1m1 0h1m1 0h1m1 0h1m0 0h1m0 0h1m1 0h1m1 0h1m0 0h1m0 0h1m0 0h1m1 0h1m0 0h1m0 0h1m2 0h1m1 0h1m1 0h1m4 0h1m0 0h1m0 0h1m1 0h1m1 0h1m-129 1h1m4 0h1m0 0h1m1 0h1m0 0h1m0 0h1m0 0h1m0 0h1m0 0h1m1 0h1m0 0h1m2 0h1m0 0h1m0 0h1m0 0h1m0 0h1m0 0h1m0 0h1m0 0h1m2 0h1m1 0h1m0 0h1m0 0h1m1 0h1m0 0h1m0 0h1m0 0h1m0 0h1m0 0h1m1 0h1m1 0h1m1 0h1m0 0h1m0 0h1m0 0h1m2 0h1m0 0h1m0 0h1m0 0h1m0 0h1m1 0h1m0 0h1m1 0h1m0 0h1m1 0h1m0 0h1m0 0h1m0 0h1m0 0h1m0 0h1m1 0h1m1 0h1m0 0h1m0 0h1m0 0h1m0 0h1m0 0h1m1 0h1m0 0h1m0 0h1m1 0h1m1 0h1m1 0h1m4 0h1m0 0h1m0 0h1m1 0h1m0 0h1m1 0h1m0 0h1m0 0h1m1 0h1m1 0h1m0 0h1m0 0h1m0 0h1m0 0h1m0 0h1m6 0h1m5 0h1m5 0h1m-136 1h1m0 0h1m0 0h1m6 0h1m0 0h1m2 0h1m3 0h1m1 0h1m0 0h1m2 0h1m0 0h1m0 0h1m0 0h1m0 0h1m0 0h1m0 0h1m0 0h1m0 0h1m0 0h1m0 0h1m0 0h1m0 0h1m1 0h1m0 0h1m0 0h1m1 0h1m0 0h1m0 0h1m1 0h1m0 0h1m0 0h1m1 0h1m1 0h1m1 0h1m0 0h1m0 0h1m0 0h1m1 0h1m0 0h1m0 0h1m2 0h1m0 0h1m0 0h1m1 0h1m0 0h1m1 0h1m0 0h1m0 0h1m0 0h1m0 0h1m0 0h1m1 0h1m0 0h1m1 0h1m1 0h1m0 0h1m0 0h1m0 0h1m1 0h1m0 0h1m0 0h1m0 0h1m0 0h1m0 0h1m0 0h1m0 0h1m0 0h1m4 0h1m1 0h1m4 0h1m1 0h1m0 0h1m7 0h1m1 0h1m1 0h1m0 0h1m3 0h1m2 0h1m6 0h1m-145 1h1m11 0h1m0 0h1m2 0h1m4 0h1m1 0h1m0 0h1m0 0h1m1 0h1m3 0h1m0 0h1m0 0h1m0 0h1m0 0h1m1 0h1m0 0h1m0 0h1m0 0h1m0 0h1m0 0h1m1 0h1m0 0h1m0 0h1m0 0h1m0 0h1m0 0h1m0 0h1m0 0h1m0 0h1m3 0h1m1 0h1m0 0h1m0 0h1m0 0h1m0 0h1m0 0h1m0 0h1m0 0h1m0 0h1m0 0h1m0 0h1m0 0h1m1 0h1m0 0h1m0 0h1m0 0h1m0 0h1m0 0h1m0 0h1m1 0h1m1 0h1m0 0h1m1 0h1m0 0h1m0 0h1m2 0h1m0 0h1m0 0h1m0 0h1m0 0h1m0 0h1m1 0h1m1 0h1m0 0h1m1 0h1m0 0h1m0 0h1m1 0h1m0 0h1m1 0h1m4 0h1m0 0h1m1 0h1m0 0h1m0 0h1m1 0h1m1 0h1m0 0h1m0 0h1m1 0h1m1 0h1m1 0h1m3 0h1m5 0h1m-136 1h1m2 0h1m2 0h1m3 0h1m0 0h1m9 0h1m3 0h1m0 0h1m0 0h1m2 0h1m0 0h1m1 0h1m0 0h1m0 0h1m0 0h1m0 0h1m2 0h1m0 0h1m0 0h1m0 0h1m0 0h1m0 0h1m0 0h1m0 0h1m0 0h1m0 0h1m1 0h1m1 0h1m0 0h1m0 0h1m1 0h1m0 0h1m0 0h1m0 0h1m0 0h1m0 0h1m0 0h1m0 0h1m0 0h1m0 0h1m0 0h1m0 0h1m1 0h1m0 0h1m0 0h1m2 0h1m1 0h1m0 0h1m4 0h1m1 0h1m1 0h1m1 0h1m0 0h1m2 0h1m0 0h1m2 0h1m1 0h1m0 0h1m2 0h1m0 0h1m0 0h1m0 0h1m0 0h1m0 0h1m2 0h1m1 0h1m0 0h1m1 0h1m6 0h1m0 0h1m0 0h1m2 0h1m2 0h1m1 0h1m3 0h1m0 0h1m-125 1h1m0 0h1m1 0h1m1 0h1m2 0h1m2 0h1m0 0h1m0 0h1m0 0h1m0 0h1m5 0h1m0 0h1m0 0h1m0 0h1m0 0h1m0 0h1m1 0h1m0 0h1m0 0h1m0 0h1m0 0h1m0 0h1m1 0h1m0 0h1m0 0h1m0 0h1m0 0h1m0 0h1m0 0h1m0 0h1m1 0h1m0 0h1m0 0h1m0 0h1m0 0h1m1 0h1m0 0h1m0 0h1m0 0h1m3 0h1m2 0h1m0 0h1m0 0h1m1 0h1m2 0h1m0 0h1m0 0h1m0 0h1m2 0h1m1 0h1m1 0h1m0 0h1m5 0h1m0 0h1m0 0h1m3 0h1m0 0h1m2 0h1m0 0h1m0 0h1m1 0h1m2 0h1m0 0h1m1 0h1m3 0h1m1 0h1m3 0h1m-117 1h1m1 0h1m1 0h1m2 0h1m0 0h1m0 0h1m0 0h1m0 0h1m0 0h1m0 0h1m0 0h1m2 0h1m0 0h1m1 0h1m4 0h1m0 0h1m0 0h1m1 0h1m0 0h1m0 0h1m0 0h1m0 0h1m2 0h1m0 0h1m1 0h1m0 0h1m0 0h1m0 0h1m0 0h1m0 0h1m1 0h1m0 0h1m0 0h1m1 0h1m1 0h1m1 0h1m0 0h1m0 0h1m0 0h1m0 0h1m0 0h1m0 0h1m0 0h1m0 0h1m0 0h1m0 0h1m0 0h1m0 0h1m0 0h1m0 0h1m0 0h1m1 0h1m0 0h1m0 0h1m0 0h1m0 0h1m1 0h1m0 0h1m0 0h1m1 0h1m0 0h1m1 0h1m0 0h1m0 0h1m1 0h1m0 0h1m0 0h1m2 0h1m7 0h1m0 0h1m2 0h1m0 0h1m15 0h1m2 0h1m-113 1h1m0 0h1m8 0h1m0 0h1m0 0h1m0 0h1m0 0h1m1 0h1m0 0h1m1 0h1m0 0h1m0 0h1m1 0h1m0 0h1m0 0h1m0 0h1m0 0h1m0 0h1m0 0h1m0 0h1m0 0h1m1 0h1m0 0h1m0 0h1m0 0h1m1 0h1m0 0h1m1 0h1m0 0h1m0 0h1m0 0h1m0 0h1m1 0h1m0 0h1m1 0h1m0 0h1m0 0h1m0 0h1m0 0h1m1 0h1m0 0h1m0 0h1m0 0h1m0 0h1m0 0h1m0 0h1m1 0h1m3 0h1m1 0h1m0 0h1m0 0h1m2 0h1m0 0h1m0 0h1m0 0h1m0 0h1m3 0h1m0 0h1m0 0h1m5 0h1m1 0h1m0 0h1m2 0h1m6 0h1m3 0h1m0 0h1m-124 1h1m4 0h1m4 0h1m2 0h1m9 0h1m1 0h1m0 0h1m1 0h1m1 0h1m2 0h1m0 0h1m0 0h1m1 0h1m0 0h1m0 0h1m0 0h1m0 0h1m0 0h1m3 0h1m0 0h1m1 0h1m0 0h1m0 0h1m1 0h1m0 0h1m0 0h1m0 0h1m0 0h1m0 0h1m0 0h1m1 0h1m0 0h1m0 0h1m0 0h1m3 0h1m2 0h1m0 0h1m0 0h1m5 0h1m0 0h1m1 0h1m1 0h1m0 0h1m0 0h1m2 0h1m0 0h1m0 0h1m1 0h1m1 0h1m0 0h1m0 0h1m2 0h1m5 0h1m0 0h1m2 0h1m1 0h1m1 0h1m2 0h1m1 0h1m1 0h1m1 0h1m1 0h1m-121 1h1m3 0h1m4 0h1m0 0h1m8 0h1m0 0h1m0 0h1m3 0h1m0 0h1m0 0h1m0 0h1m1 0h1m0 0h1m2 0h1m0 0h1m0 0h1m0 0h1m2 0h1m1 0h1m0 0h1m0 0h1m0 0h1m0 0h1m1 0h1m4 0h1m0 0h1m1 0h1m0 0h1m0 0h1m0 0h1m2 0h1m0 0h1m0 0h1m2 0h1m0 0h1m0 0h1m0 0h1m0 0h1m4 0h1m0 0h1m0 0h1m0 0h1m0 0h1m0 0h1m1 0h1m2 0h1m0 0h1m0 0h1m0 0h1m0 0h1m3 0h1m9 0h1m2 0h1m1 0h1m0 0h1m0 0h1m4 0h1m6 0h1m-129 1h1m3 0h1m14 0h1m1 0h1m0 0h1m1 0h1m2 0h1m4 0h1m0 0h1m2 0h1m0 0h1m0 0h1m0 0h1m0 0h1m0 0h1m0 0h1m0 0h1m0 0h1m0 0h1m0 0h1m1 0h1m0 0h1m0 0h1m0 0h1m0 0h1m0 0h1m0 0h1m0 0h1m0 0h1m0 0h1m0 0h1m3 0h1m0 0h1m2 0h1m0 0h1m0 0h1m1 0h1m1 0h1m1 0h1m3 0h1m0 0h1m4 0h1m2 0h1m5 0h1m1 0h1m8 0h1m0 0h1m0 0h1m5 0h1m0 0h1m2 0h1m0 0h1m0 0h1m1 0h1m7 0h1m0 0h1m6 0h1m-127 1h1m3 0h1m4 0h1m0 0h1m3 0h1m2 0h1m2 0h1m1 0h1m3 0h1m0 0h1m1 0h1m3 0h1m0 0h1m1 0h1m1 0h1m0 0h1m0 0h1m1 0h1m1 0h1m0 0h1m1 0h1m1 0h1m1 0h1m0 0h1m0 0h1m0 0h1m1 0h1m0 0h1m0 0h1m1 0h1m0 0h1m1 0h1m0 0h1m1 0h1m0 0h1m1 0h1m0 0h1m1 0h1m2 0h1m0 0h1m0 0h1m0 0h1m5 0h1m1 0h1m0 0h1m1 0h1m1 0h1m2 0h1m0 0h1m0 0h1m1 0h1m2 0h1m0 0h1m0 0h1m4 0h1m0 0h1m1 0h1m3 0h1m4 0h1m-116 1h1m6 0h1m2 0h1m2 0h1m0 0h1m4 0h1m0 0h1m1 0h1m1 0h1m2 0h1m0 0h1m1 0h1m0 0h1m0 0h1m0 0h1m0 0h1m0 0h1m0 0h1m0 0h1m0 0h1m1 0h1m0 0h1m1 0h1m0 0h1m0 0h1m1 0h1m2 0h1m0 0h1m0 0h1m0 0h1m2 0h1m3 0h1m0 0h1m4 0h1m0 0h1m0 0h1m0 0h1m1 0h1m0 0h1m1 0h1m0 0h1m0 0h1m0 0h1m1 0h1m0 0h1m1 0h1m0 0h1m0 0h1m4 0h1m3 0h1m0 0h1m0 0h1m0 0h1m2 0h1m1 0h1m8 0h1m8 0h1m-121 1h1m0 0h1m1 0h1m10 0h1m0 0h1m2 0h1m4 0h1m0 0h1m0 0h1m1 0h1m1 0h1m1 0h1m1 0h1m0 0h1m0 0h1m0 0h1m0 0h1m0 0h1m1 0h1m0 0h1m1 0h1m1 0h1m0 0h1m1 0h1m1 0h1m0 0h1m0 0h1m1 0h1m0 0h1m0 0h1m0 0h1m1 0h1m0 0h1m1 0h1m1 0h1m1 0h1m0 0h1m0 0h1m1 0h1m0 0h1m0 0h1m0 0h1m1 0h1m8 0h1m1 0h1m2 0h1m0 0h1m1 0h1m0 0h1m3 0h1m0 0h1m5 0h1m0 0h1m0 0h1m2 0h1m0 0h1m4 0h1m5 0h1m-126 1h1m4 0h1m4 0h1m5 0h1m1 0h1m0 0h1m2 0h1m0 0h1m2 0h1m0 0h1m1 0h1m0 0h1m0 0h1m0 0h1m0 0h1m1 0h1m0 0h1m0 0h1m0 0h1m0 0h1m0 0h1m2 0h1m2 0h1m0 0h1m0 0h1m1 0h1m0 0h1m1 0h1m0 0h1m2 0h1m2 0h1m0 0h1m0 0h1m0 0h1m5 0h1m1 0h1m0 0h1m0 0h1m0 0h1m2 0h1m0 0h1m0 0h1m0 0h1m3 0h1m5 0h1m0 0h1m3 0h1m0 0h1m0 0h1m0 0h1m0 0h1m2 0h1m2 0h1m0 0h1m0 0h1m8 0h1m8 0h1m-120 1h1m0 0h1m6 0h1m4 0h1m1 0h1m0 0h1m0 0h1m1 0h1m0 0h1m4 0h1m3 0h1m1 0h1m1 0h1m0 0h1m2 0h1m5 0h1m1 0h1m0 0h1m2 0h1m0 0h1m0 0h1m0 0h1m2 0h1m0 0h1m2 0h1m0 0h1m3 0h1m0 0h1m1 0h1m2 0h1m0 0h1m0 0h1m2 0h1m0 0h1m0 0h1m0 0h1m0 0h1m3 0h1m3 0h1m2 0h1m2 0h1m2 0h1m1 0h1m0 0h1m0 0h1m1 0h1m0 0h1m2 0h1m3 0h1m0 0h1m6 0h1m-105 1h1m3 0h1m0 0h1m0 0h1m0 0h1m1 0h1m0 0h1m3 0h1m2 0h1m1 0h1m1 0h1m2 0h1m2 0h1m0 0h1m2 0h1m2 0h1m0 0h1m0 0h1m0 0h1m0 0h1m1 0h1m0 0h1m5 0h1m1 0h1m3 0h1m2 0h1m1 0h1m2 0h1m1 0h1m0 0h1m3 0h1m2 0h1m2 0h1m2 0h1m1 0h1m0 0h1m1 0h1m3 0h1m1 0h1m2 0h1m1 0h1m1 0h1m1 0h1m3 0h1m3 0h1m-120 1h1m13 0h1m1 0h1m4 0h1m3 0h1m0 0h1m1 0h1m0 0h1m0 0h1m3 0h1m0 0h1m2 0h1m1 0h1m0 0h1m0 0h1m1 0h1m0 0h1m0 0h1m1 0h1m1 0h1m0 0h1m0 0h1m0 0h1m0 0h1m1 0h1m0 0h1m0 0h1m2 0h1m8 0h1m0 0h1m1 0h1m3 0h1m1 0h1m0 0h1m1 0h1m0 0h1m4 0h1m5 0h1m3 0h1m0 0h1m1 0h1m0 0h1m1 0h1m0 0h1m6 0h1m1 0h1m0 0h1m3 0h1m3 0h1m-114 1h1m2 0h1m7 0h1m6 0h1m1 0h1m1 0h1m4 0h1m0 0h1m4 0h1m1 0h1m0 0h1m0 0h1m0 0h1m0 0h1m0 0h1m1 0h1m0 0h1m0 0h1m0 0h1m2 0h1m0 0h1m5 0h1m0 0h1m1 0h1m0 0h1m1 0h1m0 0h1m1 0h1m0 0h1m3 0h1m3 0h1m0 0h1m0 0h1m0 0h1m4 0h1m2 0h1m4 0h1m1 0h1m3 0h1m1 0h1m4 0h1m0 0h1m1 0h1m4 0h1m2 0h1m-116 1h1m1 0h1m9 0h1m5 0h1m0 0h1m0 0h1m1 0h1m0 0h1m1 0h1m6 0h1m0 0h1m0 0h1m0 0h1m0 0h1m0 0h1m0 0h1m1 0h1m2 0h1m2 0h1m3 0h1m1 0h1m1 0h1m0 0h1m1 0h1m3 0h1m8 0h1m1 0h1m2 0h1m0 0h1m1 0h1m1 0h1m1 0h1m0 0h1m3 0h1m0 0h1m5 0h1m1 0h1m1 0h1m6 0h1m7 0h1m-95 1h1m1 0h1m3 0h1m5 0h1m0 0h1m1 0h1m0 0h1m0 0h1m7 0h1m0 0h1m0 0h1m0 0h1m0 0h1m1 0h1m0 0h1m2 0h1m2 0h1m2 0h1m0 0h1m0 0h1m0 0h1m0 0h1m1 0h1m0 0h1m0 0h1m1 0h1m1 0h1m0 0h1m6 0h1m0 0h1m5 0h1m4 0h1m1 0h1m2 0h1m0 0h1m2 0h1m0 0h1m0 0h1m5 0h1m3 0h1m3 0h1m-110 1h1m6 0h1m1 0h1m5 0h1m3 0h1m0 0h1m3 0h1m2 0h1m3 0h1m1 0h1m3 0h1m1 0h1m2 0h1m0 0h1m0 0h1m0 0h1m3 0h1m2 0h1m7 0h1m0 0h1m3 0h1m1 0h1m3 0h1m0 0h1m0 0h1m0 0h1m1 0h1m0 0h1m1 0h1m1 0h1m0 0h1m4 0h1m1 0h1m0 0h1m5 0h1m2 0h1m-99 1h1m13 0h1m3 0h1m0 0h1m4 0h1m1 0h1m0 0h1m4 0h1m2 0h1m0 0h1m0 0h1m1 0h1m0 0h1m0 0h1m1 0h1m1 0h1m3 0h1m1 0h1m0 0h1m1 0h1m0 0h1m1 0h1m0 0h1m2 0h1m0 0h1m1 0h1m0 0h1m4 0h1m0 0h1m1 0h1m6 0h1m0 0h1m0 0h1m4 0h1m2 0h1m1 0h1m1 0h1m1 0h1m1 0h1m8 0h1m-96 1h1m8 0h1m5 0h1m3 0h1m1 0h1m0 0h1m2 0h1m5 0h1m3 0h1m0 0h1m1 0h1m0 0h1m1 0h1m2 0h1m0 0h1m0 0h1m0 0h1m1 0h1m1 0h1m0 0h1m0 0h1m0 0h1m0 0h1m1 0h1m9 0h1m0 0h1m2 0h1m1 0h1m4 0h1m3 0h1m2 0h1m1 0h1m-75 1h1m3 0h1m0 0h1m2 0h1m4 0h1m1 0h1m1 0h1m0 0h1m0 0h1m1 0h1m1 0h1m0 0h1m1 0h1m0 0h1m2 0h1m1 0h1m0 0h1m0 0h1m3 0h1m0 0h1m2 0h1m1 0h1m0 0h1m5 0h1m3 0h1m0 0h1m1 0h1m3 0h1m2 0h1m3 0h1m2 0h1m0 0h1m0 0h1m0 0h1m-78 1h1m1 0h1m6 0h1m0 0h1m2 0h1m1 0h1m1 0h1m1 0h1m7 0h1m0 0h1m2 0h1m11 0h1m0 0h1m2 0h1m6 0h1m4 0h1m2 0h1m4 0h1m0 0h1m0 0h1m0 0h1m0 0h1m4 0h1m1 0h1m-83 1h1m4 0h1m1 0h1m4 0h1m0 0h1m1 0h1m2 0h1m0 0h1m4 0h1m0 0h1m1 0h1m0 0h1m4 0h1m0 0h1m0 0h1m1 0h1m3 0h1m3 0h1m0 0h1m0 0h1m1 0h1m1 0h1m3 0h1m0 0h1m0 0h1m0 0h1m8 0h1m4 0h1m0 0h1m1 0h1m0 0h1m4 0h1m-84 1h1m9 0h1m0 0h1m11 0h1m3 0h1m4 0h1m0 0h1m1 0h1m1 0h1m2 0h1m1 0h1m2 0h1m6 0h1m6 0h1m0 0h1m0 0h1m0 0h1m2 0h1m2 0h1m0 0h1m0 0h1m2 0h1m0 0h1m1 0h1m2 0h1m2 0h1m1 0h1m2 0h1m-88 1h1m8 0h1m3 0h1m0 0h1m3 0h1m4 0h1m1 0h1m0 0h1m0 0h1m3 0h1m0 0h1m0 0h1m5 0h1m0 0h1m4 0h1m0 0h1m0 0h1m3 0h1m0 0h1m1 0h1m4 0h1m0 0h1m1 0h1m5 0h1m0 0h1m0 0h1m2 0h1m2 0h1m0 0h1m0 0h1m0 0h1m1 0h1m4 0h1m-72 1h1m10 0h1m1 0h1m1 0h1m0 0h1m2 0h1m0 0h1m1 0h1m0 0h1m0 0h1m0 0h1m3 0h1m0 0h1m2 0h1m2 0h1m1 0h1m1 0h1m1 0h1m0 0h1m0 0h1m3 0h1m3 0h1m1 0h1m0 0h1m0 0h1m0 0h1m2 0h1m1 0h1m1 0h1m2 0h1m12 0h1m-78 1h1m3 0h1m0 0h1m1 0h1m0 0h1m1 0h1m1 0h1m3 0h1m1 0h1m0 0h1m0 0h1m0 0h1m0 0h1m1 0h1m1 0h1m0 0h1m3 0h1m0 0h1m0 0h1m3 0h1m0 0h1m4 0h1m0 0h1m0 0h1m0 0h1m0 0h1m1 0h1m1 0h1m2 0h1m0 0h1m0 0h1m7 0h1m-67 1h1m2 0h1m4 0h1m2 0h1m0 0h1m0 0h1m0 0h1m0 0h1m2 0h1m2 0h1m1 0h1m1 0h1m3 0h1m0 0h1m2 0h1m1 0h1m1 0h1m1 0h1m3 0h1m3 0h1m1 0h1m0 0h1m3 0h1m0 0h1m0 0h1m3 0h1m0 0h1m0 0h1m1 0h1m2 0h1m0 0h1m3 0h1m2 0h1m-66 1h1m1 0h1m0 0h1m1 0h1m0 0h1m1 0h1m4 0h1m0 0h1m1 0h1m0 0h1m1 0h1m0 0h1m0 0h1m2 0h1m2 0h1m4 0h1m0 0h1m0 0h1m5 0h1m6 0h1m9 0h1m1 0h1m1 0h1m2 0h1m0 0h1m-73 1h1m6 0h1m5 0h1m0 0h1m6 0h1m0 0h1m1 0h1m0 0h1m0 0h1m1 0h1m2 0h1m0 0h1m0 0h1m0 0h1m0 0h1m4 0h1m2 0h1m4 0h1m3 0h1m10 0h1m0 0h1m1 0h1m4 0h1m-72 1h1m2 0h1m10 0h1m2 0h1m4 0h1m1 0h1m0 0h1m9 0h1m12 0h1m0 0h1m0 0h1m0 0h1m2 0h1m1 0h1m0 0h1m2 0h1m-42 1h1m1 0h1m2 0h1m0 0h1m2 0h1m3 0h1m3 0h1m0 0h1m2 0h1m0 0h1m15 0h1m3 0h1m1 0h1m3 0h1m1 0h1m-68 1h1m3 0h1m2 0h1m0 0h1m1 0h1m5 0h1m0 0h1m0 0h1m1 0h1m0 0h1m0 0h1m1 0h1m3 0h1m1 0h1m3 0h1m5 0h1m0 0h1m6 0h1m1 0h1m0 0h1m0 0h1m1 0h1m0 0h1m0 0h1m3 0h1m1 0h1m2 0h1m3 0h1m-54 1h1m1 0h1m2 0h1m0 0h1m0 0h1m0 0h1m2 0h1m8 0h1m3 0h1m0 0h1m2 0h1m0 0h1m0 0h1m0 0h1m1 0h1m2 0h1m1 0h1m7 0h1m0 0h1m-57 1h1m2 0h1m2 0h1m1 0h1m0 0h1m0 0h1m0 0h1m0 0h1m1 0h1m0 0h1m0 0h1m1 0h1m1 0h1m3 0h1m0 0h1m0 0h1m2 0h1m0 0h1m0 0h1m3 0h1m0 0h1m2 0h1m3 0h1m4 0h1m9 0h1m-57 1h1m6 0h1m1 0h1m0 0h1m1 0h1m1 0h1m5 0h1m1 0h1m3 0h1m0 0h1m3 0h1m0 0h1m4 0h1m2 0h1m3 0h1m0 0h1m1 0h1m1 0h1m2 0h1m8 0h1m1 0h1m-66 1h1m1 0h1m4 0h1m0 0h1m3 0h1m1 0h1m5 0h1m0 0h1m4 0h1m0 0h1m2 0h1m0 0h1m1 0h1m0 0h1m0 0h1m0 0h1m1 0h1m0 0h1m1 0h1m1 0h1m1 0h1m4 0h1m3 0h1m0 0h1m0 0h1m-49 1h1m2 0h1m1 0h1m0 0h1m2 0h1m8 0h1m2 0h1m2 0h1m0 0h1m0 0h1m6 0h1m1 0h1m0 0h1m1 0h1m3 0h1m3 0h1m3 0h1m-55 1h1m0 0h1m9 0h1m0 0h1m1 0h1m2 0h1m5 0h1m1 0h1m0 0h1m6 0h1m3 0h1m1 0h1m-19 1h1m1 0h1m0 0h1m2 0h1m7 0h1m8 0h1m8 0h1m-36 1h1m1 0h1m0 0h1m2 0h1m0 0h1m7 0h1m0 0h1m1 0h1m0 0h1m2 0h1m0 0h1m-37 1h1m0 0h1m0 0h1m1 0h1m1 0h1m0 0h1m8 0h1m3 0h1m10 0h1m4 0h1m0 0h1m-28 1h1m0 0h1m1 0h1m7 0h1m0 0h1m3 0h1m1 0h1m4 0h1m2 0h1m1 0h1m2 0h1m-34 1h1m-4 1h1m3 0h1m5 0h1m5 0h1m4 0h1m3 0h1m7 0h1m-33 1h1m8 0h1m3 0h1m4 0h1m0 0h1m1 0h1m1 0h1m14 0h1m-38 1h1m5 0h1m6 0h1m4 0h1m4 0h1m-18 1h1m13 0h1m-12 1h1m3 0h1m0 1h1m-7 1h1" stroke="#1c1c1c" stroke-width="1.3" fill="none" opacity="0.8"/>
<g filter="url(#blurcore)"><path d="M327 271L378 268L390 279L396 295L389 311L367 318L341 315L323 303L317 287Z" fill="#000"/><path d="M330 271L346 238L364 232L380 268Z" fill="#111" opacity="0.55"/></g>
<path d="M392 298h1m-5 1h1m1 0h1m2 0h1m1 0h1m-7 1h1m0 0h1m1 0h1m0 0h1m1 0h1m0 0h1m-7 1h1m0 0h1m0 0h1m2 0h1m1 0h1m1 0h1m0 0h1m-10 1h1m3 0h1m1 0h1m0 0h1m0 0h1m0 0h1m0 0h1m0 0h1m-11 1h1m5 0h1m0 0h1m0 0h1m0 0h1m0 0h1m0 0h1m0 0h1m-4 1h1m0 0h1m0 0h1m0 0h1m0 0h1m0 0h1m1 0h1m-4 1h1m0 0h1m0 0h1m1 0h1m-6 1h1m0 0h1m0 0h1m1 0h1m0 0h1m0 0h1m2 0h1m2 0h1m-9 1h1m0 0h1m0 0h1m0 0h1m0 0h1m2 0h1m-6 1h1m0 0h1m0 0h1m0 0h1m0 0h1m0 0h1m1 0h1m0 0h1m-9 1h1m1 0h1m1 0h1m0 0h1m0 0h1m0 0h1m-7 1h1m1 0h1m1 0h1m1 0h1m0 0h1m-3 1h1m0 0h1m0 0h1m0 0h1m-5 1h1m1 0h1m2 0h1m0 0h1m0 0h1m2 0h1m-9 1h1m0 0h1m1 0h1m0 0h1m0 0h1m0 0h1m1 0h1m-7 1h1m1 0h1m0 0h1m1 0h1m0 0h1m1 0h1m-7 1h1m1 0h1m0 0h1m0 0h1m0 0h1m-3 1h1m0 0h1m0 0h1m0 0h1m-3 1h1m0 0h1m0 0h1m0 0h1m-2 1h1m0 0h1m0 0h1m0 0h1m0 0h1m3 0h1m-8 1h1m1 0h1m0 0h1m0 0h1m0 0h1m-4 1h1m1 0h1m0 0h1m0 0h1m-6 1h1m0 0h1m1 0h1m0 0h1m0 0h1m-3 1h1m0 0h1m0 0h1m0 0h1m0 0h1m-4 1h1m0 0h1m1 0h1m0 0h1m-4 1h1m0 0h1m0 0h1m0 0h1m0 0h1m0 0h1m0 0h1m-4 1h1m1 0h1m0 0h1m-3 1h1m0 0h1m0 0h1m-4 1h1m0 0h1m0 0h1m0 0h1m0 0h1m-2 1h1m0 0h1m0 0h1m-5 1h1m1 0h1m0 0h1m3 0h1m0 0h1m-5 1h1m0 0h1m1 0h1m-5 1h1m0 0h1m0 0h1m-3 1h1m0 0h1m0 0h1m2 0h1m-5 1h1m1 0h1m0 0h1m0 0h1m-4 1h1m0 0h1m0 0h1m0 0h1m1 0h1m-3 1h1m0 0h1m-3 1h1m0 0h1m0 0h1m0 0h1m0 0h1m-3 1h1m0 0h1m0 0h1m0 0h1m-4 1h1m0 0h1m0 0h1m0 0h1m-3 1h1m1 0h1m0 0h1m-5 1h1m0 0h1m0 0h1m0 0h1m0 0h1m-1 1h1m0 0h1m-4 1h1m0 0h1m0 0h1m0 0h1m0 0h1m-5 1h1m1 0h1m0 0h1m0 0h1m-3 1h1m0 0h1m0 0h1m1 0h1m-5 1h1m0 0h1m0 0h1m0 0h1m0 0h1m-2 1h1m-2 1h1m0 0h1m0 0h1m-4 1h1m1 0h1m0 0h1m-2 1h1m1 0h1m-3 1h1m1 0h1m-2 1h1" stroke="#000" stroke-width="1.6" fill="none" opacity="0.85"/>
<defs>
 <radialGradient id="oball" cx="40%" cy="35%" r="65%">
  <stop offset="0" stop-color="#fde3c0"/>
  <stop offset="0.5" stop-color="#f5b46e"/>
  <stop offset="1" stop-color="#e2883a"/>
 </radialGradient>
</defs>
<circle cx="323.4" cy="271" r="6" fill="url(#oball)"/>
<circle cx="142" cy="285" r="5.5" fill="url(#oball)"/>
<text x="163" y="291.5" font-size="19.6" fill="#111">Control</text>
<text x="163" y="314.5" font-size="19.6" fill="#111">Optimal</text>
<polygon points="358.20,216.20 360.49,221.34 366.09,221.94 361.91,225.71 363.08,231.21 358.20,228.40 353.32,231.21 354.49,225.71 350.31,221.94 355.91,221.34" fill="#e8101a"/><polygon points="141.80,300.90 143.98,305.80 149.31,306.36 145.33,309.95 146.44,315.19 141.80,312.51 137.16,315.19 138.27,309.95 134.29,306.36 139.62,305.80" fill="#e8101a"/>
<defs>
 <linearGradient id="rbBot" x1="0" y1="0" x2="1" y2="0">
  <stop offset="0" stop-color="#ff5c70"/>
  <stop offset="0.1" stop-color="#ff8a6a"/>
  <stop offset="0.2" stop-color="#ffd872"/>
  <stop offset="0.27" stop-color="#f2f57a"/>
  <stop offset="0.4" stop-color="#7ef27e"/>
  <stop offset="0.5" stop-color="#78f2b8"/>
  <stop offset="0.57" stop-color="#70f0f0"/>
  <stop offset="0.66" stop-color="#5fb6ff"/>
  <stop offset="0.74" stop-color="#6e7cff"/>
  <stop offset="0.85" stop-color="#d070ff"/>
  <stop offset="0.92" stop-color="#ff6ee0"/>
  <stop offset="1" stop-color="#ff5a9a"/>
 </linearGradient>
 <linearGradient id="rbTop" gradientUnits="userSpaceOnUse" x1="662" y1="0" x2="804" y2="0">
  <stop offset="0" stop-color="#f7e47a"/>
  <stop offset="0.12" stop-color="#e8f27a"/>
  <stop offset="0.3" stop-color="#7ef080"/>
  <stop offset="0.42" stop-color="#7af0c8"/>
  <stop offset="0.52" stop-color="#70eef6"/>
  <stop offset="0.66" stop-color="#6aa2ff"/>
  <stop offset="0.76" stop-color="#8a78ff"/>
  <stop offset="0.88" stop-color="#ef6ef0"/>
  <stop offset="1" stop-color="#ff6ab0"/>
 </linearGradient>
 <radialGradient id="arglow" cx="0.5" cy="0.5" r="0.5">
  <stop offset="0" stop-color="#ddeef9"/><stop offset="1" stop-color="#ddeef9"/>
 </radialGradient>
 <filter id="soft2" x="-20%" y="-20%" width="140%" height="140%"><feGaussianBlur stdDeviation="2.2"/></filter>
 <pattern id="bumps" patternUnits="userSpaceOnUse" width="30" height="14" x="600" y="318">
  <ellipse cx="15" cy="7" rx="13" ry="6" fill="#fbf0c0" fill-opacity="0.25" stroke="#b8a878" stroke-opacity="0.35" stroke-width="1"/>
 </pattern>
</defs>

<path d="M487 105.5H539V87.5L580 128L539 168V149.5H487Z" fill="#b3d8ef" filter="url(#soft2)"/>
<path d="M490 109H541V93L575 128L541 162.5V146H490Z" fill="#dceef9"/>
<path d="M493 110V145M497 110V145M502 110V145" stroke="#f4fafe" stroke-width="1.2"/>
<path d="M688.5 187V42.5H662L732.5 1.5L803.5 42.5H776V187Z" fill="url(#rbTop)"/>
<path d="M679.3 262H787.2V428.5H679.3Z" fill="url(#rbBot)"/><path d="M679.3 244H787.2V262H679.3Z" fill="url(#rbBot)" fill-opacity="0.55"/>
<path d="M591 64L857 54L875 89V103H591Z" fill="#f1e9a6" fill-opacity="0.68"/>
<path d="M591 64L857 54L875 89L676 96Z" fill="#d3cda0" fill-opacity="0.75"/>
<path d="M857 54L875 89V120L857 98Z" fill="#f6f0bc" fill-opacity="0.6"/>
<path d="M591 104L857 98L875 120V169H591Z" fill="#a9c9c8" fill-opacity="0.8"/>
<path d="M591 104L857 98L875 120L676 125Z" fill="#9bb8ad" fill-opacity="0.85"/>
<path d="M676 125H857V169H676Z" fill="#e0f4f2" fill-opacity="0.3"/>
<path d="M591 169H875V187H591Z" fill="#f7dc88"/>
<path d="M591 168.5H875V171.5H591Z" fill="#bdb78e" fill-opacity="0.8"/>
<path d="M591 180H875V187H591Z" fill="#f2c27a"/>
<path d="M591 179H875V181H591Z" fill="#d49a4c" fill-opacity="0.8"/>
<path d="M591 187H875V244H591Z" fill="#66b6e6"/>
<clipPath id="bhjclip"><path d="M591 187H875V244H591Z"/></clipPath><g clip-path="url(#bhjclip)"><path d="M622 229C635 242 641 236 653 236C660 235 663 248 669 238C682 228 689 238 702 234C712 236 717 221 728 230C736 241 740 237 748 224C761 214 767 228 779 218C785 229 788 210 794 214C808 224 815 208 829 221C839 226 844 213 855 228C866 241 872 239 884 225M607 196C614 184 617 191 625 198C631 203 634 194 640 195C652 195 658 190 671 195C683 182 688 208 700 187C712 197 718 174 730 192C739 194 744 178 752 184C760 197 764 176 771 189C784 201 791 184 805 186C815 194 820 175 830 190C843 200 849 177 861 197C868 193 871 200 878 204C887 216 891 205 900 201M604 197C611 187 614 202 621 205C628 192 632 219 639 206C648 198 653 208 662 211C672 209 676 198 686 217C692 217 695 227 702 212C714 224 719 215 731 216C738 214 742 206 748 222C757 220 761 236 769 227C783 226 790 227 804 231C814 225 819 228 828 225C837 239 842 238 851 227C861 223 866 216 876 224C888 234 894 220 907 228M631 227C643 234 648 223 660 230C668 229 672 237 680 233C689 245 693 237 701 234C707 236 710 227 716 237C726 246 731 241 741 242C750 246 754 248 763 247C772 257 776 257 785 250C799 263 805 250 819 250C827 259 830 262 838 250C849 256 855 256 866 244C879 247 885 249 897 243M622 231C634 237 639 218 650 226C660 230 664 218 674 229C685 216 691 228 702 224C708 214 711 219 718 219C725 206 729 218 737 217C747 220 753 210 764 224C770 221 773 218 779 222C786 232 789 219 796 215C807 204 812 216 823 212C834 225 839 221 850 211C862 215 869 207 881 205M621 219C634 232 641 222 655 217C668 203 675 206 688 218C699 208 704 221 715 224C724 222 729 216 738 221C751 217 758 234 772 227C783 221 788 241 799 227C808 222 813 241 822 227C831 227 835 217 843 229C853 223 857 237 867 234C873 235 876 228 882 241M632 201C640 191 644 215 652 198C663 197 669 202 679 199C691 189 697 207 709 196C720 192 725 190 735 197C745 193 750 204 759 198C766 191 769 197 775 205C788 206 795 191 808 209C817 211 822 215 831 211C841 223 846 208 856 210C869 201 875 204 888 215M589 235C601 233 606 229 618 239C631 229 638 239 651 240C661 235 666 230 676 241C689 229 695 234 707 246C720 251 726 233 738 250C752 264 759 256 773 243C785 235 792 247 805 250C816 240 822 244 834 250C841 253 845 248 852 245C863 232 868 234 879 243C886 230 889 245 896 247M638 195C647 189 652 197 661 194C675 191 682 182 695 198C702 201 706 198 713 204C724 208 729 198 739 205C747 212 751 206 759 199C767 196 771 206 779 194C791 198 797 182 808 197C815 186 818 199 825 193C838 192 845 188 858 197C864 204 867 185 873 192C887 197 894 184 907 186" stroke="#4a94d6" stroke-opacity="0.55" stroke-width="1.3" fill="none"/><path d="M643 225C656 215 662 228 675 223C683 218 687 226 694 220C704 210 708 229 717 223C730 221 736 232 748 223C759 225 764 230 775 221C782 208 785 213 792 214C805 213 812 221 825 206C835 217 839 209 849 205C859 193 864 195 874 199C883 196 887 210 896 194M600 203C608 197 611 195 618 203C625 214 628 199 634 210C646 214 651 209 663 217C670 221 673 211 680 219C692 210 698 211 710 212C718 200 722 209 729 219C738 214 743 219 752 216C764 222 769 207 781 212C793 224 798 216 810 211C824 197 831 198 844 215C854 202 858 217 868 223C878 219 883 212 893 216M639 215C652 203 659 208 673 208C682 195 686 201 696 206C704 194 708 193 717 214C724 214 728 211 735 214C742 209 745 203 752 215C765 218 772 225 785 210C792 212 795 210 801 212C810 215 814 218 823 218C832 217 836 227 844 214C851 209 855 202 862 218C874 213 881 208 893 211M600 192C609 194 614 185 623 185C635 172 641 176 652 182C661 171 666 180 675 182C687 184 693 193 705 184C717 187 723 183 735 190C746 202 752 196 763 193C771 201 775 189 783 187C790 178 793 180 800 190C808 177 812 197 820 191C827 178 830 180 836 188C849 201 855 191 868 184C878 180 882 179 892 182M620 234C632 223 638 235 650 229C661 227 667 241 679 234C686 228 689 245 696 233C706 231 710 240 720 240C730 253 735 243 745 234C758 231 764 221 777 241C783 243 786 241 792 247C802 239 806 241 815 243C826 239 831 250 842 238C850 231 855 252 864 244C876 247 883 241 896 238M635 215C641 206 644 204 651 218C664 210 670 227 684 216C695 226 701 219 712 220C721 207 726 221 735 222C742 219 746 217 754 214C762 211 766 214 775 217C784 231 789 226 798 224C809 229 815 225 827 229C836 232 840 234 849 229C857 218 861 218 870 227C880 234 886 233 896 224M641 203C652 191 658 210 670 205C684 216 691 211 704 211C716 214 722 203 734 211C747 204 754 224 767 212C776 198 781 209 790 207C801 218 807 218 818 208C827 197 831 214 841 209C852 206 858 220 870 205C878 198 883 208 891 211" stroke="#9ad4f2" stroke-opacity="0.5" stroke-width="1.1" fill="none"/></g>
<path d="M591 243L677 230H875V244H591Z" fill="#3f8ee0" fill-opacity="0.9"/>
<path d="M591 244H856L876 230V245L856 262H591Z" fill="#80d680" fill-opacity="0.85"/>
<path d="M856 244L876 230V245L856 262Z" fill="#9be09b"/>
<path d="M591 262H856L876 245V350L856 360H591Z" fill="#efeff2" fill-opacity="0.72"/>
<path d="M856 262L876 245V350L856 360Z" fill="#e8e8ec" fill-opacity="0.7"/>
<linearGradient id="dome" x1="0" y1="0" x2="0" y2="1"><stop offset="0" stop-color="#b9a66e" stop-opacity="0.55"/><stop offset="0.55" stop-color="#e9dcaa" stop-opacity="0.35"/><stop offset="1" stop-color="#fff7d0" stop-opacity="0.7"/></linearGradient>
<path d="M591 358L677 317L876 321L856 365Z" fill="#d9c994" fill-opacity="0.62"/>
<clipPath id="arclip"><path d="M591 358L677 317L876 321L856 365V393L591 380Z"/></clipPath><g clip-path="url(#arclip)"><ellipse cx="679.2" cy="328.0" rx="10.0" ry="6.5" fill="url(#dome)"/><ellipse cx="701.0" cy="328.0" rx="10.0" ry="6.5" fill="url(#dome)"/><ellipse cx="722.9" cy="328.0" rx="10.0" ry="6.5" fill="url(#dome)"/><ellipse cx="744.7" cy="328.0" rx="10.0" ry="6.5" fill="url(#dome)"/><ellipse cx="766.5" cy="328.0" rx="10.0" ry="6.5" fill="url(#dome)"/><ellipse cx="788.3" cy="328.0" rx="10.0" ry="6.5" fill="url(#dome)"/><ellipse cx="810.1" cy="328.0" rx="10.0" ry="6.5" fill="url(#dome)"/><ellipse cx="831.9" cy="328.0" rx="10.0" ry="6.5" fill="url(#dome)"/><ellipse cx="853.7" cy="328.0" rx="10.0" ry="6.5" fill="url(#dome)"/><ellipse cx="671.9" cy="337.5" rx="10.8" ry="6.5" fill="url(#dome)"/><ellipse cx="695.5" cy="337.5" rx="10.8" ry="6.5" fill="url(#dome)"/><ellipse cx="719.0" cy="337.5" rx="10.8" ry="6.5" fill="url(#dome)"/><ellipse cx="742.6" cy="337.5" rx="10.8" ry="6.5" fill="url(#dome)"/><ellipse cx="766.1" cy="337.5" rx="10.8" ry="6.5" fill="url(#dome)"/><ellipse cx="789.7" cy="337.5" rx="10.8" ry="6.5" fill="url(#dome)"/><ellipse cx="813.2" cy="337.5" rx="10.8" ry="6.5" fill="url(#dome)"/><ellipse cx="836.8" cy="337.5" rx="10.8" ry="6.5" fill="url(#dome)"/><ellipse cx="860.3" cy="337.5" rx="10.8" ry="6.5" fill="url(#dome)"/><ellipse cx="641.1" cy="347.0" rx="11.6" ry="6.5" fill="url(#dome)"/><ellipse cx="666.4" cy="347.0" rx="11.6" ry="6.5" fill="url(#dome)"/><ellipse cx="691.7" cy="347.0" rx="11.6" ry="6.5" fill="url(#dome)"/><ellipse cx="716.9" cy="347.0" rx="11.6" ry="6.5" fill="url(#dome)"/><ellipse cx="742.2" cy="347.0" rx="11.6" ry="6.5" fill="url(#dome)"/><ellipse cx="767.5" cy="347.0" rx="11.6" ry="6.5" fill="url(#dome)"/><ellipse cx="792.8" cy="347.0" rx="11.6" ry="6.5" fill="url(#dome)"/><ellipse cx="818.1" cy="347.0" rx="11.6" ry="6.5" fill="url(#dome)"/><ellipse cx="843.4" cy="347.0" rx="11.6" ry="6.5" fill="url(#dome)"/><ellipse cx="635.6" cy="356.5" rx="12.4" ry="6.5" fill="url(#dome)"/><ellipse cx="662.6" cy="356.5" rx="12.4" ry="6.5" fill="url(#dome)"/><ellipse cx="689.6" cy="356.5" rx="12.4" ry="6.5" fill="url(#dome)"/><ellipse cx="716.6" cy="356.5" rx="12.4" ry="6.5" fill="url(#dome)"/><ellipse cx="743.6" cy="356.5" rx="12.4" ry="6.5" fill="url(#dome)"/><ellipse cx="770.6" cy="356.5" rx="12.4" ry="6.5" fill="url(#dome)"/><ellipse cx="797.6" cy="356.5" rx="12.4" ry="6.5" fill="url(#dome)"/><ellipse cx="824.7" cy="356.5" rx="12.4" ry="6.5" fill="url(#dome)"/><ellipse cx="851.7" cy="356.5" rx="12.4" ry="6.5" fill="url(#dome)"/><ellipse cx="603.0" cy="366.0" rx="13.2" ry="6.5" fill="url(#dome)"/><ellipse cx="631.7" cy="366.0" rx="13.2" ry="6.5" fill="url(#dome)"/><ellipse cx="660.5" cy="366.0" rx="13.2" ry="6.5" fill="url(#dome)"/><ellipse cx="689.2" cy="366.0" rx="13.2" ry="6.5" fill="url(#dome)"/><ellipse cx="718.0" cy="366.0" rx="13.2" ry="6.5" fill="url(#dome)"/><ellipse cx="746.7" cy="366.0" rx="13.2" ry="6.5" fill="url(#dome)"/><ellipse cx="775.5" cy="366.0" rx="13.2" ry="6.5" fill="url(#dome)"/><ellipse cx="804.2" cy="366.0" rx="13.2" ry="6.5" fill="url(#dome)"/><ellipse cx="833.0" cy="366.0" rx="13.2" ry="6.5" fill="url(#dome)"/></g>
<path d="M591 358L856 365V393L591 380Z" fill="#efe2ae" fill-opacity="0.62"/>
<g clip-path="url(#arclip)"><ellipse cx="605" cy="376.0" rx="13" ry="9" fill="url(#dome)"/><ellipse cx="634" cy="376.6" rx="13" ry="9" fill="url(#dome)"/><ellipse cx="663" cy="377.2" rx="13" ry="9" fill="url(#dome)"/><ellipse cx="692" cy="377.8" rx="13" ry="9" fill="url(#dome)"/><ellipse cx="721" cy="378.4" rx="13" ry="9" fill="url(#dome)"/><ellipse cx="750" cy="379.0" rx="13" ry="9" fill="url(#dome)"/><ellipse cx="779" cy="379.6" rx="13" ry="9" fill="url(#dome)"/><ellipse cx="808" cy="380.2" rx="13" ry="9" fill="url(#dome)"/><ellipse cx="837" cy="380.8" rx="13" ry="9" fill="url(#dome)"/></g>
<path d="M856 365L876 321V350L856 393Z" fill="#e3d6a2" fill-opacity="0.85"/>
<text x="609" y="112.6" font-size="20.8" fill="#111">OCL</text>
<text x="698" y="97.5" font-size="20.8" fill="#111">ZnS (110 nm)</text>
<text x="698.3" y="148" font-size="20.8" fill="#111">Na<tspan font-size="14.5" dy="5">3</tspan><tspan dy="-5">AlF</tspan><tspan font-size="14.5" dy="5">6</tspan><tspan dy="-5"> (170 nm)</tspan></text>
<text x="609" y="185" font-size="20.8" fill="#111">Au/Ag</text>
<text x="609" y="222" font-size="20.8" fill="#111">BHJ</text>
<text x="609" y="260" font-size="20.8" fill="#111">HTL</text>
<text x="609" y="319.5" font-size="20.8" fill="#111">ITO/glass</text>
<text x="609" y="376.6" font-size="20.8" fill="#111">AR</text><defs><linearGradient id="sky" x1="0" y1="0" x2="0" y2="1"><stop offset="0" stop-color="#9db0e4"/><stop offset="1" stop-color="#bfcaee"/></linearGradient><linearGradient id="grass" x1="0" y1="0" x2="0" y2="1"><stop offset="0" stop-color="#4f6e3a"/><stop offset="0.5" stop-color="#62803c"/><stop offset="1" stop-color="#74893e"/></linearGradient><linearGradient id="facade" x1="0" y1="0" x2="1" y2="0"><stop offset="0" stop-color="#8e9098"/><stop offset="0.2" stop-color="#b4b7c0"/><stop offset="0.6" stop-color="#bfc2ca"/><stop offset="0.92" stop-color="#a5a8b0"/><stop offset="1" stop-color="#878a92"/></linearGradient><g id="bld"><rect width="191" height="214" fill="url(#sky)"/><path d="M0 95 C3 70 8 45 20 30 L34 17 C55 5 80 2 97 3 C125 4 148 10 160 19 L170 28 C180 40 188 60 191 80 L191 170 L0 170Z" fill="url(#facade)"/><clipPath id="silclip"><path d="M0 95 C3 70 8 45 20 30 L34 17 C55 5 80 2 97 3 C125 4 148 10 160 19 L170 28 C180 40 188 60 191 80 L191 170 L0 170Z"/></clipPath><g clip-path="url(#silclip)"><path d="M31.0 8.0H34.6V19.0H31.0ZM39.6 7.4H46.0V18.4H39.6ZM51.4 6.8H58.3V17.8H51.4ZM64.1 6.6H71.3V17.6H64.1ZM77.3 6.6H84.8V17.6H77.3ZM90.9 7.0H98.4V18.0H90.9ZM104.5 7.7H112.0V18.7H104.5ZM118.0 8.7H125.3V19.7H118.0ZM131.0 10.0H137.9V21.0H131.0ZM143.4 11.5H149.8V22.5H143.4ZM154.9 13.1H160.7V24.1H154.9ZM13.0 26.6H15.3V43.6H13.0ZM19.2 25.9H24.3V42.9H19.2ZM28.8 25.1H34.6V42.1H28.8ZM39.6 24.4H46.0V41.4H39.6ZM51.4 23.8H58.3V40.8H51.4ZM64.1 23.6H71.3V40.6H64.1ZM77.3 23.6H84.8V40.6H77.3ZM90.9 24.0H98.4V41.0H90.9ZM104.5 24.7H112.0V41.7H104.5ZM118.0 25.7H125.3V42.7H118.0ZM131.0 27.0H137.9V44.0H131.0ZM143.4 28.5H149.8V45.5H143.4ZM154.9 30.1H160.7V47.1H154.9ZM165.2 31.7H170.4V48.7H165.2ZM174.3 33.2H178.6V50.2H174.3ZM181.8 34.6H185.0V51.6H181.8ZM6.0 50.5H7.8V68.5H6.0ZM11.0 49.8H15.3V67.8H11.0ZM19.2 48.9H24.3V66.9H19.2ZM28.8 48.1H34.6V66.1H28.8ZM39.6 47.4H46.0V65.4H39.6ZM51.4 46.8H58.3V64.8H51.4ZM64.1 46.6H71.3V64.6H64.1ZM77.3 46.6H84.8V64.6H77.3ZM90.9 47.0H98.4V65.0H90.9ZM104.5 47.7H112.0V65.7H104.5ZM118.0 48.7H125.3V66.7H118.0ZM131.0 50.0H137.9V68.0H131.0ZM143.4 51.5H149.8V69.5H143.4ZM154.9 53.1H160.7V71.1H154.9ZM165.2 54.7H170.4V72.7H165.2ZM174.3 56.2H178.6V74.2H174.3ZM181.8 57.6H185.3V75.6H181.8ZM187.8 58.6H189.0V76.6H187.8ZM4.4 74.6H7.8V93.6H4.4ZM11.0 73.8H15.3V92.8H11.0ZM19.2 72.9H24.3V91.9H19.2ZM28.8 72.1H34.6V91.1H28.8ZM39.6 71.4H46.0V90.4H39.6ZM51.4 70.8H58.3V89.8H51.4ZM64.1 70.6H71.3V89.6H64.1ZM77.3 70.6H84.8V89.6H77.3ZM90.9 71.0H98.4V90.0H90.9ZM104.5 71.7H112.0V90.7H104.5ZM118.0 72.7H125.3V91.7H118.0ZM131.0 74.0H137.9V93.0H131.0ZM143.4 75.5H149.8V94.5H143.4ZM154.9 77.1H160.7V96.1H154.9ZM165.2 78.7H170.4V97.7H165.2ZM174.3 80.2H178.6V99.2H174.3ZM181.8 81.6H185.3V100.6H181.8ZM187.8 82.7H190.0V101.7H187.8ZM4.4 99.6H7.8V117.6H4.4ZM11.0 98.8H15.3V116.8H11.0ZM19.2 97.9H24.3V115.9H19.2ZM28.8 97.1H34.6V115.1H28.8ZM39.6 96.4H46.0V114.4H39.6ZM51.4 95.8H58.3V113.8H51.4ZM64.1 95.6H71.3V113.6H64.1ZM77.3 95.6H84.8V113.6H77.3ZM90.9 96.0H98.4V114.0H90.9ZM104.5 96.7H112.0V114.7H104.5ZM118.0 97.7H125.3V115.7H118.0ZM131.0 99.0H137.9V117.0H131.0ZM143.4 100.5H149.8V118.5H143.4ZM154.9 102.1H160.7V120.1H154.9ZM165.2 103.7H170.4V121.7H165.2ZM174.3 105.2H178.6V123.2H174.3ZM181.8 106.6H185.3V124.6H181.8ZM187.8 107.7H190.0V125.7H187.8ZM4.4 123.6H7.8V141.6H4.4ZM11.0 122.8H15.3V140.8H11.0ZM19.2 121.9H24.3V139.9H19.2ZM28.8 121.1H34.6V139.1H28.8ZM39.6 120.4H46.0V138.4H39.6ZM51.4 119.8H58.3V137.8H51.4ZM64.1 119.6H71.3V137.6H64.1ZM77.3 119.6H84.8V137.6H77.3ZM90.9 120.0H98.4V138.0H90.9ZM104.5 120.7H112.0V138.7H104.5ZM118.0 121.7H125.3V139.7H118.0ZM131.0 123.0H137.9V141.0H131.0ZM143.4 124.5H149.8V142.5H143.4ZM154.9 126.1H160.7V144.1H154.9ZM165.2 127.7H170.4V145.7H165.2ZM174.3 129.2H178.6V147.2H174.3ZM181.8 130.6H185.3V148.6H181.8ZM187.8 131.7H190.0V149.7H187.8Z" fill="#2c3868"/><path d="M12.0 21.9L20.7 21.0L29.4 20.2L38.1 19.6L46.8 19.2L55.5 18.8L64.2 18.6L72.9 18.6L81.6 18.6L90.3 18.8L99.0 19.2L107.7 19.7L116.4 20.3L125.1 21.0L133.8 21.9L142.5 22.9L151.2 24.1L159.9 25.4L168.6 26.8L177.3 28.4L186.0 30.1L186.0 34.6L177.3 32.9L168.6 31.3L159.9 29.9L151.2 28.6L142.5 27.4L133.8 26.4L125.1 25.5L116.4 24.8L107.7 24.2L99.0 23.7L90.3 23.3L81.6 23.1L72.9 23.1L64.2 23.1L55.5 23.3L46.8 23.7L38.1 24.1L29.4 24.7L20.7 25.5L12.0 26.4ZM5.0 45.7L14.2 44.6L23.5 43.7L32.8 43.0L42.0 42.4L51.2 42.0L60.5 41.7L69.8 41.6L79.0 41.6L88.2 41.8L97.5 42.1L106.8 42.6L116.0 43.2L125.2 44.0L134.5 45.0L143.8 46.1L153.0 47.3L162.2 48.8L171.5 50.3L180.8 52.0L190.0 53.9L190.0 58.4L180.8 56.5L171.5 54.8L162.2 53.3L153.0 51.8L143.8 50.6L134.5 49.5L125.2 48.5L116.0 47.7L106.8 47.1L97.5 46.6L88.2 46.3L79.0 46.1L69.8 46.1L60.5 46.2L51.2 46.5L42.0 46.9L32.8 47.5L23.5 48.2L14.2 49.1L5.0 50.2ZM0.0 70.3L9.6 69.2L19.1 68.1L28.6 67.3L38.2 66.6L47.8 66.1L57.3 65.8L66.8 65.6L76.4 65.6L86.0 65.7L95.5 66.0L105.0 66.5L114.6 67.1L124.2 67.9L133.7 68.9L143.2 70.0L152.8 71.3L162.3 72.8L171.9 74.4L181.4 76.2L191.0 78.1L191.0 82.6L181.4 80.7L171.9 78.9L162.3 77.3L152.8 75.8L143.2 74.5L133.7 73.4L124.2 72.4L114.6 71.6L105.0 71.0L95.5 70.5L86.0 70.2L76.4 70.1L66.8 70.1L57.3 70.3L47.8 70.6L38.2 71.1L28.6 71.8L19.1 72.6L9.6 73.7L0.0 74.8ZM0.0 95.3L9.6 94.2L19.1 93.1L28.6 92.3L38.2 91.6L47.8 91.1L57.3 90.8L66.8 90.6L76.4 90.6L86.0 90.7L95.5 91.0L105.0 91.5L114.6 92.1L124.2 92.9L133.7 93.9L143.2 95.0L152.8 96.3L162.3 97.8L171.9 99.4L181.4 101.2L191.0 103.1L191.0 107.6L181.4 105.7L171.9 103.9L162.3 102.3L152.8 100.8L143.2 99.5L133.7 98.4L124.2 97.4L114.6 96.6L105.0 96.0L95.5 95.5L86.0 95.2L76.4 95.1L66.8 95.1L57.3 95.3L47.8 95.6L38.2 96.1L28.6 96.8L19.1 97.6L9.6 98.7L0.0 99.8ZM0.0 119.3L9.6 118.2L19.1 117.1L28.6 116.3L38.2 115.6L47.8 115.1L57.3 114.8L66.8 114.6L76.4 114.6L86.0 114.7L95.5 115.0L105.0 115.5L114.6 116.1L124.2 116.9L133.7 117.9L143.2 119.0L152.8 120.3L162.3 121.8L171.9 123.4L181.4 125.2L191.0 127.1L191.0 131.6L181.4 129.7L171.9 127.9L162.3 126.3L152.8 124.8L143.2 123.5L133.7 122.4L124.2 121.4L114.6 120.6L105.0 120.0L95.5 119.5L86.0 119.2L76.4 119.1L66.8 119.1L57.3 119.3L47.8 119.6L38.2 120.1L28.6 120.8L19.1 121.6L9.6 122.7L0.0 123.8ZM0.0 143.3L9.6 142.2L19.1 141.1L28.6 140.3L38.2 139.6L47.8 139.1L57.3 138.8L66.8 138.6L76.4 138.6L86.0 138.7L95.5 139.0L105.0 139.5L114.6 140.1L124.2 140.9L133.7 141.9L143.2 143.0L152.8 144.3L162.3 145.8L171.9 147.4L181.4 149.2L191.0 151.1L191.0 155.6L181.4 153.7L171.9 151.9L162.3 150.3L152.8 148.8L143.2 147.5L133.7 146.4L124.2 145.4L114.6 144.6L105.0 144.0L95.5 143.5L86.0 143.2L76.4 143.1L66.8 143.1L57.3 143.3L47.8 143.6L38.2 144.1L28.6 144.8L19.1 145.6L9.6 146.7L0.0 147.8Z" fill="#d3d6de" fill-opacity="0.75"/></g><path d="M34 17 C55 5 80 2 97 3 C125 4 148 10 160 19" fill="none" stroke="#d0d2d8" stroke-width="2"/><path d="M0 139 Q95 133 191 140 V146 H0Z" fill="#c4c7d0"/><path d="M0 145 Q95 141 191 146 V166 H0Z" fill="#444a5c"/><rect x="8" y="145" width="2.2" height="21" fill="#9aa0ae"/><rect x="24" y="145" width="2.2" height="21" fill="#9aa0ae"/><rect x="40" y="145" width="2.2" height="21" fill="#9aa0ae"/><rect x="150" y="145" width="2.2" height="21" fill="#9aa0ae"/><rect x="166" y="145" width="2.2" height="21" fill="#9aa0ae"/><rect x="182" y="145" width="2.2" height="21" fill="#9aa0ae"/><rect x="42" y="148" width="26" height="18" fill="#7f8aa8" fill-opacity="0.8"/><rect x="111" y="148" width="11" height="18" fill="#c06a9a" fill-opacity="0.8"/><rect x="52" y="149" width="9" height="17" fill="#b87090" fill-opacity="0.7"/><rect x="76" y="150" width="28" height="16" fill="#283040"/><rect x="71" y="147" width="4" height="19" fill="#5ccad8" fill-opacity="0.8"/><rect x="106" y="147" width="4" height="19" fill="#5ccad8" fill-opacity="0.8"/><rect x="140" y="149" width="25" height="17" fill="#7d88a8" fill-opacity="0.7"/><path d="M0 165 H191 V174 H0Z" fill="#7d8498"/><path d="M40 166 H150 V172 H40Z" fill="#3e5238"/><circle cx="62" cy="160" r="6.5" fill="#4f6e40"/><circle cx="97" cy="159" r="6.5" fill="#4f6e40"/><circle cx="131" cy="161" r="6.5" fill="#4f6e40"/><path d="M0 152 Q8 146 16 152 V170 H0Z" fill="#3f5a32"/><path d="M172 156 Q182 150 191 156 V170 H172Z" fill="#3f5a32"/><path d="M0 168 H30 L24 177 H0Z M191 168 H160 L168 177 H191Z" fill="#a0584a" fill-opacity="0.85"/><path d="M42 172 H152 V176 H42Z" fill="#9a6458" fill-opacity="0.8"/><path d="M0 176 H191 V186 H0Z" fill="#8a90a6"/><path d="M0 176 L40 178 L0 186Z" fill="#a9adb8"/><path d="M191 176 L150 178 L191 186Z" fill="#a9adb8"/><path d="M62 179 H82 L79 185 H58Z M114 179 H134 L138 185 H117Z" fill="#b9bdd0"/><path d="M0 186 H191 V214 H0Z" fill="url(#grass)"/></g></defs>
<g transform="translate(55.3 578)"><use href="#bld"/>
<rect x="23" y="20" width="146" height="180" rx="7" fill="#3d5cff" fill-opacity="0.32"/>
<rect x="24" y="21.5" width="144" height="177.5" rx="7" fill="none" stroke="#fff" stroke-width="3.2" stroke-dasharray="13 11" stroke-dashoffset="6"/>
</g>
<g transform="translate(249.8 578)"><use href="#bld"/>
<rect x="23" y="20" width="146" height="180" rx="7" fill="#6f8c7c" fill-opacity="0.2"/>
<rect x="24" y="21.5" width="144" height="177.5" rx="7" fill="none" stroke="#fff" stroke-width="3.2" stroke-dasharray="13 11" stroke-dashoffset="6"/>
</g>
<text x="150.1" y="569.2" font-size="24.6" text-anchor="middle" fill="#111">Control</text>
<text x="344.4" y="569.2" font-size="24.6" text-anchor="middle" fill="#111">Optimal</text>
<defs>
 <radialGradient id="ctrlfill" gradientUnits="userSpaceOnUse" cx="681.9" cy="678.7" r="100">
  <stop offset="0" stop-color="#ffffff"/>
  <stop offset="0.35" stop-color="#f1eded"/>
  <stop offset="0.7" stop-color="#b9adad"/>
  <stop offset="1" stop-color="#5e4e4e"/>
 </radialGradient>
 <radialGradient id="optfill" gradientUnits="userSpaceOnUse" cx="681.9" cy="678.7" r="130">
  <stop offset="0" stop-color="#ffffff" stop-opacity="0.2"/>
  <stop offset="0.7" stop-color="#f6d6d8" stop-opacity="0.6"/>
  <stop offset="1" stop-color="#f0a8ae" stop-opacity="0.9"/>
 </radialGradient>
 <linearGradient id="legc" x1="0" y1="0" x2="0" y2="1"><stop offset="0" stop-color="#9a9a9e"/><stop offset="0.5" stop-color="#e4e4e6"/><stop offset="1" stop-color="#9a9a9e"/></linearGradient>
 <radialGradient id="legcr" cx="0.5" cy="0.5" r="0.7"><stop offset="0" stop-color="#f4f4f4"/><stop offset="1" stop-color="#a8a8ac"/></radialGradient>
 <radialGradient id="legor" cx="0.5" cy="0.5" r="0.7"><stop offset="0" stop-color="#fdf2f2"/><stop offset="1" stop-color="#f2a8ae"/></radialGradient>
</defs>

<linearGradient id="og0" gradientUnits="userSpaceOnUse" x1="743.9" y1="619.4" x2="681.9" y2="678.7"><stop offset="0" stop-color="#f2a4ab" stop-opacity="0.8"/><stop offset="0.25" stop-color="#f6cdd0" stop-opacity="0.65"/><stop offset="1" stop-color="#ffffff" stop-opacity="0.2"/></linearGradient><path d="M681.9 678.7L681.9 554.5L800.7 678.7Z" fill="url(#og0)"/><linearGradient id="og1" gradientUnits="userSpaceOnUse" x1="737.1" y1="738.0" x2="681.9" y2="678.7"><stop offset="0" stop-color="#f2a4ab" stop-opacity="0.8"/><stop offset="0.25" stop-color="#f6cdd0" stop-opacity="0.65"/><stop offset="1" stop-color="#ffffff" stop-opacity="0.2"/></linearGradient><path d="M681.9 678.7L800.7 678.7L681.9 789.4Z" fill="url(#og1)"/><linearGradient id="og2" gradientUnits="userSpaceOnUse" x1="627.3" y1="743.4" x2="681.9" y2="678.7"><stop offset="0" stop-color="#f2a4ab" stop-opacity="0.8"/><stop offset="0.25" stop-color="#f6cdd0" stop-opacity="0.65"/><stop offset="1" stop-color="#ffffff" stop-opacity="0.2"/></linearGradient><path d="M681.9 678.7L681.9 789.4L550.7 678.7Z" fill="url(#og2)"/><linearGradient id="og3" gradientUnits="userSpaceOnUse" x1="619.9" y1="613.2" x2="681.9" y2="678.7"><stop offset="0" stop-color="#f2a4ab" stop-opacity="0.8"/><stop offset="0.25" stop-color="#f6cdd0" stop-opacity="0.65"/><stop offset="1" stop-color="#ffffff" stop-opacity="0.2"/></linearGradient><path d="M681.9 678.7L550.7 678.7L681.9 554.5Z" fill="url(#og3)"/>
<linearGradient id="cg0" gradientUnits="userSpaceOnUse" x1="729.9" y1="632.1" x2="681.9" y2="678.7"><stop offset="0" stop-color="#7a6767" stop-opacity="1"/><stop offset="0.16" stop-color="#a89a9a" stop-opacity="1"/><stop offset="0.45" stop-color="#e0d8d8" stop-opacity="1"/><stop offset="1" stop-color="#fbfafa" stop-opacity="1"/></linearGradient><path d="M681.9 678.7L681.9 582.6L775.2 678.7Z" fill="url(#cg0)"/><linearGradient id="cg1" gradientUnits="userSpaceOnUse" x1="731.4" y1="725.3" x2="681.9" y2="678.7"><stop offset="0" stop-color="#7a6767" stop-opacity="1"/><stop offset="0.16" stop-color="#a89a9a" stop-opacity="1"/><stop offset="0.45" stop-color="#e0d8d8" stop-opacity="1"/><stop offset="1" stop-color="#fbfafa" stop-opacity="1"/></linearGradient><path d="M681.9 678.7L775.2 678.7L681.9 777.9Z" fill="url(#cg1)"/><linearGradient id="cg2" gradientUnits="userSpaceOnUse" x1="632.3" y1="727.1" x2="681.9" y2="678.7"><stop offset="0" stop-color="#7a6767" stop-opacity="1"/><stop offset="0.16" stop-color="#a89a9a" stop-opacity="1"/><stop offset="0.45" stop-color="#e0d8d8" stop-opacity="1"/><stop offset="1" stop-color="#fbfafa" stop-opacity="1"/></linearGradient><path d="M681.9 678.7L681.9 777.9L585.0 678.7Z" fill="url(#cg2)"/><linearGradient id="cg3" gradientUnits="userSpaceOnUse" x1="633.9" y1="630.3" x2="681.9" y2="678.7"><stop offset="0" stop-color="#7a6767" stop-opacity="1"/><stop offset="0.16" stop-color="#a89a9a" stop-opacity="1"/><stop offset="0.45" stop-color="#e0d8d8" stop-opacity="1"/><stop offset="1" stop-color="#fbfafa" stop-opacity="1"/></linearGradient><path d="M681.9 678.7L585.0 678.7L681.9 582.6Z" fill="url(#cg3)"/>
<path d="M681.9 651.7L708.9 678.7L681.9 705.7L654.9 678.7ZM681.9 624.7L735.9 678.7L681.9 732.7L627.9 678.7ZM681.9 597.7L762.9 678.7L681.9 759.7L600.9 678.7ZM681.9 570.7L789.9 678.7L681.9 786.7L573.9 678.7ZM681.9 543.7L816.9 678.7L681.9 813.7L546.9 678.7Z" fill="none" stroke="#bdb5b8" stroke-opacity="0.6" stroke-width="1"/>
<path d="M681.9 543.7V813.7M546.9 678.7H816.9" stroke="#333" stroke-width="1"/>
<path d="M681.9 554.5L800.7 678.7L681.9 789.4L550.7 678.7Z" fill="none" stroke="#e3262b" stroke-width="2.2" stroke-linejoin="miter"/>
<path d="M681.9 582.6L775.2 678.7L681.9 777.9L585.0 678.7Z" fill="none" stroke="#111" stroke-width="2.6" stroke-linejoin="miter"/>
<circle cx="681.9" cy="554.5" r="3.6" fill="#e3262b"/>
<circle cx="800.7" cy="678.7" r="3.6" fill="#e3262b"/>
<circle cx="681.9" cy="789.4" r="3.6" fill="#e3262b"/>
<circle cx="550.7" cy="678.7" r="3.6" fill="#e3262b"/>
<rect x="678.4" y="579.1" width="7" height="7" fill="#111"/>
<rect x="771.7" y="675.2" width="7" height="7" fill="#111"/>
<rect x="678.4" y="774.4" width="7" height="7" fill="#111"/>
<rect x="581.5" y="675.2" width="7" height="7" fill="#111"/>
<text x="679" y="548.8" font-size="19" fill="#222" text-anchor="end">16</text>
<text x="679" y="576.6" font-size="19" fill="#222" text-anchor="end">14</text>
<text x="679" y="603.4" font-size="19" fill="#222" text-anchor="end">12</text>
<text x="679" y="630.5" font-size="19" fill="#222" text-anchor="end">10</text>
<text x="679" y="657.4" font-size="19" fill="#222" text-anchor="end">8</text>
<text x="709.6" y="672" font-size="19" fill="#222" text-anchor="middle">15</text>
<text x="736.4" y="672" font-size="19" fill="#222" text-anchor="middle">20</text>
<text x="763" y="672" font-size="19" fill="#222" text-anchor="middle">25</text>
<text x="790" y="672" font-size="19" fill="#222" text-anchor="middle">30</text>
<text x="816.8" y="672" font-size="19" fill="#222" text-anchor="middle">35</text>
<text x="545" y="698.5" font-size="19" fill="#222" text-anchor="middle">5</text>
<text x="572.5" y="698.5" font-size="19" fill="#222" text-anchor="middle">4</text>
<text x="600" y="698.5" font-size="19" fill="#222" text-anchor="middle">3</text>
<text x="626.8" y="698.5" font-size="19" fill="#222" text-anchor="middle">2</text>
<text x="654" y="698.5" font-size="19" fill="#222" text-anchor="middle">1</text>
<text x="685" y="711.8" font-size="19" fill="#222">20</text>
<text x="685" y="738.6" font-size="19" fill="#222">40</text>
<text x="685" y="765.4" font-size="19" fill="#222">60</text>
<text x="685" y="792.9" font-size="19" fill="#222">80</text>
<text x="685" y="820.7" font-size="19" fill="#222">100</text>
<text x="681.5" y="525.2" font-size="19.6" fill="#222" text-anchor="middle">PCE (%)</text>
<text x="831" y="685" font-size="19.6" fill="#222">AVT (%)</text>
<text x="532" y="685.6" font-size="19.6" fill="#222" text-anchor="end">LUE (%)</text>
<text x="681.5" y="845" font-size="19.6" fill="#222" text-anchor="middle">CRI</text>
<rect x="737.5" y="779" width="41" height="19.5" fill="url(#legcr)"/>
<rect x="737.5" y="802" width="41" height="20.5" fill="url(#legor)"/>
<text x="784.5" y="795.7" font-size="19.6" fill="#222">Control</text>
<text x="784.5" y="819" font-size="19.6" fill="#222">Optimal</text>
<text x="898.5" y="530.5" font-size="27" font-weight="bold" fill="#e01e24" text-anchor="end">PCE=15.2%</text>
<text x="898" y="565.8" font-size="23.8" fill="#e01e24" text-anchor="end">AVT=32.0%</text>
<text x="898" y="599.8" font-size="23.8" fill="#e01e24" text-anchor="end">LUE=4.86%</text>
<text x="898" y="633.5" font-size="23.8" fill="#e01e24" text-anchor="end">CRI=82</text>
</svg></body></html>
